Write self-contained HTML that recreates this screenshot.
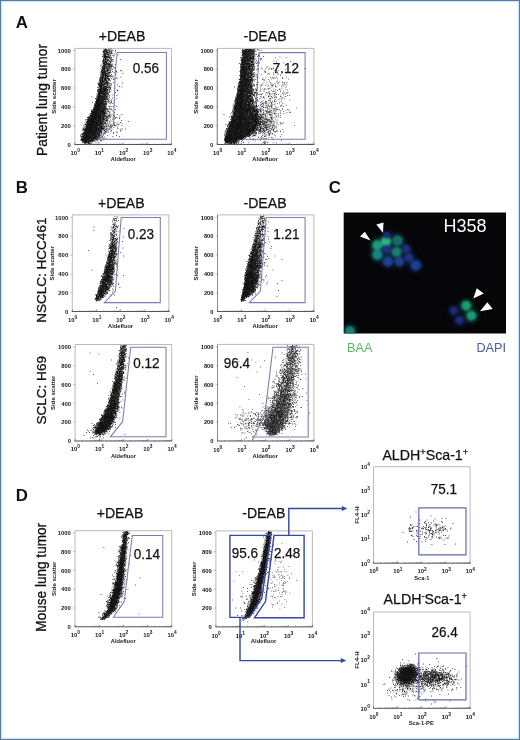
<!DOCTYPE html>
<html lang="en"><head><meta charset="utf-8"><title>Figure</title>
<style>html,body{margin:0;padding:0;background:#fff}body{width:520px;height:740px;overflow:hidden}svg{display:block;font-family:'Liberation Sans', Arial, Helvetica, sans-serif}</style></head><body>
<svg width="520" height="740" viewBox="0 0 520 740">
<defs><filter id="b1" x="-50%" y="-50%" width="200%" height="200%"><feGaussianBlur stdDeviation="1.1"/></filter><filter id="b3" x="-100%" y="-100%" width="300%" height="300%"><feGaussianBlur stdDeviation="2.6"/></filter><filter id="b2" x="-5%" y="-5%" width="110%" height="110%"><feGaussianBlur stdDeviation="0.3"/></filter><clipPath id="cimg"><rect x="343.7" y="212.5" width="162.3" height="121"/></clipPath></defs>
<rect x="0" y="0" width="520" height="740" fill="#fff"/>
<rect x="2.5" y="2.5" width="515" height="735" fill="none" stroke="#f1faff" stroke-width="1"/>
<rect x="1.5" y="1.5" width="517" height="737" fill="none" stroke="#cfe7fa" stroke-width="1"/>
<rect x="0.5" y="0.5" width="519" height="739" fill="none" stroke="#587c9f" stroke-width="1"/>
<text x="15.7" y="28.3" font-size="16.8" text-anchor="start" font-weight="bold" fill="#111">A</text>
<text x="15.7" y="193.3" font-size="16.8" text-anchor="start" font-weight="bold" fill="#111">B</text>
<text x="328.7" y="193.3" font-size="16.8" text-anchor="start" font-weight="bold" fill="#111">C</text>
<text x="15.7" y="501.2" font-size="16.8" text-anchor="start" font-weight="bold" fill="#111">D</text>
<text transform="translate(47 99.9) rotate(-90)" font-size="13.8" text-anchor="middle" font-weight="normal" fill="#111" stroke="#111" stroke-width="0.3" textLength="112" lengthAdjust="spacingAndGlyphs">Patient lung tumor</text>
<text transform="translate(45.6 270.2) rotate(-90)" font-size="13.7" text-anchor="middle" font-weight="normal" fill="#111" stroke="#111" stroke-width="0.3" textLength="105.3" lengthAdjust="spacingAndGlyphs">NSCLC: HCC461</text>
<text transform="translate(46 390.3) rotate(-90)" font-size="13.7" text-anchor="middle" font-weight="normal" fill="#111" stroke="#111" stroke-width="0.3" textLength="68.5" lengthAdjust="spacingAndGlyphs">SCLC: H69</text>
<text transform="translate(46.3 577.3) rotate(-90)" font-size="13.8" text-anchor="middle" font-weight="normal" fill="#111" stroke="#111" stroke-width="0.3" textLength="108.8" lengthAdjust="spacingAndGlyphs">Mouse lung tumor</text>
<text x="122" y="41" font-size="14.1" text-anchor="middle" font-weight="normal" fill="#111" stroke="#111" stroke-width="0.25">+DEAB</text>
<text x="265" y="41" font-size="14.1" text-anchor="middle" font-weight="normal" fill="#111" stroke="#111" stroke-width="0.25">-DEAB</text>
<text x="121.3" y="207.5" font-size="14.1" text-anchor="middle" font-weight="normal" fill="#111" stroke="#111" stroke-width="0.25">+DEAB</text>
<text x="265" y="207.5" font-size="14.1" text-anchor="middle" font-weight="normal" fill="#111" stroke="#111" stroke-width="0.25">-DEAB</text>
<text x="120" y="518.3" font-size="14.1" text-anchor="middle" font-weight="normal" fill="#111" stroke="#111" stroke-width="0.25">+DEAB</text>
<text x="263.8" y="518.3" font-size="14.1" text-anchor="middle" font-weight="normal" fill="#111" stroke="#111" stroke-width="0.25">-DEAB</text>
<g>
<path d="M74.9 144.5V48.4H171.5V144.5" fill="none" stroke="#b9b9b9" stroke-width="1"/>
<path d="M74.4 144.5H172" fill="none" stroke="#555" stroke-width="1"/>
<path d="M74.9 144.5v-2M82.2 144.5v-1M86.4 144.5v-1M89.4 144.5v-1M91.8 144.5v-1M93.7 144.5v-1M95.3 144.5v-1M96.7 144.5v-1M97.9 144.5v-1M99.1 144.5v-2M106.3 144.5v-1M110.6 144.5v-1M113.6 144.5v-1M115.9 144.5v-1M117.8 144.5v-1M119.5 144.5v-1M120.9 144.5v-1M122.1 144.5v-1M123.2 144.5v-2M130.5 144.5v-1M134.7 144.5v-1M137.7 144.5v-1M140.1 144.5v-1M142 144.5v-1M143.6 144.5v-1M145 144.5v-1M146.2 144.5v-1M147.3 144.5v-2M154.6 144.5v-1M158.9 144.5v-1M161.9 144.5v-1M164.2 144.5v-1M166.1 144.5v-1M167.8 144.5v-1M169.2 144.5v-1M170.4 144.5v-1M171.5 144.5v-2" stroke="#555" stroke-width="0.6" fill="none"/>
<text x="75.2" y="154.7" font-size="5.9" text-anchor="middle" font-weight="bold" fill="#1a1a1a">10<tspan dy="-2.9" font-size="4.8">0</tspan></text>
<text x="99.4" y="154.7" font-size="5.9" text-anchor="middle" font-weight="bold" fill="#1a1a1a">10<tspan dy="-2.9" font-size="4.8">1</tspan></text>
<text x="123.5" y="154.7" font-size="5.9" text-anchor="middle" font-weight="bold" fill="#1a1a1a">10<tspan dy="-2.9" font-size="4.8">2</tspan></text>
<text x="147.7" y="154.7" font-size="5.9" text-anchor="middle" font-weight="bold" fill="#1a1a1a">10<tspan dy="-2.9" font-size="4.8">3</tspan></text>
<text x="171.8" y="154.7" font-size="5.9" text-anchor="middle" font-weight="bold" fill="#1a1a1a">10<tspan dy="-2.9" font-size="4.8">4</tspan></text>
<path d="M74.9 125.7h-2M74.9 106.9h-2M74.9 88h-2M74.9 69.2h-2M74.9 50.4h-2" stroke="#999" stroke-width="0.6" fill="none"/>
<text x="70.8" y="146.7" font-size="5.9" text-anchor="end" font-weight="bold" fill="#1a1a1a">0</text>
<text x="70.8" y="127.9" font-size="5.9" text-anchor="end" font-weight="bold" fill="#1a1a1a">200</text>
<text x="70.8" y="109.1" font-size="5.9" text-anchor="end" font-weight="bold" fill="#1a1a1a">400</text>
<text x="70.8" y="90.2" font-size="5.9" text-anchor="end" font-weight="bold" fill="#1a1a1a">600</text>
<text x="70.8" y="71.4" font-size="5.9" text-anchor="end" font-weight="bold" fill="#1a1a1a">800</text>
<text x="70.8" y="52.6" font-size="5.9" text-anchor="end" font-weight="bold" fill="#1a1a1a">1000</text>
<text x="123.2" y="161" font-size="5.7" text-anchor="middle" font-weight="bold" fill="#222">Aldefluor</text>
<text transform="translate(56.3 96.5) rotate(-90)" font-size="6.1" text-anchor="middle" font-weight="bold" fill="#222">Side scatter</text>
<path d="M105 49h0.8m4.7 0h0.8M104.5 49.5h1.3m0.2 0h0.8m1.2 0h0.8m0.2 0h0.8M103 50h0.8m0.2 0h1.3m0.2 0h1.8m0.7 0h1.8m1.7 0h0.8M104.5 50.5h1.3m0.2 0h1.8m1.7 0h0.8m2.2 0h0.8m1.7 0h0.8M102.5 51h0.8m0.7 0h2.8m0.2 0h0.8m1.2 0h0.8m1.2 0h1.3M103 51.5h1.3m0.2 0h1.8m0.2 0h0.8m0.2 0h0.8m0.7 0h0.8m0.2 0h0.8M103 52h1.8m0.7 0h0.8m2.7 0h1.3m0.7 0h0.8m3.2 0h0.8M103 52.5h0.8m0.2 0h0.8m1.2 0h2.8m2.2 0h0.8M103 53h1.3m0.2 0h0.8m0.2 0h1.3m0.2 0h3.3m1.2 0h0.8M104 53.5h1.8m0.7 0h1.3m1.7 0h1.3m0.2 0h0.8m0.7 0h0.8M104.5 54h0.8m1.2 0h1.3m2.7 0h0.8M102.5 54.5h0.8m0.7 0h2.8m0.7 0h1.3m0.7 0h0.8m4.2 0h0.8M103 55h2.8m1.2 0h0.8m0.2 0h0.8m8.7 0h0.8M103.5 55.5h1.3m0.2 0h1.3m1.7 0h0.8m1.2 0h0.8m1.7 0h0.8m0.2 0h0.8M104.5 56h1.8m1.2 0h0.8m0.7 0h1.3m0.2 0h0.8M102 56.5h1.3m0.2 0h5.3M104 57h2.8m0.7 0h1.3m0.2 0h1.3m3.2 0h0.8M103.5 57.5h1.8m0.2 0h2.3m0.2 0h0.8m0.2 0h0.8m1.2 0h0.8M103 58h1.8m0.2 0h1.3m0.7 0h0.8m1.2 0h0.8m0.2 0h1.3M105 58.5h1.3m3.2 0h0.8M103 59h0.8m0.2 0h0.8m0.2 0h1.3m0.2 0h1.8m1.7 0h0.8m0.2 0h0.8M103 59.5h0.8m0.7 0h1.8m0.2 0h1.3m0.2 0h0.8m1.2 0h0.8m1.2 0h0.8m7.2 0h0.8M102.5 60h0.8m0.2 0h0.8m0.2 0h1.3m2.2 0h0.8m2.2 0h0.8m1.2 0h0.8M103 60.5h1.3m0.2 0h1.3m0.7 0h2.8m2.2 0h0.8M102.5 61h1.3m1.2 0h0.8m0.7 0h1.3m1.7 0h1.3m0.2 0h0.8M102.5 61.5h2.3m0.2 0h1.8m2.2 0h1.3m0.2 0h0.8m1.2 0h0.8M102.5 62h1.3m0.7 0h0.8m0.7 0h1.3m0.7 0h0.8M103.5 62.5h1.3m0.2 0h2.3m2.7 0h1.3M103 63h2.8m0.2 0h1.3m0.2 0h0.8m0.2 0h0.8m0.7 0h0.8M102.5 63.5h2.8m0.7 0h0.8m0.2 0h0.8m0.7 0h1.3M104 64h0.8m0.2 0h1.8m0.7 0h1.3m0.2 0h2.3m0.7 0h0.8M103.5 64.5h2.8m0.2 0h0.8m0.2 0h2.8m0.2 0h0.8m3.7 0h0.8M100.5 65h0.8m1.2 0h1.8m0.2 0h0.8m0.7 0h0.8m0.7 0h0.8m0.2 0h1.8m0.7 0h0.8m0.7 0h0.8M103 65.5h1.3m0.2 0h2.3m1.7 0h0.8m1.2 0h0.8m0.2 0h0.8M100.5 66h0.8m1.2 0h0.8m0.7 0h1.3m2.2 0h2.8m0.7 0h0.8M102 66.5h0.8m0.7 0h1.8m0.7 0h0.8m0.2 0h1.3m0.7 0h0.8m0.2 0h0.8m0.2 0h0.8m0.7 0h0.8M102 67h0.8m0.2 0h0.8m0.7 0h1.8m0.2 0h1.3m0.2 0h1.3m1.2 0h0.8m1.7 0h0.8M101.5 67.5h0.8m0.2 0h1.3m0.2 0h1.3m0.7 0h0.8m2.2 0h0.8m0.7 0h0.8m3.2 0h0.8M102 68h4.3m0.7 0h0.8m0.2 0h1.3m1.2 0h0.8M102 68.5h0.8m0.2 0h3.8m0.7 0h0.8m0.7 0h0.8m4.7 0h0.8M100.5 69h0.8m0.7 0h0.8m0.2 0h0.8m2.7 0h1.3m0.7 0h0.8m0.7 0h1.3m0.2 0h0.8M101.5 69.5h0.8m0.7 0h0.8m0.2 0h1.3m1.7 0h1.8m3.2 0h0.8M101.5 70h3.3m1.2 0h2.3m0.7 0h0.8M101.5 70.5h1.8m0.2 0h1.8m0.2 0h0.8m0.2 0h2.8m1.2 0h0.8m8.7 0h0.8M101 71h0.8m0.2 0h1.3m0.2 0h2.3m0.2 0h0.8m0.2 0h1.8m1.2 0h0.8m4.2 0h0.8m0.2 0h0.8m4.7 0h0.8M100.5 71.5h0.8m0.2 0h0.8m0.2 0h1.3m0.2 0h0.8m0.2 0h1.3m0.7 0h0.8m1.7 0h0.8m1.7 0h0.8m3.2 0h0.8M101.5 72h0.8m0.2 0h2.3m0.2 0h1.3m0.7 0h0.8m2.2 0h0.8M100.5 72.5h0.8m0.2 0h3.8m0.2 0h0.8m1.2 0h1.3m0.2 0h1.3m0.2 0h0.8m2.2 0h0.8m2.2 0h0.8M101 73h2.8m0.2 0h2.3m1.7 0h1.3m0.2 0h0.8M100.5 73.5h0.8m0.7 0h1.8m0.2 0h1.8m0.2 0h1.3m0.2 0h0.8m0.2 0h0.8m13.2 0h0.8M102 74h2.3m0.7 0h1.3m0.2 0h1.3m0.7 0h1.3m5.2 0h0.8M100.5 74.5h1.3m0.2 0h2.3m0.2 0h1.8m1.2 0h0.8m2.7 0h0.8M101.5 75h1.3m0.2 0h3.3m0.2 0h0.8m0.2 0h1.8m6.2 0h0.8M100.5 75.5h0.8m0.2 0h0.8m0.2 0h1.8m0.2 0h3.3m0.7 0h0.8m0.7 0h0.8M100 76h0.8m1.2 0h1.3m0.2 0h0.8m0.2 0h3.8m1.2 0h1.3m0.2 0h0.8m0.7 0h0.8M100.5 76.5h0.8m0.2 0h1.3m0.2 0h0.8m1.2 0h1.8m0.7 0h1.8m0.2 0h0.8m1.2 0h0.8M101 77h0.8m0.2 0h1.8m0.2 0h0.8m0.2 0h1.3m0.7 0h2.3m3.2 0h0.8m7.2 0h0.8M100.5 77.5h1.3m0.2 0h2.3m0.7 0h0.8m0.2 0h0.8m0.2 0h0.8M99 78h1.3m0.2 0h2.3m0.2 0h0.8m0.2 0h0.8m0.2 0h1.3m0.7 0h0.8m7.7 0h1.3m0.7 0h0.8M100 78.5h3.3m0.7 0h0.8m0.2 0h1.3m0.2 0h2.8m1.7 0h0.8M100 79h0.8m0.2 0h2.3m0.2 0h0.8m0.2 0h2.3m1.2 0h0.8m0.2 0h1.3m2.7 0h0.8m0.7 0h0.8M99.5 79.5h1.3m0.7 0h1.3m1.2 0h2.3m2.2 0h1.3m3.2 0h0.8M99 80h1.3m0.7 0h1.3m0.2 0h2.8m0.2 0h1.3m0.2 0h1.3m0.2 0h0.8M99.5 80.5h1.8m0.2 0h1.8m1.2 0h0.8m0.2 0h1.3m1.2 0h0.8m0.7 0h0.8M99.5 81h1.8m0.2 0h2.8m0.2 0h0.8m0.2 0h0.8m0.2 0h0.8m2.7 0h0.8M99.5 81.5h1.8m0.7 0h3.3m0.7 0h1.3M99.5 82h2.3m0.2 0h2.3m0.7 0h0.8m0.7 0h1.8M98.5 82.5h0.8m0.7 0h2.3m0.2 0h0.8m1.7 0h3.3m0.2 0h0.8m3.7 0h0.8M99 83h0.8m1.2 0h2.3m0.2 0h1.8m0.2 0h0.8m0.2 0h1.3m0.7 0h0.8m12.7 0h0.8M97.5 83.5h0.8m0.2 0h0.8m0.2 0h1.3m0.2 0h1.8m1.2 0h2.3m0.2 0h0.8m0.2 0h0.8m0.2 0h1.3m0.7 0h0.8M98.5 84h5.8m0.2 0h0.8m0.2 0h0.8m0.7 0h0.8m3.2 0h0.8M98 84.5h0.8m0.2 0h3.3m0.7 0h2.3m1.2 0h1.3M98 85h1.3m0.2 0h0.8m0.2 0h1.3m0.2 0h1.3m0.2 0h0.8m0.2 0h0.8m0.7 0h0.8m0.2 0h2.8m1.2 0h0.8m5.2 0h0.8M99 85.5h3.8m0.2 0h0.8m3.2 0h0.8m2.2 0h0.8M99 86h0.8m0.2 0h1.3m0.2 0h4.3m0.2 0h0.8m0.2 0h0.8m0.7 0h0.8m0.7 0h0.8M99 86.5h3.3m0.2 0h0.8m0.7 0h2.8m1.7 0h0.8m9.7 0h0.8M98 87h0.8m0.2 0h3.8m0.7 0h2.8m0.2 0h1.3m1.2 0h0.8m11.7 0h0.8M97 87.5h0.8m2.2 0h0.8m0.2 0h1.3m0.7 0h1.8m1.2 0h2.3m0.2 0h1.3m0.7 0h0.8M98.5 88h1.3m0.7 0h6.3m0.7 0h1.3m0.2 0h0.8m0.2 0h0.8m3.7 0h0.8M99.5 88.5h4.3m0.2 0h2.8m3.2 0h0.8M98.5 89h0.8m0.2 0h1.3m0.2 0h0.8m1.2 0h0.8m0.2 0h1.8m0.2 0h1.3m1.2 0h0.8M97.5 89.5h1.3m0.2 0h3.8m0.2 0h2.8m0.2 0h2.3m1.2 0h0.8M97.5 90h5.3m0.2 0h3.3m1.2 0h0.8m0.7 0h0.8m0.7 0h0.8m5.2 0h0.8M97.5 90.5h1.3m0.7 0h1.8m0.2 0h1.3m0.2 0h3.8m0.2 0h0.8m9.2 0h0.8M98 91h3.8m0.2 0h0.8m0.2 0h1.8m0.2 0h3.3m0.7 0h0.8m7.7 0h0.8M97 91.5h1.3m0.7 0h4.8m0.2 0h1.3m0.2 0h0.8m0.2 0h0.8m2.2 0h0.8M98 92h6.3m1.2 0h0.8m0.7 0h1.3m0.7 0h0.8M98 92.5h4.3m0.2 0h1.3m0.2 0h0.8m0.2 0h1.3m0.2 0h0.8m2.2 0h0.8m4.7 0h0.8M98 93h0.8m0.7 0h3.3m0.2 0h1.8m0.2 0h1.8m0.2 0h0.8m0.2 0h0.8M98 93.5h6.8m0.2 0h1.3m0.2 0h1.8M96.5 94h0.8m0.2 0h0.8m0.2 0h2.8m0.7 0h0.8m0.2 0h2.3m2.2 0h0.8M97.5 94.5h3.8m1.2 0h2.3m0.2 0h1.3m0.2 0h0.8m0.7 0h0.8m5.2 0h0.8M98.5 95h0.8m0.2 0h5.3m0.2 0h1.8m0.2 0h0.8m0.2 0h0.8m3.7 0h0.8M97 95.5h0.8m0.2 0h0.8m0.2 0h2.3m0.7 0h1.3m0.7 0h1.8m0.7 0h0.8m1.7 0h0.8m6.7 0h0.8M96.5 96h0.8m0.7 0h3.8m0.2 0h2.3m0.2 0h1.8M97.5 96.5h5.3m0.2 0h2.8m0.2 0h1.8m0.7 0h0.8M91.5 97h0.8m3.7 0h0.8m0.2 0h4.3m0.2 0h1.8m0.2 0h1.3m0.2 0h0.8m0.2 0h0.8M97 97.5h0.8m0.2 0h5.3m0.2 0h1.3m0.7 0h0.8m0.2 0h1.3m1.2 0h0.8M96 98h0.8m0.2 0h1.3m0.2 0h2.3m1.2 0h1.3m0.2 0h1.3m0.2 0h1.8m5.2 0h0.8M95 98.5h0.8m1.2 0h3.3m0.2 0h4.8m1.2 0h1.3m0.7 0h0.8m7.2 0h0.8M95.5 99h0.8m0.2 0h5.8m0.2 0h1.3m0.2 0h3.3M96 99.5h0.8m0.2 0h3.3m0.2 0h2.3m0.2 0h3.3m0.2 0h0.8m0.2 0h0.8m0.2 0h0.8M96 100h1.3m0.2 0h6.8m0.2 0h1.3m1.7 0h0.8m2.7 0h0.8M96 100.5h3.8m0.2 0h2.3m0.2 0h1.3m1.7 0h0.8m1.7 0h0.8m4.7 0h0.8M96 101h5.8m0.2 0h1.8m0.2 0h0.8m0.2 0h0.8m4.7 0h1.3M95 101.5h1.8m0.2 0h4.8m0.2 0h0.8m0.2 0h2.8m0.2 0h0.8m0.7 0h0.8m0.7 0h0.8M95.5 102h2.3m0.2 0h3.8m0.2 0h2.3m0.2 0h0.8m0.2 0h0.8m0.2 0h0.8m0.7 0h0.8m1.7 0h0.8M92 102.5h0.8m2.7 0h3.8m0.2 0h3.8m1.7 0h0.8m2.2 0h0.8m2.2 0h0.8m2.2 0h0.8M95.5 103h5.8m0.2 0h2.8m0.2 0h0.8m1.2 0h0.8m3.2 0h0.8M94.5 103.5h0.8m0.2 0h8.3m0.2 0h2.8m2.7 0h0.8m2.2 0h0.8M94.5 104h0.8m0.2 0h8.3m1.7 0h1.3M94.5 104.5h2.3m0.2 0h4.8m0.7 0h3.3m0.2 0h0.8M94.5 105h6.3m0.2 0h3.3m0.2 0h1.8M94 105.5h6.8m0.2 0h1.8m0.2 0h1.3m0.2 0h0.8m9.2 0h0.8M94 106h8.8m0.7 0h0.8m0.2 0h1.3m0.7 0h0.8m1.2 0h0.8M95 106.5h6.3m0.2 0h0.8m0.2 0h0.8m0.2 0h2.3m4.2 0h0.8m0.7 0h0.8m4.2 0h0.8M93.5 107h0.8m0.2 0h7.8m0.2 0h0.8m0.7 0h1.3m0.7 0h0.8m2.2 0h0.8m3.2 0h0.8M93.5 107.5h7.8m0.2 0h4.3M93.5 108h0.8m0.2 0h6.3m0.2 0h4.3m3.7 0h0.8M93.5 108.5h5.3m0.2 0h1.3m0.2 0h1.3m0.2 0h2.8m0.2 0h1.3m0.2 0h0.8M93.5 109h0.8m0.2 0h5.8m0.2 0h1.8m0.7 0h2.8m0.2 0h1.3m0.2 0h1.3m1.2 0h0.8m0.2 0h0.8M92.5 109.5h8.8m0.2 0h2.3m0.2 0h0.8m0.2 0h0.8m1.2 0h0.8m1.7 0h0.8m4.7 0h0.8M91.5 110h0.8m0.7 0h2.3m0.2 0h7.8m0.2 0h1.3m0.7 0h1.8m4.2 0h0.8M91 110.5h0.8m0.7 0h0.8m0.2 0h6.8m0.2 0h4.8m2.2 0h0.8M91.5 111h0.8m1.2 0h4.3m0.2 0h3.8m0.2 0h2.3m0.7 0h0.8m6.7 0h0.8M91 111.5h7.3m0.2 0h5.8m0.2 0h1.3m1.7 0h1.3M91 112h10.3m0.2 0h3.3m0.7 0h0.8m0.2 0h0.8m0.2 0h0.8m0.7 0h1.3M91.5 112.5h6.3m0.2 0h3.8m0.2 0h3.3m0.2 0h0.8m7.7 0h0.8M91.5 113h8.8m0.2 0h4.8m4.2 0h0.8M90 113.5h1.3m0.2 0h7.8m0.2 0h1.8m0.2 0h2.3m0.2 0h1.8m0.2 0h0.8M90.5 114h8.8m0.2 0h0.8m0.2 0h1.3m0.7 0h0.8m0.2 0h1.8m0.2 0h0.8m0.2 0h1.3m1.2 0h0.8M91.5 114.5h6.3m0.2 0h3.3m0.2 0h2.8m0.2 0h0.8m4.2 0h0.8m1.2 0h0.8m4.7 0h0.8m3.7 0h0.8M89.5 115h8.3m0.7 0h2.8m0.2 0h1.3m0.2 0h1.8m3.2 0h0.8m5.2 0h0.8M90 115.5h9.8m0.2 0h1.3m0.2 0h0.8m0.2 0h2.8m0.2 0h0.8m1.2 0h0.8m0.2 0h0.8m0.2 0h0.8m2.7 0h0.8M89.5 116h13.3m1.2 0h0.8m0.2 0h0.8m0.7 0h0.8m1.7 0h0.8m1.7 0h0.8m7.2 0h0.8M89.5 116.5h2.3m0.2 0h4.8m0.2 0h4.8m0.2 0h1.3m0.2 0h1.3m0.2 0h0.8m0.2 0h0.8m0.2 0h0.8m0.7 0h0.8m0.2 0h0.8m3.7 0h0.8M88 117h1.3m0.2 0h11.8m0.2 0h2.8m5.2 0h1.3m3.7 0h0.8M87 117.5h1.3m0.2 0h2.3m0.2 0h10.3m0.7 0h0.8m0.2 0h1.3m1.7 0h0.8m0.2 0h1.3m7.2 0h0.8m0.2 0h0.8M87.5 118h17.3m0.2 0h1.3m1.2 0h0.8m1.2 0h0.8m8.7 0h0.8M88 118.5h0.8m0.7 0h0.8m0.2 0h10.8m0.2 0h1.3m0.2 0h1.3m1.2 0h1.3m1.2 0h0.8m6.2 0h0.8m3.2 0h0.8M87.5 119h0.8m0.2 0h7.3m0.2 0h1.8m0.2 0h0.8m0.2 0h3.3m0.7 0h1.3m0.2 0h0.8m1.2 0h0.8m4.7 0h0.8m1.2 0h0.8M85.5 119.5h0.8m0.2 0h0.8m0.2 0h2.3m0.2 0h7.3m0.7 0h3.3m0.7 0h3.3m1.2 0h1.3M87 120h0.8m0.2 0h15.8m2.2 0h0.8m3.2 0h0.8M87.5 120.5h7.8m0.2 0h2.3m0.2 0h3.8m0.2 0h0.8m1.7 0h1.3m0.2 0h0.8m0.2 0h1.3m12.7 0h0.8M85.5 121h0.8m0.7 0h11.8m0.2 0h2.8m0.2 0h2.3m1.2 0h0.8m5.2 0h0.8M86.5 121.5h12.3m0.2 0h1.8m1.2 0h0.8m0.2 0h0.8m0.7 0h0.8m1.2 0h0.8m1.7 0h0.8m18.2 0h0.8M86 122h1.8m0.2 0h7.3m0.2 0h2.3m0.2 0h6.8m1.7 0h0.8M86.5 122.5h1.8m0.2 0h9.8m0.2 0h4.8m1.2 0h1.3m3.7 0h0.8m4.2 0h0.8m4.7 0h0.8M84.5 123h0.8m1.2 0h4.8m0.2 0h11.3m4.2 0h0.8m0.7 0h0.8m8.2 0h0.8m3.2 0h0.8M87 123.5h2.3m0.2 0h6.3m0.2 0h2.8m0.2 0h0.8m0.2 0h1.8m0.2 0h1.3m0.7 0h0.8m0.2 0h1.3M85.5 124h1.3m0.2 0h7.3m0.2 0h1.3m0.2 0h2.3m0.2 0h0.8m0.2 0h0.8m0.7 0h2.8m0.7 0h0.8m0.2 0h1.3m4.7 0h0.8m1.7 0h0.8M84.5 124.5h15.3m0.2 0h2.3m0.7 0h1.3m4.2 0h0.8m0.7 0h0.8m6.7 0h0.8m0.2 0h0.8M86 125h9.3m0.2 0h0.8m0.2 0h2.3m0.2 0h1.3m0.2 0h3.3m2.2 0h1.3m6.7 0h0.8m1.2 0h0.8M83.5 125.5h0.8m1.7 0h1.8m0.2 0h0.8m0.2 0h5.8m0.2 0h5.3m0.2 0h0.8m6.2 0h0.8m2.2 0h0.8m2.7 0h1.3m6.2 0h0.8M85.5 126h12.8m0.7 0h1.3m0.2 0h1.3m0.7 0h1.3m0.2 0h0.8m0.7 0h1.3m1.7 0h0.8m0.7 0h0.8m0.7 0h1.3m2.2 0h0.8M85.5 126.5h6.8m0.2 0h4.8m0.2 0h0.8m0.2 0h0.8m0.2 0h2.8m0.7 0h1.3m0.2 0h0.8m1.2 0h0.8m1.2 0h0.8m1.2 0h0.8M84 127h0.8m0.2 0h0.8m0.2 0h4.3m0.2 0h7.3m0.2 0h2.3m0.2 0h2.8m0.7 0h0.8m0.7 0h1.3m2.7 0h1.3m6.2 0h0.8M83.5 127.5h0.8m1.7 0h11.3m0.2 0h0.8m0.7 0h1.3m0.2 0h2.3m8.2 0h0.8m1.7 0h0.8M85.5 128h9.3m0.2 0h2.8m0.2 0h1.3m0.2 0h5.8m2.2 0h0.8M83 128.5h0.8m1.2 0h8.3m0.2 0h2.3m0.2 0h3.3m0.2 0h1.3m0.2 0h2.8m2.2 0h0.8m10.7 0h0.8M82.5 129h0.8m0.2 0h12.3m0.2 0h5.8m0.2 0h1.3m0.2 0h1.8m2.2 0h0.8m3.2 0h0.8m8.2 0h0.8m0.7 0h0.8m2.2 0h0.8M83 129.5h3.3m0.2 0h7.3m0.2 0h5.3m0.2 0h1.8m1.2 0h1.3m1.2 0h1.3m3.2 0h0.8M82.5 130h1.3m0.7 0h1.3m0.2 0h9.8m0.2 0h3.3m0.2 0h2.8m3.7 0h0.8M84 130.5h8.8m0.2 0h1.8m0.2 0h2.8m0.7 0h1.8m0.2 0h0.8m0.2 0h0.8m1.7 0h0.8m6.2 0h0.8m8.7 0h0.8M82.5 131h0.8m1.2 0h1.3m0.2 0h11.8m0.2 0h3.8m1.2 0h0.8m0.2 0h1.3m0.2 0h0.8m13.7 0h0.8M84.5 131.5h1.3m0.2 0h11.3m0.2 0h0.8m0.2 0h1.3m0.2 0h1.8m3.2 0h0.8m0.2 0h0.8m3.7 0h0.8M83.5 132h7.3m0.2 0h4.8m0.2 0h4.3m1.2 0h0.8m5.7 0h0.8m7.7 0h0.8M83.5 132.5h13.3m0.2 0h1.3m0.7 0h1.8m0.2 0h1.3m1.7 0h0.8m1.2 0h0.8m6.2 0h0.8m2.7 0h0.8M83 133h3.8m0.7 0h6.8m0.2 0h1.3m0.2 0h4.3m0.7 0h0.8M82 133.5h0.8m0.2 0h0.8m0.2 0h7.8m0.2 0h4.3m0.2 0h0.8m0.2 0h1.8m1.7 0h0.8m1.2 0h1.3m0.2 0h0.8m7.7 0h0.8M81 134h0.8m0.2 0h0.8m0.2 0h7.3m0.2 0h9.3m0.7 0h0.8M82 134.5h0.8m0.7 0h1.3m0.2 0h4.8m0.2 0h2.3m0.2 0h3.3m0.2 0h0.8m0.2 0h1.3m0.2 0h1.8M80 135h0.8m0.7 0h0.8m0.2 0h0.8m0.2 0h7.8m0.2 0h3.3m0.2 0h2.3m0.2 0h2.8m0.7 0h0.8M83.5 135.5h5.8m0.2 0h4.3m0.2 0h2.8m1.2 0h1.3m0.2 0h0.8m7.2 0h0.8m7.7 0h0.8M80.5 136h0.8m0.7 0h0.8m0.2 0h12.8m0.2 0h2.8m0.2 0h1.8m1.2 0h1.3M81 136.5h3.3m0.2 0h7.3m0.2 0h1.3m0.2 0h3.8m0.2 0h1.3m2.2 0h0.8m10.7 0h0.8m5.7 0h0.8M80.5 137h0.8m0.7 0h0.8m0.2 0h10.3m0.2 0h2.8m0.2 0h0.8m0.7 0h0.8m0.2 0h0.8m1.7 0h0.8m1.7 0h0.8M82.5 137.5h0.8m0.2 0h8.8m0.2 0h2.3m0.2 0h1.8m0.2 0h1.3m0.2 0h1.3m2.2 0h0.8M81 138h0.8m0.2 0h6.8m0.2 0h3.3m0.7 0h3.3m0.2 0h0.8M81.5 138.5h10.3m0.2 0h4.8m0.2 0h0.8m0.7 0h0.8m3.2 0h0.8m2.2 0h0.8M81 139h0.8m0.2 0h2.3m0.2 0h1.8m0.2 0h7.3m0.2 0h0.8m0.7 0h1.3m0.7 0h1.3m0.7 0h0.8m3.2 0h0.8M80.5 139.5h8.8m1.2 0h3.8m0.2 0h0.8m0.2 0h1.3m0.7 0h0.8m9.7 0h0.8M81 140h6.3m0.2 0h3.8m0.7 0h1.8m1.7 0h0.8m0.2 0h1.3m2.2 0h1.3m2.2 0h0.8M80.5 140.5h0.8m0.2 0h9.8m0.2 0h2.3m0.2 0h0.8m5.7 0h0.8M82 141h0.8m0.2 0h6.3m0.2 0h3.8m0.2 0h0.8m2.7 0h0.8m3.2 0h0.8M82.5 141.5h0.8m0.2 0h3.8m1.2 0h3.3m0.2 0h0.8m1.7 0h0.8M82 142h1.3m1.2 0h2.3m0.2 0h2.8m2.2 0h0.8m2.7 0h0.8m2.2 0h0.8M82.5 142.5h1.3m0.2 0h0.8m0.2 0h1.8m0.2 0h2.3M84.5 143h1.3m0.7 0h0.8m0.2 0h3.3m0.7 0h0.8M84 143.5h0.8m0.7 0h0.8m1.7 0h0.8m0.2 0h0.8m0.7 0h0.8" stroke="#000" stroke-width="0.8" fill="none" filter="url(#b2)"/>
<polygon points="117.2,52.4 166.4,52.4 166.4,139.3 98.9,139.3 113.5,124.7 115.2,72" fill="none" stroke="#7680ae" stroke-width="1.05" stroke-linejoin="miter"/>
<text x="146" y="72.9" font-size="15" text-anchor="middle" fill="#111" stroke="#111" stroke-width="0.25" textLength="26.3" lengthAdjust="spacingAndGlyphs">0.56</text>
</g>
<g>
<path d="M217.3 144.5V48.4H313.9V144.5" fill="none" stroke="#b9b9b9" stroke-width="1"/>
<path d="M217.3 144.5V48.4" fill="none" stroke="#8c8c8c" stroke-width="1"/>
<path d="M216.8 144.5H314.4" fill="none" stroke="#555" stroke-width="1"/>
<path d="M217.3 144.5v-2M224.6 144.5v-1M228.8 144.5v-1M231.8 144.5v-1M234.2 144.5v-1M236.1 144.5v-1M237.7 144.5v-1M239.1 144.5v-1M240.3 144.5v-1M241.4 144.5v-2M248.7 144.5v-1M253 144.5v-1M256 144.5v-1M258.3 144.5v-1M260.2 144.5v-1M261.9 144.5v-1M263.3 144.5v-1M264.5 144.5v-1M265.6 144.5v-2M272.9 144.5v-1M277.1 144.5v-1M280.1 144.5v-1M282.5 144.5v-1M284.4 144.5v-1M286 144.5v-1M287.4 144.5v-1M288.6 144.5v-1M289.8 144.5v-2M297 144.5v-1M301.3 144.5v-1M304.3 144.5v-1M306.6 144.5v-1M308.5 144.5v-1M310.2 144.5v-1M311.6 144.5v-1M312.8 144.5v-1M313.9 144.5v-2" stroke="#555" stroke-width="0.6" fill="none"/>
<text x="217.6" y="155.2" font-size="5.7" text-anchor="middle" font-weight="bold" fill="#111">10<tspan dy="-3.1" font-size="4.9">0</tspan></text>
<text x="241.8" y="155.2" font-size="5.7" text-anchor="middle" font-weight="bold" fill="#111">10<tspan dy="-3.1" font-size="4.9">1</tspan></text>
<text x="265.9" y="155.2" font-size="5.7" text-anchor="middle" font-weight="bold" fill="#111">10<tspan dy="-3.1" font-size="4.9">2</tspan></text>
<text x="290.1" y="155.2" font-size="5.7" text-anchor="middle" font-weight="bold" fill="#111">10<tspan dy="-3.1" font-size="4.9">3</tspan></text>
<text x="314.2" y="155.2" font-size="5.7" text-anchor="middle" font-weight="bold" fill="#111">10<tspan dy="-3.1" font-size="4.9">4</tspan></text>
<path d="M217.3 125.7h-2M217.3 106.9h-2M217.3 88h-2M217.3 69.2h-2M217.3 50.4h-2" stroke="#999" stroke-width="0.6" fill="none"/>
<text x="213.2" y="146.7" font-size="5.7" text-anchor="end" font-weight="bold" fill="#111">0</text>
<text x="213.2" y="127.9" font-size="5.7" text-anchor="end" font-weight="bold" fill="#111">200</text>
<text x="213.2" y="109.1" font-size="5.7" text-anchor="end" font-weight="bold" fill="#111">400</text>
<text x="213.2" y="90.2" font-size="5.7" text-anchor="end" font-weight="bold" fill="#111">600</text>
<text x="213.2" y="71.4" font-size="5.7" text-anchor="end" font-weight="bold" fill="#111">800</text>
<text x="213.2" y="52.6" font-size="5.7" text-anchor="end" font-weight="bold" fill="#111">1000</text>
<text x="265.1" y="161" font-size="5.8" text-anchor="middle" font-weight="bold" fill="#222">Aldefluor</text>
<text transform="translate(197.7 96.5) rotate(-90)" font-size="6.1" text-anchor="middle" font-weight="bold" fill="#222">Side scatter</text>
<polygon points="259,52.6 305.1,52.6 305.1,139.3 241.2,139.3 255.5,126.2 257,90" fill="none" stroke="#7680ae" stroke-width="1.05" stroke-linejoin="miter"/>
<path d="M254 49h0.8M242 49.5h0.8m2.2 0h3.8m0.2 0h3.3m0.2 0h1.3m3.2 0h0.8M242.5 50h2.3m0.2 0h0.8m0.2 0h0.8m0.2 0h4.3m0.2 0h0.8m1.7 0h0.8m0.7 0h0.8m1.7 0h0.8m2.2 0h0.8M242 50.5h1.8m0.2 0h3.3m0.7 0h3.8m0.2 0h1.3m0.2 0h0.8m5.2 0h0.8M242 51h1.3m0.2 0h1.8m0.7 0h1.8m0.2 0h1.3m0.7 0h0.8m0.2 0h4.3M242.5 51.5h5.3m0.2 0h0.8m0.2 0h1.3m0.2 0h0.8m0.2 0h1.3m0.2 0h1.3m1.2 0h0.8M242 52h1.3m0.2 0h1.3m0.2 0h2.3m0.2 0h1.8m0.2 0h2.3m0.2 0h1.3M242 52.5h0.8m0.2 0h3.3m0.2 0h1.8m0.2 0h1.8m0.2 0h0.8m0.2 0h0.8m0.7 0h1.3M241.5 53h0.8m0.2 0h5.8m0.2 0h1.3m0.2 0h1.8m0.2 0h0.8m0.2 0h1.8M243 53.5h4.3m0.2 0h3.3m0.2 0h1.8m0.2 0h1.8M242 54h4.8m0.2 0h3.8m0.2 0h0.8m0.2 0h0.8M242 54.5h5.3m0.2 0h1.8m0.2 0h0.8m0.2 0h1.8m0.2 0h1.3m1.2 0h0.8m0.2 0h0.8M242 55h1.8m1.2 0h2.8m0.2 0h1.3m1.2 0h1.3m1.2 0h1.3m4.2 0h1.3M241.5 55.5h0.8m0.2 0h0.8m0.2 0h1.8m0.2 0h3.3m0.2 0h1.3m0.2 0h0.8m0.2 0h0.8m0.2 0h0.8m0.7 0h0.8M243 56h2.3m0.2 0h2.3m0.2 0h3.3m0.7 0h0.8m0.2 0h0.8M243 56.5h1.3m0.2 0h4.8m0.2 0h1.3m0.7 0h1.3m0.2 0h0.8m0.7 0h0.8m7.7 0h0.8M241.5 57h1.3m0.2 0h3.3m0.7 0h2.3m0.2 0h2.3m0.2 0h0.8m0.2 0h1.3M240 57.5h0.8m0.7 0h0.8m0.2 0h0.8m0.2 0h4.8m0.7 0h0.8m0.2 0h1.8m0.7 0h1.8M242 58h0.8m0.2 0h1.3m0.2 0h1.3m0.2 0h4.8m0.2 0h2.3m0.2 0h0.8M241.5 58.5h0.8m0.2 0h4.3m0.2 0h0.8m0.2 0h0.8m0.2 0h3.3m0.2 0h1.8M241 59h1.8m1.7 0h5.3m0.2 0h3.3m0.2 0h0.8m1.2 0h0.8m3.7 0h0.8m0.2 0h0.8M241.5 59.5h3.8m0.7 0h3.8m0.2 0h0.8m0.7 0h0.8m0.2 0h1.8M240.5 60h0.8m0.2 0h2.8m0.2 0h4.8m0.2 0h0.8m2.7 0h0.8m0.7 0h0.8m4.7 0h0.8M241 60.5h1.8m0.2 0h0.8m0.2 0h2.8m0.2 0h1.3m0.2 0h1.3m0.2 0h1.3m0.2 0h0.8M241 61h4.8m0.2 0h1.3m0.7 0h2.8m0.7 0h1.8m0.2 0h0.8m1.7 0h0.8M242 61.5h1.3m0.2 0h2.8m0.2 0h1.8m0.2 0h1.3m0.2 0h0.8m0.2 0h2.3m0.2 0h0.8M241 62h5.8m0.2 0h1.8m0.7 0h0.8m0.7 0h0.8m0.2 0h0.8m0.2 0h0.8m3.7 0h0.8m17.7 0h0.8M241 62.5h0.8m0.2 0h4.3m0.7 0h0.8m0.7 0h0.8m1.2 0h1.3m0.2 0h1.3m1.7 0h0.8M241 63h0.8m0.2 0h4.3m0.2 0h6.3m6.2 0h0.8M239 63.5h0.8m0.7 0h0.8m0.2 0h1.3m0.2 0h0.8m0.2 0h0.8m0.2 0h5.3m2.2 0h0.8m0.7 0h0.8m1.2 0h0.8M241.5 64h3.3m0.2 0h3.8m0.7 0h1.8m0.7 0h0.8m0.2 0h1.3M240 64.5h0.8m0.2 0h4.8m0.2 0h2.8m0.2 0h1.3m0.2 0h2.3m0.2 0h1.3M240.5 65h1.3m0.2 0h2.3m0.2 0h0.8m0.2 0h0.8m0.2 0h3.3m0.7 0h3.8M240.5 65.5h0.8m0.7 0h3.3m0.7 0h1.3m1.2 0h2.3m0.2 0h0.8m0.7 0h1.3m3.2 0h0.8M240.5 66h0.8m0.7 0h1.3m0.7 0h0.8m0.2 0h1.8m0.2 0h3.8m0.2 0h0.8m1.2 0h0.8M240.5 66.5h5.3m0.2 0h1.8m0.2 0h2.8m0.2 0h0.8m0.2 0h1.3m1.2 0h0.8M240 67h0.8m0.2 0h0.8m0.7 0h4.3m0.2 0h1.3m0.2 0h2.3m1.2 0h0.8m0.7 0h1.3M240.5 67.5h6.8m0.7 0h2.3m1.7 0h1.3M240.5 68h5.3m0.2 0h3.3m0.2 0h2.8m0.2 0h0.8m0.7 0h0.8M241 68.5h0.8m0.2 0h4.8m0.2 0h2.3m0.2 0h1.3m0.7 0h0.8m0.2 0h0.8M240.5 69h7.3m0.2 0h0.8m0.2 0h1.3m0.7 0h1.3m0.2 0h1.3m0.2 0h0.8m2.7 0h0.8M240 69.5h0.8m0.2 0h4.3m0.2 0h0.8m0.2 0h1.3m0.2 0h1.3m0.2 0h1.8m0.2 0h1.3m0.7 0h0.8m2.2 0h0.8M240 70h1.3m0.2 0h3.8m0.2 0h2.3m0.7 0h3.8m0.2 0h0.8m0.7 0h0.8M240.5 70.5h1.3m0.2 0h2.8m0.2 0h3.8m0.2 0h0.8m0.7 0h1.3m0.7 0h1.3M240 71h1.3m0.2 0h0.8m0.2 0h3.8m0.7 0h1.8m1.7 0h1.3m0.2 0h0.8M239.5 71.5h0.8m0.2 0h3.3m0.2 0h1.8m0.2 0h1.3m0.2 0h1.3m0.7 0h1.3m0.2 0h0.8m0.2 0h0.8M240 72h1.3m0.2 0h1.3m0.2 0h2.3m0.2 0h1.8m1.7 0h3.3M240 72.5h1.3m0.2 0h5.8m0.2 0h1.8m0.2 0h0.8m0.2 0h1.8m1.7 0h0.8M240 73h0.8m0.2 0h0.8m0.2 0h3.3m0.2 0h4.3m0.2 0h1.8m0.7 0h1.3M240.5 73.5h2.3m0.2 0h4.3m0.2 0h1.8m0.2 0h2.3m0.7 0h0.8M240 74h3.3m0.2 0h3.3m0.2 0h2.3m0.2 0h1.8m0.7 0h1.3m1.2 0h0.8M240.5 74.5h2.8m0.2 0h2.8m0.2 0h2.3m0.2 0h0.8m0.7 0h2.3m0.2 0h0.8m1.7 0h0.8M240.5 75h7.3m0.7 0h0.8m1.2 0h0.8m0.2 0h1.8m2.7 0h0.8M239 75.5h0.8m0.2 0h5.8m0.2 0h0.8m0.2 0h2.3m0.7 0h0.8m0.2 0h0.8m2.2 0h0.8M240 76h1.3m0.2 0h0.8m0.2 0h3.8m0.7 0h0.8m0.2 0h0.8m0.2 0h4.3M240 76.5h6.3m0.2 0h1.3m0.2 0h0.8m0.2 0h1.8m2.2 0h1.3m0.2 0h0.8M240 77h2.3m0.2 0h3.3m0.7 0h0.8m0.2 0h1.8m0.2 0h1.8m0.2 0h0.8m0.7 0h0.8m2.7 0h0.8M240.5 77.5h5.8m0.2 0h2.3m0.2 0h2.8m0.2 0h0.8m4.2 0h0.8M240 78h0.8m0.2 0h5.3m0.2 0h3.3m0.2 0h0.8m0.2 0h1.8M240 78.5h1.3m0.2 0h1.3m0.2 0h1.3m0.2 0h1.8m0.2 0h2.8m1.7 0h0.8M238.5 79h0.8m1.2 0h2.3m0.2 0h6.3m0.7 0h1.3m0.2 0h0.8m2.2 0h0.8M239 79.5h3.8m0.2 0h5.8m0.2 0h3.8m0.2 0h0.8m1.7 0h0.8m6.2 0h0.8M240 80h1.3m0.2 0h7.8m0.2 0h0.8m0.2 0h0.8m0.2 0h1.8M240.5 80.5h0.8m0.2 0h2.8m0.2 0h5.3m0.2 0h1.8m0.2 0h1.3M239.5 81h6.8m0.2 0h0.8m0.2 0h2.3m0.7 0h1.3m2.2 0h0.8M239 81.5h4.3m0.2 0h2.8m0.2 0h4.8m0.7 0h0.8M239.5 82h1.8m0.2 0h4.3m0.2 0h1.3m0.2 0h0.8m0.2 0h1.8m0.2 0h1.8m0.2 0h0.8M239 82.5h6.8m0.2 0h2.3m0.2 0h1.8m7.2 0h0.8M238.5 83h0.8m0.2 0h5.3m0.2 0h2.8m0.2 0h1.8m0.2 0h1.3m0.7 0h0.8M238 83.5h1.3m0.2 0h7.8m0.2 0h1.3m0.2 0h0.8m0.2 0h1.3m0.2 0h0.8M239.5 84h7.3m0.2 0h0.8m0.2 0h0.8m0.2 0h1.8m0.2 0h0.8m1.7 0h0.8M238.5 84.5h0.8m0.2 0h1.3m0.2 0h1.8m0.2 0h1.3m0.2 0h5.8m0.2 0h0.8m0.2 0h0.8m1.2 0h0.8m1.7 0h0.8M238.5 85h0.8m1.2 0h0.8m0.2 0h8.3m0.7 0h0.8m1.7 0h0.8m3.2 0h0.8M238.5 85.5h5.3m0.2 0h3.3m0.2 0h2.3m0.2 0h0.8m0.2 0h1.3m0.2 0h0.8m0.7 0h0.8M237.5 86h0.8m0.2 0h3.3m0.2 0h10.3m1.7 0h0.8M238 86.5h9.3m0.2 0h2.3m0.2 0h0.8m0.2 0h0.8m0.2 0h0.8M234 87h0.8m2.7 0h2.3m0.2 0h1.8m0.2 0h1.8m0.2 0h1.3m0.2 0h2.8m1.2 0h1.3m0.2 0h1.8M238.5 87.5h1.8m0.2 0h3.8m0.2 0h0.8m0.2 0h1.3m0.2 0h2.8m0.2 0h1.8M237.5 88h1.3m0.2 0h5.3m0.2 0h3.8m0.7 0h1.8m0.2 0h0.8m5.7 0h0.8M237 88.5h0.8m1.7 0h6.3m0.2 0h2.8m0.7 0h0.8m0.2 0h1.3m0.2 0h0.8M238 89h0.8m0.2 0h1.3m0.2 0h4.8m0.2 0h0.8m0.2 0h1.8m0.2 0h0.8m1.2 0h0.8m0.2 0h0.8m1.2 0h0.8m0.7 0h0.8M237 89.5h7.3m0.2 0h3.3m0.2 0h2.8m0.7 0h1.3m0.2 0h0.8m1.7 0h1.3M238 90h6.3m0.2 0h4.8m0.2 0h1.3m0.2 0h0.8M237.5 90.5h1.3m0.2 0h8.3m0.2 0h1.3m0.7 0h0.8m0.2 0h1.8m0.2 0h0.8m0.2 0h0.8m1.7 0h0.8M237.5 91h9.3m0.2 0h0.8m0.2 0h0.8m0.2 0h3.3m0.7 0h0.8M237 91.5h0.8m0.2 0h7.3m0.2 0h4.8m0.2 0h0.8m0.2 0h1.3M237.5 92h0.8m0.2 0h3.3m0.2 0h5.8m0.7 0h1.8m0.2 0h1.3m0.7 0h0.8m2.2 0h0.8M237.5 92.5h0.8m0.2 0h0.8m0.7 0h4.3m0.2 0h5.8m0.2 0h0.8m0.2 0h0.8m0.2 0h0.8m0.7 0h0.8m0.2 0h0.8M237 93h2.3m0.2 0h3.3m0.2 0h0.8m2.2 0h1.3m0.7 0h2.8m0.2 0h1.3m1.7 0h0.8m12.2 0h0.8M237 93.5h1.8m0.2 0h6.8m0.2 0h0.8m0.2 0h1.3m0.2 0h3.3m0.2 0h0.8m2.7 0h0.8m1.2 0h0.8M236.5 94h5.8m0.2 0h0.8m0.2 0h1.8m0.7 0h1.8m0.7 0h0.8m0.7 0h0.8m0.2 0h1.8m0.2 0h0.8m0.2 0h0.8M237 94.5h0.8m0.7 0h9.8m1.2 0h1.8m0.7 0h0.8m0.2 0h1.3m6.7 0h0.8M236 95h7.3m0.2 0h1.3m0.7 0h1.8m0.2 0h1.3m0.7 0h1.8m1.7 0h0.8m2.7 0h0.8M236.5 95.5h7.3m0.2 0h3.3m0.2 0h2.3m0.2 0h1.3m0.2 0h0.8m0.7 0h0.8m0.2 0h0.8M237.5 96h2.8m0.2 0h4.3m0.7 0h4.3m0.2 0h0.8m0.7 0h0.8m2.2 0h0.8M236.5 96.5h8.3m0.2 0h0.8m0.2 0h3.8m0.2 0h1.3m0.2 0h0.8m1.7 0h0.8m13.2 0h0.8M235 97h0.8m0.7 0h7.3m0.2 0h1.3m0.2 0h1.3m0.7 0h1.8m1.2 0h0.8m0.2 0h1.3M236 97.5h14.3m1.2 0h1.3M235.5 98h0.8m0.2 0h0.8m0.2 0h6.8m0.2 0h1.8m0.2 0h1.3m1.7 0h0.8m0.2 0h0.8m0.2 0h1.3M235.5 98.5h0.8m0.2 0h3.3m0.2 0h3.8m0.7 0h1.3m0.2 0h4.3m0.2 0h0.8m0.7 0h0.8m2.2 0h1.3M235.5 99h9.3m0.2 0h1.8m0.2 0h1.8m0.2 0h0.8m0.7 0h0.8m0.2 0h0.8m0.7 0h0.8M235 99.5h0.8m0.2 0h11.3m0.2 0h0.8m0.2 0h3.8m0.2 0h0.8m3.7 0h0.8M235 100h1.8m0.2 0h1.3m0.2 0h6.3m0.2 0h0.8m1.2 0h4.3m0.2 0h1.8m2.2 0h0.8M234.5 100.5h0.8m0.2 0h0.8m0.2 0h2.3m0.2 0h6.8m0.2 0h2.3m0.2 0h0.8m0.7 0h3.8M234.5 101h0.8m0.2 0h1.3m0.2 0h6.3m0.2 0h3.3m0.2 0h4.3m0.2 0h1.3m0.2 0h0.8m1.2 0h0.8m1.7 0h0.8M235 101.5h4.3m0.2 0h5.8m0.2 0h2.8m0.2 0h2.8m0.2 0h2.8M234 102h0.8m1.2 0h8.3m0.2 0h1.3m0.7 0h1.3m0.2 0h0.8m0.2 0h2.8m0.2 0h1.3m1.7 0h1.3M235.5 102.5h0.8m0.2 0h6.8m0.2 0h0.8m0.2 0h3.3m0.2 0h2.3m1.2 0h0.8m1.2 0h0.8m0.2 0h0.8M235 103h3.8m0.2 0h7.8m1.2 0h2.8m1.2 0h1.3m0.7 0h0.8m10.2 0h0.8m5.2 0h0.8M235 103.5h8.8m0.2 0h3.3m0.7 0h0.8m0.2 0h0.8m0.2 0h1.3m0.7 0h1.3m9.2 0h0.8M233.5 104h1.3m0.7 0h1.8m0.2 0h5.3m0.2 0h1.3m0.2 0h5.3m0.2 0h3.8M235 104.5h1.3m0.2 0h6.8m0.2 0h6.8m0.7 0h0.8m1.2 0h0.8m7.2 0h0.8m1.2 0h0.8M233.5 105h0.8m0.7 0h4.8m0.2 0h3.8m0.2 0h1.3m1.2 0h4.8m0.2 0h0.8M234 105.5h1.8m0.2 0h6.8m0.2 0h4.3m0.2 0h2.8m0.2 0h0.8m0.7 0h0.8m0.2 0h0.8m0.2 0h0.8m1.2 0h0.8M232.5 106h0.8m1.2 0h0.8m0.2 0h1.3m0.2 0h12.8m0.2 0h3.3m1.7 0h0.8m0.2 0h0.8m5.2 0h0.8m4.7 0h0.8M234 106.5h0.8m0.2 0h2.3m0.2 0h5.3m0.2 0h0.8m0.7 0h2.8m0.2 0h1.8m0.2 0h1.8m0.2 0h0.8m0.2 0h0.8m0.2 0h0.8m0.7 0h0.8m0.2 0h0.8m0.2 0h0.8M233.5 107h1.3m0.2 0h2.8m0.2 0h1.8m0.2 0h7.3m0.7 0h3.8m0.7 0h0.8m0.7 0h1.3M233.5 107.5h5.8m0.2 0h6.8m0.2 0h1.3m0.2 0h3.3m0.2 0h2.3m0.7 0h0.8M233 108h0.8m0.2 0h6.8m0.2 0h1.8m0.2 0h2.3m0.2 0h4.3m0.2 0h4.8m0.2 0h1.3m3.2 0h0.8M233.5 108.5h0.8m0.2 0h4.3m0.2 0h6.3m0.2 0h1.3m0.2 0h3.3m0.2 0h2.3m0.2 0h2.3m1.7 0h0.8m9.7 0h0.8M234 109h7.3m0.2 0h5.3m0.2 0h3.8m0.2 0h1.8m0.7 0h1.8m4.7 0h0.8m8.2 0h0.8m0.7 0h0.8M233.5 109.5h2.3m0.2 0h16.3m0.2 0h2.3m1.7 0h1.3m0.2 0h0.8m0.2 0h0.8m0.7 0h0.8M232 110h1.3m0.7 0h5.8m0.2 0h6.8m0.2 0h3.3m0.2 0h1.8m0.2 0h3.8m0.7 0h1.3m4.7 0h0.8M233.5 110.5h4.3m0.2 0h3.8m0.2 0h2.8m0.2 0h6.3m0.7 0h0.8m0.2 0h2.8m0.2 0h0.8m0.7 0h0.8m1.7 0h0.8m0.7 0h0.8M234 111h1.3m0.2 0h8.3m0.2 0h2.3m0.2 0h3.3m0.2 0h1.8m0.2 0h1.8m0.2 0h0.8m0.7 0h1.3m0.2 0h0.8m1.7 0h1.3m5.2 0h0.8M232 111.5h0.8m0.7 0h0.8m0.7 0h7.8m0.2 0h0.8m0.2 0h4.8m0.2 0h2.3m0.2 0h4.8m0.2 0h0.8m0.7 0h0.8m7.7 0h0.8M232.5 112h4.8m0.2 0h6.8m0.2 0h3.3m0.2 0h0.8m0.2 0h1.3m0.7 0h0.8m1.2 0h1.8m0.2 0h0.8m0.2 0h1.3m0.2 0h0.8m1.7 0h0.8m0.2 0h0.8m6.7 0h0.8M231.5 112.5h0.8m1.2 0h2.8m0.2 0h1.8m0.2 0h6.3m0.2 0h0.8m0.2 0h4.3m0.2 0h2.8m0.2 0h0.8m0.2 0h0.8m0.7 0h0.8m0.7 0h1.3m4.2 0h0.8M233.5 113h0.8m0.2 0h0.8m0.2 0h1.8m0.2 0h7.8m0.2 0h2.8m0.7 0h0.8m0.2 0h3.3m1.7 0h1.3m0.2 0h1.8M232.5 113.5h5.3m0.2 0h4.8m0.2 0h3.8m0.2 0h1.3m0.7 0h0.8m0.2 0h3.8m0.7 0h1.3m0.7 0h1.3m16.2 0h0.8M230.5 114h0.8m2.2 0h1.3m0.2 0h6.3m0.2 0h4.8m0.7 0h6.3m0.2 0h2.3m0.2 0h2.3m0.7 0h0.8m0.7 0h0.8m0.7 0h0.8m0.7 0h0.8m1.2 0h0.8m10.2 0h0.8M223.5 114.5h0.8m8.7 0h1.8m0.2 0h1.8m0.7 0h2.3m0.2 0h3.3m0.7 0h2.8m0.2 0h1.3m0.2 0h4.8m0.2 0h2.8m0.2 0h1.8m2.2 0h0.8m1.7 0h1.3M233 115h3.3m0.2 0h9.3m0.2 0h1.3m0.2 0h2.8m0.2 0h0.8m0.7 0h1.8m0.2 0h1.8m0.2 0h2.8m1.7 0h0.8M231.5 115.5h0.8m0.2 0h0.8m0.7 0h4.8m0.2 0h5.8m0.2 0h0.8m0.2 0h2.3m0.2 0h2.8m0.2 0h2.8m0.2 0h1.8m0.2 0h1.3m2.2 0h0.8M232 116h2.3m0.2 0h1.3m0.2 0h5.3m0.2 0h6.8m0.7 0h3.3m0.2 0h1.3m0.2 0h4.8m0.2 0h0.8m4.7 0h0.8M230.5 116.5h0.8m0.2 0h1.3m0.7 0h2.3m0.2 0h9.8m0.7 0h0.8m0.2 0h2.3m0.2 0h3.8m0.7 0h1.8m0.2 0h0.8m0.7 0h1.3M229 117h0.8m1.7 0h0.8m0.2 0h4.8m0.2 0h6.8m0.7 0h2.3m0.2 0h2.3m0.7 0h0.8m0.2 0h1.8m0.2 0h5.3m0.2 0h1.3m5.2 0h0.8m5.2 0h0.8m6.2 0h0.8M231 117.5h4.3m0.2 0h9.3m0.2 0h5.8m0.2 0h3.3m0.2 0h0.8m0.2 0h1.8m1.7 0h0.8m0.7 0h0.8m0.2 0h0.8m0.2 0h0.8m0.2 0h0.8M231.5 118h18.8m0.2 0h3.8m0.2 0h0.8m0.2 0h2.8m0.2 0h1.3m0.2 0h0.8M231 118.5h0.8m0.2 0h0.8m0.2 0h1.3m0.2 0h1.3m0.2 0h10.3m0.2 0h0.8m0.2 0h4.8m0.2 0h2.3m0.2 0h1.3m0.2 0h1.8m2.2 0h0.8m4.2 0h0.8M232 119h3.3m0.2 0h6.3m0.7 0h2.3m0.2 0h6.8m0.2 0h2.8m0.2 0h0.8m0.2 0h2.3m0.2 0h1.3m0.7 0h0.8M230 119.5h0.8m0.2 0h0.8m0.2 0h1.3m0.2 0h5.3m0.2 0h9.3m0.2 0h3.3m0.2 0h3.8m0.2 0h1.3m0.2 0h1.3m0.7 0h0.8m6.2 0h0.8M231 120h15.8m0.2 0h0.8m0.2 0h1.3m0.2 0h0.8m0.2 0h5.8m0.2 0h1.8m1.7 0h0.8m0.7 0h0.8M231 120.5h0.8m0.2 0h4.8m0.2 0h5.3m0.2 0h1.3m0.2 0h5.3m0.2 0h0.8m0.2 0h1.8m0.7 0h2.8m0.7 0h1.3m0.2 0h0.8m3.2 0h0.8M231 121h12.3m0.2 0h3.3m0.7 0h3.3m0.2 0h1.3m0.2 0h1.3m0.2 0h2.3m0.2 0h2.3m11.7 0h0.8M230 121.5h1.8m0.2 0h5.3m0.2 0h6.8m0.2 0h2.3m0.2 0h2.3m0.2 0h1.3m0.2 0h7.3m0.7 0h0.8m0.2 0h1.3m0.2 0h0.8m8.2 0h0.8M228.5 122h1.3m0.7 0h5.3m0.2 0h9.8m0.2 0h4.8m0.2 0h1.3m0.2 0h0.8m0.2 0h1.3m0.2 0h2.3m0.7 0h0.8m0.7 0h0.8m0.2 0h0.8m0.2 0h0.8M229 122.5h1.3m0.2 0h14.3m0.2 0h6.3m0.2 0h2.8m0.2 0h0.8m0.2 0h2.3m0.2 0h0.8m1.2 0h1.3m5.2 0h0.8M229 123h1.3m0.2 0h6.3m0.2 0h4.8m0.2 0h0.8m1.2 0h1.3m0.2 0h1.3m0.2 0h7.3m0.2 0h1.8m0.2 0h1.3m0.2 0h0.8m0.7 0h1.3m3.7 0h0.8m1.2 0h0.8m15.7 0h0.8M229 123.5h1.3m0.2 0h3.8m0.2 0h9.3m0.2 0h7.8m0.2 0h1.3m1.2 0h0.8m0.2 0h1.8m0.2 0h0.8m0.2 0h1.3m2.7 0h0.8m0.7 0h0.8m16.7 0h0.8M227.5 124h0.8m0.2 0h3.3m0.2 0h2.3m0.2 0h0.8m0.2 0h6.3m0.2 0h4.8m0.7 0h3.8m0.2 0h1.8m0.2 0h2.3m0.2 0h0.8m0.2 0h0.8m0.7 0h1.3m0.2 0h0.8m2.2 0h0.8M225.5 124.5h0.8m2.2 0h0.8m0.2 0h21.3m0.2 0h0.8m0.7 0h2.8m0.2 0h1.8m1.7 0h0.8m0.2 0h1.3m1.2 0h0.8m4.7 0h0.8M228.5 125h5.3m0.2 0h2.3m0.2 0h9.3m0.2 0h2.8m0.2 0h0.8m1.2 0h1.8m0.2 0h1.8m0.2 0h1.8m1.2 0h0.8m0.2 0h0.8m5.7 0h0.8m0.7 0h0.8M227.5 125.5h0.8m0.7 0h14.8m0.2 0h5.8m0.2 0h0.8m0.2 0h2.3m0.2 0h3.8m0.2 0h0.8m1.2 0h0.8m5.7 0h0.8M227 126h0.8m0.7 0h2.3m0.2 0h1.3m0.2 0h12.3m0.2 0h5.3m0.2 0h1.3m0.2 0h4.3m0.7 0h0.8m1.7 0h0.8m11.7 0h0.8m3.2 0h0.8M227.5 126.5h0.8m0.7 0h16.8m0.2 0h1.3m0.2 0h5.8m0.2 0h1.8M227.5 127h0.8m0.7 0h2.8m0.2 0h2.8m0.2 0h5.3m0.2 0h1.3m0.2 0h3.8m0.2 0h1.8m0.2 0h4.8m0.2 0h0.8m1.2 0h2.8m1.2 0h0.8m0.2 0h0.8m0.2 0h0.8m3.2 0h0.8M228.5 127.5h1.8m0.2 0h11.3m0.2 0h1.8m0.2 0h0.8m0.2 0h4.3m0.2 0h0.8m0.7 0h5.3m1.2 0h0.8m8.2 0h0.8M227.5 128h22.3m0.2 0h3.3m0.2 0h2.8m0.2 0h0.8m2.7 0h0.8M226 128.5h1.3m0.2 0h1.3m0.2 0h1.8m0.2 0h10.8m0.2 0h2.8m0.2 0h3.3m0.2 0h2.8m0.2 0h4.8m1.2 0h0.8m7.7 0h0.8M227.5 129h20.3m0.2 0h1.8m0.2 0h1.8m0.2 0h2.8m2.7 0h0.8m1.7 0h0.8m0.2 0h0.8m1.7 0h0.8m0.7 0h0.8M226 129.5h0.8m1.2 0h2.3m0.2 0h2.8m0.7 0h5.8m0.2 0h3.8m0.2 0h10.3m0.2 0h0.8m1.2 0h0.8m2.7 0h0.8m6.7 0h0.8M226.5 130h1.3m0.2 0h14.8m0.2 0h1.3m0.2 0h2.8m0.2 0h2.8m0.2 0h1.3m0.2 0h2.3m0.2 0h0.8m1.2 0h0.8m0.2 0h1.3M225 130.5h0.8m0.7 0h11.3m0.2 0h13.3m0.2 0h3.3m0.2 0h0.8m2.2 0h0.8m4.2 0h0.8M227 131h0.8m0.2 0h0.8m0.2 0h3.8m0.2 0h6.8m0.2 0h7.8m0.2 0h0.8m0.7 0h1.8m0.7 0h2.3m0.2 0h0.8m4.2 0h0.8m10.2 0h0.8m4.7 0h0.8m0.2 0h0.8M225 131.5h0.8m1.2 0h11.3m0.2 0h1.3m0.2 0h3.8m0.2 0h2.3m0.2 0h5.8m0.2 0h0.8m0.2 0h1.3m4.2 0h0.8m0.2 0h0.8m3.7 0h0.8M226 132h16.3m0.2 0h7.8m1.7 0h0.8m0.7 0h1.8m2.7 0h0.8M224.5 132.5h0.8m1.2 0h4.3m0.2 0h14.3m0.2 0h1.8m0.2 0h3.8m0.7 0h1.8m1.2 0h1.8M226 133h1.3m0.2 0h1.3m0.2 0h18.3m0.2 0h1.8m0.2 0h1.3m0.7 0h1.8m0.7 0h0.8m0.2 0h0.8m0.2 0h0.8m1.2 0h1.3m9.2 0h0.8M225.5 133.5h1.8m0.2 0h3.8m0.2 0h1.3m0.2 0h10.8m0.2 0h0.8m0.2 0h2.8m0.2 0h1.8m0.7 0h0.8m0.7 0h1.3M224.5 134h0.8m0.7 0h1.3m0.7 0h14.3m0.2 0h2.8m0.2 0h1.8m0.2 0h3.3m0.7 0h0.8m3.7 0h0.8m7.7 0h0.8m2.7 0h0.8M226 134.5h16.3m0.2 0h0.8m0.2 0h0.8m0.2 0h0.8m0.2 0h2.8m0.2 0h1.3m0.2 0h0.8m0.2 0h0.8m2.7 0h0.8M224.5 135h3.8m0.2 0h16.8m0.2 0h2.3m0.2 0h0.8m0.2 0h1.3M224.5 135.5h0.8m1.2 0h12.3m0.2 0h6.3m0.2 0h0.8m0.7 0h1.3m0.2 0h0.8m0.2 0h1.3m2.2 0h0.8m0.2 0h1.3M224.5 136h0.8m0.7 0h1.3m0.2 0h5.8m0.2 0h1.3m0.7 0h1.3m0.2 0h7.8m0.2 0h2.8m0.2 0h1.3m2.7 0h0.8m0.7 0h0.8M225 136.5h20.8m0.2 0h0.8m0.7 0h1.3m0.2 0h0.8M225 137h4.8m0.2 0h5.3m0.2 0h4.8m0.2 0h3.3m0.2 0h0.8m0.7 0h0.8m5.2 0h0.8M225 137.5h17.3m0.2 0h1.3m1.7 0h0.8M224.5 138h19.8m0.2 0h0.8m15.7 0h0.8M224.5 138.5h9.3m0.2 0h5.3m0.2 0h1.3m0.2 0h1.3m0.2 0h0.8m1.2 0h0.8M224 139h2.3m0.2 0h9.8m0.2 0h4.3m0.2 0h0.8m0.7 0h0.8m10.2 0h0.8M224.5 139.5h13.3m0.2 0h0.8m0.2 0h0.8m0.2 0h1.8m8.2 0h0.8M224.5 140h0.8m0.2 0h5.8m0.2 0h1.3m0.2 0h1.8m0.2 0h2.3m0.2 0h0.8m0.2 0h1.3m12.7 0h0.8M224 140.5h0.8m0.2 0h6.8m0.2 0h2.8m0.2 0h2.3m4.7 0h0.8M224.5 141h7.8m0.7 0h3.8m0.2 0h1.3m0.2 0h0.8M225 141.5h9.8m0.2 0h1.3m0.2 0h0.8m0.7 0h0.8m2.2 0h0.8M225 142h1.3m0.2 0h7.3m0.2 0h2.3m0.7 0h0.8m0.7 0h0.8m9.2 0h0.8M225.5 142.5h2.8m0.2 0h0.8m0.2 0h0.8m0.2 0h1.8m0.2 0h1.8m0.2 0h1.3m0.2 0h1.3m5.7 0h0.8M225 143h2.3m0.2 0h0.8m0.7 0h2.8m0.7 0h1.8m0.2 0h0.8M224.5 143.5h0.8m2.2 0h0.8m0.2 0h1.3m0.2 0h0.8m0.2 0h1.3m0.7 0h0.8m0.2 0h1.3m0.7 0h0.8m1.2 0h0.8" stroke="#000" stroke-width="0.8" fill="none" filter="url(#b2)"/>
<path d="M258 55.5h0.8M257 56.5h0.8m1.7 0h0.8M279.5 57h0.8M286 57.5h0.8M275 58h0.8M260.5 58.5h0.8M277.5 60h0.8M273.5 61h0.8M290 61.5h0.8M257 63h0.8m25.7 0h0.8M267.5 66.5h0.8m9.7 0h0.8M266 67.5h0.8M261 68h0.8m7.7 0h0.8m2.7 0h0.8m13.7 0h0.8M271.5 68.5h0.8m0.7 0h0.8m30.7 0h0.8M262 69h0.8m2.2 0h0.8m2.2 0h0.8m0.7 0h0.8m0.7 0h0.8M271.5 69.5h0.8m12.7 0h0.8M274.5 70h1.3M274.5 70.5h0.8m2.7 0h0.8M264 71h0.8M265 71.5h0.8m15.2 0h0.8M264 72h0.8m12.2 0h0.8M265 72.5h0.8m7.2 0h0.8m1.7 0h0.8m0.7 0h0.8M291.5 73h0.8M268 73.5h0.8M267 74h0.8m1.2 0h0.8m3.2 0h0.8m3.2 0h0.8m0.2 0h0.8m1.7 0h0.8M261 74.5h0.8M273.5 75h0.8M280 75.5h0.8M276 77h0.8m9.2 0h0.8M270 77.5h0.8m1.2 0h0.8m9.7 0h0.8M262.5 78h0.8m2.2 0h0.8m6.7 0h0.8m0.7 0h1.3m6.2 0h0.8M273.5 78.5h0.8m7.7 0h0.8M271 79h0.8m5.2 0h0.8m10.2 0h0.8M262.5 79.5h0.8m4.7 0h0.8M264 80h1.3M263.5 81h0.8m4.7 0h0.8m7.2 0h0.8M266.5 82h0.8m8.7 0h0.8m2.2 0h0.8m2.2 0h0.8M270 82.5h0.8m7.2 0h0.8m5.2 0h0.8m1.7 0h0.8M263.5 83h0.8m17.7 0h0.8m1.2 0h0.8M270.5 83.5h0.8m3.2 0h0.8m1.7 0h0.8M262 84h0.8m3.7 0h0.8m17.2 0h0.8m1.2 0h0.8M270.5 84.5h0.8m1.2 0h0.8m9.2 0h0.8M260.5 85h1.8m10.2 0h0.8m1.7 0h0.8m2.7 0h0.8m5.2 0h0.8M265 85.5h0.8m2.2 0h0.8m2.2 0h0.8m0.7 0h0.8m8.2 0h0.8M260.5 86h1.3m10.2 0h0.8m2.2 0h0.8m7.2 0h0.8m2.2 0h0.8M267.5 86.5h0.8m6.7 0h0.8M271.5 87h0.8m3.7 0h0.8m4.7 0h0.8M285.5 87.5h0.8M260 88h0.8m8.7 0h0.8M264.5 88.5h0.8m2.7 0h0.8m0.7 0h0.8m11.2 0h0.8M262 89h0.8m1.7 0h0.8m2.2 0h0.8m5.2 0h0.8m4.7 0h0.8M266.5 89.5h0.8m11.7 0h0.8m5.7 0h0.8M260 90h0.8m2.7 0h1.3m10.2 0h0.8m4.2 0h0.8m6.2 0h0.8M271 90.5h0.8m5.2 0h0.8M259.5 91h0.8m0.2 0h0.8m8.2 0h0.8m3.2 0h0.8m8.7 0h0.8M263.5 91.5h0.8m8.2 0h1.3m0.7 0h0.8m4.7 0h0.8M254.5 92h0.8m13.2 0h0.8M266 92.5h0.8m1.7 0h0.8m6.2 0h0.8m10.2 0h0.8m0.2 0h0.8M255.5 93h0.8m0.7 0h0.8m7.7 0h0.8m16.7 0h0.8m0.2 0h0.8M262 93.5h0.8m6.2 0h1.3m2.2 0h0.8m0.7 0h1.3m6.7 0h0.8m3.7 0h0.8M260 94h0.8m8.2 0h0.8m1.7 0h0.8m1.7 0h0.8m0.7 0h0.8M258.5 94.5h0.8m0.2 0h0.8m9.2 0h0.8m5.7 0h0.8m1.2 0h0.8m6.2 0h0.8M256 95h0.8m8.7 0h0.8m8.2 0h0.8m7.7 0h0.8M254 95.5h0.8m13.7 0h0.8m4.2 0h0.8m12.7 0h0.8m1.2 0h0.8M261 96h0.8m8.7 0h0.8m8.7 0h0.8M248.5 96.5h0.8m10.7 0h0.8m2.7 0h0.8m4.2 0h0.8m1.7 0h0.8m8.2 0h0.8m4.7 0h0.8M263 97h0.8m4.7 0h0.8m2.2 0h0.8m1.2 0h0.8m0.2 0h1.3m0.2 0h0.8m4.7 0h0.8m2.2 0h0.8M257 97.5h0.8m5.2 0h0.8m12.2 0h0.8m5.7 0h0.8M255 98h0.8m4.7 0h0.8m2.2 0h0.8m7.7 0h0.8m1.7 0h0.8M259.5 98.5h0.8m4.2 0h0.8m4.7 0h1.3m10.2 0h0.8M269.5 99h1.3m8.7 0h0.8m4.2 0h0.8M275 99.5h0.8m2.7 0h0.8m2.2 0h0.8M268.5 100h0.8m20.2 0h0.8M262.5 100.5h0.8m4.7 0h0.8m0.7 0h0.8m3.7 0h0.8M257.5 101h0.8m7.2 0h0.8m3.7 0h0.8m1.7 0h0.8m3.2 0h0.8M261.5 101.5h0.8m2.7 0h0.8m0.2 0h0.8m3.2 0h0.8m3.2 0h1.3m5.7 0h0.8M261 102h0.8m3.2 0h0.8m6.2 0h0.8m1.7 0h0.8m4.2 0h0.8M260 102.5h0.8m5.7 0h0.8m3.7 0h0.8M263 103h1.3m0.2 0h0.8m3.2 0h0.8m0.2 0h0.8m1.2 0h0.8m6.7 0h0.8M255.5 103.5h0.8m5.7 0h0.8m3.2 0h0.8m10.2 0h0.8m4.7 0h0.8M256 104h0.8m4.2 0h0.8m4.7 0h0.8m3.7 0h0.8m2.7 0h0.8M253.5 104.5h0.8m13.7 0h0.8m3.7 0h0.8M255.5 105h0.8m3.7 0h0.8m4.2 0h0.8m4.7 0h0.8m0.2 0h0.8m2.2 0h0.8m6.2 0h0.8m3.7 0h0.8M258 105.5h0.8m1.2 0h0.8m5.7 0h0.8m4.2 0h0.8m8.2 0h0.8m0.2 0h0.8M258.5 106h0.8m4.2 0h0.8m1.7 0h0.8m0.7 0h0.8m0.2 0h0.8m0.7 0h0.8m0.2 0h0.8M253.5 106.5h0.8m7.2 0h1.3m6.2 0h0.8m1.2 0h0.8m3.7 0h0.8m4.2 0h0.8m1.7 0h0.8M261 107h0.8m1.2 0h0.8m5.2 0h0.8m1.7 0h0.8M263 107.5h1.3m0.7 0h1.3m0.2 0h0.8m3.7 0h0.8m5.7 0h0.8M247 108h0.8m8.7 0h0.8m3.2 0h0.8m5.2 0h0.8m0.2 0h0.8m3.7 0h0.8m1.7 0h0.8m1.2 0h0.8m18.7 0h0.8M273.5 108.5h0.8m1.2 0h0.8m5.7 0h0.8M254.5 109h0.8m6.2 0h0.8m0.2 0h0.8m10.7 0h0.8M273 109.5h0.8m2.2 0h0.8m0.2 0h0.8m1.2 0h0.8m2.2 0h0.8m4.2 0h0.8M247.5 110h0.8m7.7 0h0.8m10.2 0h0.8m2.2 0h0.8m3.2 0h0.8m0.2 0h0.8m0.7 0h0.8m1.2 0h0.8m8.7 0h0.8M256 110.5h0.8m6.7 0h0.8m1.2 0h0.8m0.7 0h0.8m3.2 0h0.8m8.2 0h0.8m4.7 0h0.8M258.5 111h0.8m5.7 0h0.8m3.7 0h0.8m2.2 0h0.8m0.2 0h0.8m1.2 0h0.8m13.2 0h0.8M257 111.5h1.3m2.2 0h0.8m2.2 0h0.8m2.2 0h0.8m0.7 0h0.8m0.2 0h1.3m0.2 0h0.8m11.7 0h0.8M274.5 112h1.3m4.2 0h0.8M258 112.5h0.8m7.7 0h0.8m0.7 0h0.8m0.2 0h1.3m0.7 0h0.8m14.7 0h0.8m1.7 0h0.8m0.2 0h0.8M263.5 113h0.8m1.7 0h0.8m0.2 0h1.3m1.2 0h0.8m1.7 0h0.8m0.7 0h0.8M274 113.5h1.3m2.7 0h0.8m1.2 0h0.8m2.7 0h0.8M259.5 114h0.8m4.2 0h0.8m1.2 0h0.8m2.2 0h0.8m0.2 0h0.8m2.7 0h0.8m0.7 0h0.8M260 114.5h0.8m1.2 0h0.8m0.2 0h0.8m4.7 0h0.8m0.2 0h0.8m0.2 0h0.8m0.2 0h0.8M265 115h0.8m3.2 0h0.8m0.2 0h1.3M261 115.5h1.3m2.7 0h0.8m4.7 0h0.8m6.7 0h0.8m1.2 0h0.8M262.5 116h0.8m3.7 0h0.8m4.2 0h0.8m2.7 0h0.8m0.2 0h0.8M254 116.5h0.8m4.7 0h0.8m0.7 0h0.8m0.2 0h1.3m3.2 0h0.8M250.5 117h0.8m8.7 0h0.8m4.2 0h0.8m3.7 0h0.8m1.2 0h0.8m2.2 0h0.8m0.7 0h0.8M251.5 117.5h0.8m1.2 0h0.8m6.7 0h0.8m1.2 0h1.3m5.7 0h0.8m0.2 0h0.8m8.2 0h0.8M255.5 118h0.8m2.2 0h1.3m0.2 0h0.8m0.2 0h0.8m8.7 0h0.8m1.7 0h0.8M257.5 118.5h0.8m1.7 0h0.8m1.7 0h0.8m2.7 0h0.8m0.7 0h0.8m2.7 0h1.3M260 119h0.8m1.2 0h0.8m0.7 0h0.8m0.2 0h1.3m0.7 0h0.8m3.2 0h1.3m0.2 0h0.8m2.2 0h0.8M255.5 119.5h0.8m2.7 0h0.8m1.2 0h0.8m1.7 0h0.8m0.2 0h0.8m0.2 0h0.8m1.2 0h1.3m0.2 0h0.8m1.7 0h0.8M264 120h0.8m1.2 0h0.8m0.2 0h0.8m0.2 0h0.8m0.2 0h0.8m7.7 0h0.8M259 120.5h0.8m2.7 0h0.8m0.2 0h0.8m2.7 0h1.8M252.5 121h0.8m6.7 0h0.8m1.7 0h0.8m1.7 0h0.8m3.2 0h0.8m0.2 0h0.8m0.2 0h0.8m0.2 0h0.8m0.2 0h0.8m1.7 0h0.8M252.5 121.5h0.8m1.2 0h0.8m2.2 0h0.8m4.7 0h2.8m0.2 0h1.8m1.2 0h1.8m2.2 0h0.8M256 122h0.8m1.7 0h0.8m0.7 0h0.8m0.2 0h2.3m1.2 0h0.8m3.2 0h0.8m1.7 0h0.8m2.2 0h0.8M250.5 122.5h0.8m6.7 0h0.8m1.2 0h0.8m0.7 0h1.3m0.7 0h1.3m0.7 0h1.8m3.2 0h0.8m6.2 0h0.8m1.7 0h0.8M256 123h0.8m0.7 0h0.8m7.2 0h0.8m1.2 0h0.8m2.7 0h0.8m0.7 0h0.8m1.2 0h0.8m0.7 0h0.8M255 123.5h1.3m0.2 0h0.8m1.2 0h1.3m0.2 0h0.8m1.7 0h0.8m0.2 0h0.8m5.7 0h0.8m9.7 0h0.8M250.5 124h0.8m1.2 0h0.8m3.2 0h0.8m2.2 0h0.8m1.7 0h1.3m0.2 0h0.8m0.7 0h0.8m3.2 0h0.8m0.7 0h0.8m1.7 0h0.8M253 124.5h1.3m2.2 0h0.8m0.2 0h0.8m0.7 0h0.8m0.7 0h0.8m1.7 0h0.8m0.2 0h0.8m1.7 0h0.8m0.7 0h0.8m8.7 0h0.8M252.5 125h0.8m7.2 0h0.8m0.2 0h0.8m2.7 0h0.8m0.7 0h0.8m2.2 0h1.3m1.2 0h0.8m0.7 0h1.3m5.7 0h0.8M254 125.5h0.8m2.7 0h0.8m0.7 0h0.8m2.7 0h0.8m0.7 0h0.8m0.7 0h0.8m2.2 0h0.8m1.2 0h0.8m1.7 0h0.8m20.2 0h0.8M250.5 126h0.8m5.2 0h0.8m0.2 0h1.3m2.7 0h0.8m0.7 0h0.8m0.2 0h0.8m0.2 0h0.8m4.7 0h0.8m1.2 0h0.8m0.2 0h1.3M261 126.5h0.8m1.2 0h0.8m1.2 0h0.8m0.7 0h0.8m0.2 0h0.8m0.7 0h0.8m0.7 0h0.8M253 127h0.8m3.2 0h0.8m0.2 0h0.8m0.7 0h1.3m2.7 0h0.8m0.7 0h0.8m0.2 0h0.8m1.2 0h0.8m5.7 0h0.8m0.2 0h0.8M260.5 127.5h0.8m2.7 0h1.3m0.2 0h0.8m0.2 0h0.8m0.2 0h0.8m0.7 0h0.8m2.2 0h1.3M253 128h0.8m3.2 0h0.8m0.2 0h0.8m0.7 0h1.3m0.2 0h0.8m0.2 0h1.3m2.2 0h0.8m0.2 0h1.3m3.7 0h0.8m2.2 0h0.8m0.7 0h0.8M256.5 128.5h0.8m2.7 0h1.3m0.7 0h0.8m0.2 0h1.3m4.7 0h0.8m0.2 0h0.8M256 129h1.3m2.7 0h1.3m0.7 0h1.3m4.2 0h0.8m2.7 0h1.8m0.2 0h0.8m0.2 0h0.8M254 129.5h0.8m0.7 0h0.8m0.2 0h0.8m1.7 0h0.8m3.2 0h0.8m2.2 0h1.3m0.7 0h0.8m2.2 0h0.8m1.2 0h0.8m8.2 0h0.8M249.5 130h0.8m0.2 0h0.8m6.2 0h0.8m0.7 0h2.3m2.7 0h1.3m3.2 0h0.8m3.2 0h0.8M247 130.5h0.8m8.2 0h1.3m1.7 0h1.3m0.2 0h0.8m1.7 0h1.3m0.2 0h0.8m0.7 0h1.3m1.7 0h0.8m0.2 0h0.8m2.2 0h0.8M247 131h0.8m1.7 0h0.8m4.7 0h1.3m5.2 0h1.3m0.7 0h1.3m8.2 0h0.8m1.7 0h0.8m3.7 0h0.8M250.5 131.5h0.8m9.7 0h0.8m0.2 0h0.8m1.2 0h0.8m3.2 0h0.8m0.7 0h0.8m3.7 0h0.8m5.2 0h0.8M251.5 132h0.8m11.2 0h0.8m3.2 0h1.3m1.2 0h0.8m3.2 0h0.8m0.2 0h0.8m7.2 0h0.8M260 132.5h0.8m0.7 0h0.8m0.7 0h0.8m1.2 0h0.8m1.2 0h0.8M256 133h0.8m3.2 0h0.8m7.7 0h0.8m0.7 0h0.8M251 133.5h0.8m1.2 0h0.8m1.2 0h0.8m6.7 0h0.8m0.7 0h0.8m4.7 0h0.8m1.2 0h1.3M259.5 134h0.8m5.2 0h0.8m2.7 0h0.8m2.2 0h1.3M245.5 134.5h0.8m6.7 0h0.8m15.7 0h0.8m11.2 0h0.8M255 135h0.8m6.7 0h0.8m3.2 0h0.8m1.2 0h1.3m4.2 0h0.8M249.5 135.5h0.8m11.7 0h0.8m2.7 0h0.8m2.7 0h0.8M255.5 136h0.8m7.7 0h0.8m10.2 0h0.8M261 136.5h0.8m2.2 0h1.3m0.2 0h0.8m13.7 0h0.8M258 137h0.8M249.5 137.5h0.8m7.7 0h0.8m1.7 0h0.8m1.2 0h0.8m5.2 0h0.8m1.7 0h0.8m0.7 0h0.8M263.5 138.5h0.8m0.2 0h0.8m0.7 0h0.8M260.5 139h0.8M272.5 139.5h0.8M260 140h0.8M281 140.5h0.8M255 141h0.8m7.7 0h0.8M264 141.5h0.8m0.7 0h0.8M267.5 142h0.8M262.5 142.5h0.8m0.2 0h0.8m0.7 0h0.8m7.7 0h0.8M264 143h0.8m2.7 0h0.8m7.7 0h0.8M264 143.5h0.8" stroke="#000" stroke-width="0.8" stroke-opacity="0.8" fill="none" filter="url(#b2)"/>
<text x="286" y="72.9" font-size="15" text-anchor="middle" fill="#111" stroke="#111" stroke-width="0.25" textLength="26.3" lengthAdjust="spacingAndGlyphs">7.12</text>
</g>
<g>
<path d="M72.3 311.5V214.9H168.9V311.5" fill="none" stroke="#b9b9b9" stroke-width="1"/>
<path d="M71.8 311.5H169.4" fill="none" stroke="#555" stroke-width="1"/>
<path d="M72.3 311.5v-2M79.6 311.5v-1M83.8 311.5v-1M86.8 311.5v-1M89.2 311.5v-1M91.1 311.5v-1M92.7 311.5v-1M94.1 311.5v-1M95.3 311.5v-1M96.5 311.5v-2M103.7 311.5v-1M108 311.5v-1M111 311.5v-1M113.3 311.5v-1M115.2 311.5v-1M116.9 311.5v-1M118.3 311.5v-1M119.5 311.5v-1M120.6 311.5v-2M127.9 311.5v-1M132.1 311.5v-1M135.1 311.5v-1M137.5 311.5v-1M139.4 311.5v-1M141 311.5v-1M142.4 311.5v-1M143.6 311.5v-1M144.8 311.5v-2M152 311.5v-1M156.3 311.5v-1M159.3 311.5v-1M161.6 311.5v-1M163.5 311.5v-1M165.2 311.5v-1M166.6 311.5v-1M167.8 311.5v-1M168.9 311.5v-2" stroke="#555" stroke-width="0.6" fill="none"/>
<text x="72.6" y="321.7" font-size="5.9" text-anchor="middle" font-weight="bold" fill="#1a1a1a">10<tspan dy="-2.9" font-size="4.8">0</tspan></text>
<text x="96.8" y="321.7" font-size="5.9" text-anchor="middle" font-weight="bold" fill="#1a1a1a">10<tspan dy="-2.9" font-size="4.8">1</tspan></text>
<text x="120.9" y="321.7" font-size="5.9" text-anchor="middle" font-weight="bold" fill="#1a1a1a">10<tspan dy="-2.9" font-size="4.8">2</tspan></text>
<text x="145.1" y="321.7" font-size="5.9" text-anchor="middle" font-weight="bold" fill="#1a1a1a">10<tspan dy="-2.9" font-size="4.8">3</tspan></text>
<text x="169.2" y="321.7" font-size="5.9" text-anchor="middle" font-weight="bold" fill="#1a1a1a">10<tspan dy="-2.9" font-size="4.8">4</tspan></text>
<path d="M72.3 292.7h-2M72.3 273.9h-2M72.3 255h-2M72.3 236.2h-2M72.3 217.4h-2" stroke="#999" stroke-width="0.6" fill="none"/>
<text x="68.2" y="313.7" font-size="5.9" text-anchor="end" font-weight="bold" fill="#1a1a1a">0</text>
<text x="68.2" y="294.9" font-size="5.9" text-anchor="end" font-weight="bold" fill="#1a1a1a">200</text>
<text x="68.2" y="276.1" font-size="5.9" text-anchor="end" font-weight="bold" fill="#1a1a1a">400</text>
<text x="68.2" y="257.2" font-size="5.9" text-anchor="end" font-weight="bold" fill="#1a1a1a">600</text>
<text x="68.2" y="238.4" font-size="5.9" text-anchor="end" font-weight="bold" fill="#1a1a1a">800</text>
<text x="68.2" y="219.6" font-size="5.9" text-anchor="end" font-weight="bold" fill="#1a1a1a">1000</text>
<text x="120.6" y="328" font-size="5.7" text-anchor="middle" font-weight="bold" fill="#222">Aldefluor</text>
<text transform="translate(53.7 263.2) rotate(-90)" font-size="6.1" text-anchor="middle" font-weight="bold" fill="#222">Side scatter</text>
<path d="M114.5 216.5h0.8M117 217h0.8M116.5 218h0.8M113 218.5h0.8m1.2 0h1.3M114 219h0.8m1.2 0h0.8M113.5 219.5h1.3M112.5 220.5h0.8m0.7 0h0.8m0.7 0h0.8m1.7 0h0.8M115.5 221h0.8m0.2 0h0.8M112 222h0.8M114 223h0.8m0.2 0h0.8M113 224h1.3M112.5 224.5h0.8m0.2 0h0.8M114 225h1.3m0.2 0h0.8M114 225.5h0.8M113 226h0.8m2.2 0h0.8m1.2 0h0.8M113.5 226.5h0.8m0.7 0h0.8m0.7 0h0.8M93.5 227h0.8m17.2 0h0.8m0.7 0h0.8m1.7 0h0.8m0.7 0h0.8M111.5 227.5h0.8m0.7 0h1.3m2.7 0h0.8M112.5 228h0.8m0.2 0h0.8m2.2 0h0.8M115 228.5h0.8m7.7 0h0.8M112.5 229h0.8m1.2 0h0.8M110.5 229.5h0.8m2.7 0h1.3m0.2 0h0.8M93.5 230.5h0.8m18.2 0h0.8m1.2 0h0.8M112 231h2.3m1.2 0h0.8m3.2 0h0.8M114 231.5h0.8m1.7 0h0.8M112.5 232h2.3M110.5 232.5h0.8m2.7 0h1.3M110.5 233h0.8m2.2 0h0.8M110.5 233.5h1.3M110.5 234h0.8m0.7 0h1.8m0.7 0h0.8m0.7 0h0.8M110.5 234.5h0.8m0.7 0h0.8m2.7 0h0.8M111 235h1.3m1.7 0h0.8M110.5 235.5h0.8m0.7 0h0.8m0.2 0h0.8m2.2 0h0.8M111.5 236h0.8m0.7 0h0.8m0.2 0h0.8M110.5 236.5h0.8m1.7 0h0.8m0.2 0h0.8M112 237h2.3m8.7 0h0.8M110.5 237.5h0.8m0.2 0h0.8m0.7 0h0.8M112 238h0.8m3.7 0h0.8M110.5 238.5h0.8m0.2 0h0.8m0.7 0h1.3m0.2 0h1.3m1.2 0h0.8M113 239h1.3m0.2 0h1.3m1.2 0h0.8M110 239.5h0.8m0.7 0h2.3m2.2 0h1.3M111 240h0.8m0.2 0h1.3m0.2 0h0.8m0.7 0h0.8m0.2 0h0.8M109.5 240.5h1.3m1.2 0h0.8m2.7 0h1.3M112.5 241h1.3m0.2 0h1.8M111.5 241.5h1.3m1.2 0h0.8m2.2 0h0.8m4.2 0h0.8M111.5 242h1.3m0.2 0h0.8m0.2 0h0.8m0.7 0h0.8m0.7 0h0.8m1.2 0h0.8M110.5 242.5h1.3m0.7 0h0.8m0.2 0h0.8m1.7 0h0.8M111.5 243h0.8m0.2 0h1.3m1.7 0h0.8m0.2 0h0.8M110.5 243.5h0.8m0.7 0h1.3m0.7 0h0.8m0.7 0h0.8M110.5 244h1.3m0.2 0h1.3m0.7 0h0.8m0.2 0h1.3M109 244.5h0.8m1.2 0h1.8m0.7 0h1.8M110.5 245h2.3m0.2 0h1.8m1.2 0h0.8M109.5 245.5h1.3m1.2 0h2.3m1.2 0h0.8M108.5 246h0.8m0.7 0h1.3m0.2 0h1.3m0.2 0h2.3m0.7 0h0.8M110.5 246.5h1.3m0.2 0h1.8m0.7 0h1.8M109 247h1.3m0.2 0h1.8m0.2 0h0.8m0.2 0h2.3M109.5 247.5h2.8m0.2 0h1.3m0.7 0h1.3m0.7 0h0.8M109.5 248h1.3m0.7 0h0.8m0.2 0h2.3m1.2 0h0.8m5.7 0h0.8M108.5 248.5h1.3m0.2 0h1.3m0.2 0h0.8m0.2 0h0.8m0.7 0h1.3m0.2 0h0.8M110 249h3.3m0.2 0h1.3m0.2 0h2.3M112 249.5h0.8m0.2 0h0.8m1.7 0h1.3M108.5 250h0.8m1.2 0h0.8m0.2 0h0.8m0.7 0h0.8m0.7 0h0.8m0.2 0h0.8M88 250.5h0.8m21.2 0h0.8m0.2 0h2.3m1.2 0h1.8M110 251h0.8m0.2 0h2.8m1.7 0h0.8M108.5 251.5h0.8m0.7 0h1.3m0.2 0h4.3m0.2 0h0.8M108.5 252h1.3m1.2 0h2.8m0.7 0h0.8M109 252.5h1.3m0.7 0h1.8m0.2 0h0.8m0.2 0h1.3m4.7 0h0.8M109 253h1.3m0.7 0h1.8m0.2 0h0.8m2.2 0h0.8M109.5 253.5h3.3m0.7 0h2.3m0.7 0h0.8M108.5 254h2.3m0.7 0h1.3m0.7 0h1.3m0.2 0h0.8M108 254.5h0.8m0.2 0h1.3m0.2 0h3.3m0.2 0h1.3m0.7 0h1.3M105.5 255h0.8m2.7 0h1.3m0.2 0h3.3m2.2 0h0.8M108.5 255.5h0.8m0.2 0h1.3m0.2 0h2.8m0.7 0h0.8M107.5 256h2.8m0.2 0h1.3m1.2 0h1.3m0.7 0h0.8m7.2 0h0.8M108 256.5h3.8m0.2 0h0.8m0.2 0h0.8m0.2 0h0.8m0.2 0h0.8M108.5 257h3.3m0.7 0h2.3m0.2 0h1.3M107 257.5h0.8m0.2 0h5.8m0.2 0h1.3M108 258h1.8m0.2 0h2.3m1.2 0h0.8M107 258.5h0.8m0.7 0h0.8m0.2 0h2.8m0.7 0h0.8m0.2 0h0.8M107.5 259h0.8m0.2 0h3.3m0.7 0h1.8M107.5 259.5h1.8m0.7 0h1.8m0.7 0h1.3m1.7 0h0.8M107.5 260h0.8m0.2 0h2.8m0.2 0h1.8m0.7 0h0.8M107 260.5h1.3m0.2 0h0.8m0.2 0h2.3m0.2 0h0.8m0.2 0h2.3M107.5 261h4.8m0.2 0h0.8m2.7 0h0.8M108.5 261.5h0.8m0.2 0h2.3m0.2 0h0.8m1.7 0h0.8M106 262h1.3m0.2 0h1.3m0.2 0h4.3m0.2 0h0.8M106 262.5h0.8m0.7 0h0.8m0.2 0h1.8m0.2 0h0.8m0.2 0h1.8m1.2 0h1.3M107.5 263h7.3m0.7 0h0.8M106 263.5h0.8m0.2 0h3.3m2.2 0h0.8m0.7 0h1.3m0.7 0h0.8m0.2 0h0.8M107.5 264h4.3m0.2 0h1.3M106 264.5h0.8m0.7 0h3.8m0.2 0h0.8m0.2 0h1.3m0.7 0h0.8m0.7 0h0.8M105.5 265h1.3m1.2 0h4.8m0.2 0h1.3M105 265.5h0.8m1.2 0h1.8m0.2 0h0.8m0.2 0h1.8m0.2 0h0.8m0.7 0h0.8M105.5 266h6.8m0.7 0h1.3M105 266.5h1.8m0.2 0h0.8m0.2 0h2.8m0.2 0h1.8m0.7 0h0.8m1.7 0h0.8M105 267h2.8m0.2 0h2.3m0.2 0h0.8m0.2 0h1.8m0.2 0h0.8M104 267.5h0.8m0.7 0h3.3m0.2 0h0.8m0.2 0h1.3m0.2 0h1.8m0.2 0h0.8M106 268h5.3m0.2 0h2.3M105.5 268.5h2.8m0.2 0h1.3m0.7 0h1.3m0.2 0h2.3M104.5 269h0.8m0.2 0h8.3m0.7 0h0.8m1.7 0h0.8M104 269.5h0.8m0.2 0h8.8M91.5 270h0.8m13.2 0h3.3m0.7 0h1.8m0.2 0h1.8m0.2 0h0.8M104.5 270.5h1.3m0.2 0h1.8m0.2 0h0.8m0.2 0h2.8m0.7 0h0.8m0.7 0h0.8M104.5 271h1.3m0.2 0h4.8m0.2 0h0.8M104 271.5h1.3m0.2 0h2.3m0.2 0h1.3m0.2 0h1.3m0.2 0h2.3m0.2 0h0.8M103.5 272h6.3m0.2 0h1.3m0.7 0h0.8m0.2 0h0.8m0.2 0h0.8M104 272.5h0.8m0.2 0h5.3m1.2 0h1.3M104 273h1.8m0.2 0h1.8m0.2 0h1.8m0.2 0h0.8m0.2 0h1.3m0.2 0h1.3m2.2 0h0.8M103 273.5h0.8m0.2 0h1.3m0.7 0h2.3m0.7 0h1.8m0.2 0h1.8m0.2 0h0.8M102.5 274h1.3m0.7 0h6.8m0.2 0h1.3M103 274.5h0.8m0.7 0h1.8m0.2 0h2.8m1.2 0h2.3m2.7 0h0.8M105 275h3.3m0.2 0h0.8m0.2 0h0.8m0.2 0h0.8m1.2 0h0.8m0.7 0h0.8M101.5 275.5h0.8m0.2 0h0.8m1.2 0h0.8m0.7 0h5.3m5.7 0h0.8m5.2 0h0.8M103.5 276h6.3m2.2 0h0.8M101 276.5h0.8m0.7 0h0.8m0.2 0h7.8m0.2 0h0.8M102 277h0.8m0.2 0h1.3m0.2 0h3.3m0.2 0h1.3m0.7 0h0.8m0.2 0h1.3M102 277.5h1.3m0.2 0h1.8m0.7 0h6.3m0.2 0h0.8M102 278h0.8m0.2 0h1.3m0.2 0h5.3m0.2 0h0.8m0.2 0h0.8m0.2 0h0.8m0.7 0h0.8M102.5 278.5h0.8m0.2 0h5.8m0.2 0h0.8m0.2 0h0.8M102.5 279h0.8m0.2 0h4.8m0.2 0h1.8m0.2 0h1.3m0.2 0h0.8M101 279.5h6.8m0.2 0h2.3m0.7 0h0.8m0.2 0h0.8m0.7 0h0.8M102.5 280h4.8m0.2 0h1.8m0.2 0h1.8m0.2 0h0.8M101.5 280.5h1.3m0.7 0h1.3m0.2 0h6.8m0.7 0h0.8M100.5 281h6.8m0.2 0h0.8m0.2 0h1.3m0.7 0h1.8M100 281.5h0.8m0.2 0h1.3m0.2 0h1.8m0.7 0h0.8m0.2 0h1.8m0.2 0h1.3m0.2 0h1.8m0.2 0h0.8M100 282h0.8m0.7 0h2.3m0.2 0h3.8m1.2 0h1.8m0.2 0h0.8m0.7 0h0.8M100 282.5h0.8m0.7 0h4.3m1.2 0h0.8m0.2 0h2.3m0.2 0h1.3M99.5 283h0.8m1.2 0h2.3m0.2 0h2.3m0.7 0h1.8m0.7 0h1.8m0.2 0h1.3M100 283.5h0.8m0.2 0h0.8m0.2 0h0.8m0.2 0h1.8m0.2 0h1.3m0.2 0h1.8m0.7 0h0.8m0.7 0h1.3m0.7 0h1.3M102 284h4.3m0.7 0h1.8m1.2 0h0.8m7.2 0h0.8M100.5 284.5h0.8m0.7 0h1.3m0.2 0h3.8m0.2 0h0.8m0.2 0h1.8m0.2 0h1.3m0.2 0h0.8m5.2 0h0.8M100.5 285h0.8m0.2 0h0.8m0.2 0h0.8m0.2 0h1.8m0.2 0h0.8m0.2 0h0.8m0.2 0h0.8m0.2 0h2.3m1.7 0h0.8M99 285.5h0.8m0.7 0h3.8m0.2 0h2.8m1.7 0h1.8M99.5 286h6.8m0.2 0h1.3m0.7 0h0.8m0.7 0h0.8M100 286.5h2.3m0.2 0h4.8m0.2 0h1.8m1.7 0h0.8m1.2 0h0.8M99.5 287h8.3m1.2 0h1.3M99 287.5h1.3m0.2 0h0.8m0.7 0h2.3m0.7 0h3.3m0.2 0h0.8m10.2 0h0.8M98 288h1.3m0.2 0h0.8m0.2 0h2.8m0.2 0h4.3m0.2 0h2.3M99.5 288.5h1.8m0.2 0h1.3m0.2 0h1.3m0.2 0h3.3m0.2 0h1.3M98 289h0.8m0.2 0h3.8m0.7 0h2.8m0.7 0h0.8m0.2 0h0.8m3.2 0h0.8M98 289.5h0.8m0.7 0h0.8m0.2 0h4.3m0.7 0h3.3M99 290h1.3m0.2 0h1.8m0.7 0h1.3m0.2 0h2.8m0.2 0h0.8m0.2 0h0.8m3.7 0h0.8M98 290.5h5.8m0.7 0h1.8m1.2 0h0.8m0.7 0h1.3M97.5 291h0.8m0.2 0h1.3m0.2 0h2.3m0.2 0h1.8m0.2 0h1.3m0.7 0h0.8M98 291.5h6.3m0.2 0h1.8m0.2 0h0.8M97.5 292h1.3m0.2 0h1.3m0.2 0h3.3m0.2 0h1.3m0.2 0h0.8m5.7 0h0.8M97.5 292.5h1.8m0.2 0h4.8m0.7 0h0.8m0.2 0h0.8m0.2 0h0.8M99 293h3.3m0.7 0h1.3m0.2 0h0.8M97.5 293.5h1.8m0.2 0h3.3m0.7 0h1.3m0.7 0h1.3m0.2 0h0.8M97.5 294h1.3m0.2 0h6.8m0.7 0h0.8M95.5 294.5h0.8m0.2 0h0.8m0.2 0h5.8M95.5 295h1.8m1.2 0h2.3m0.2 0h1.3m0.2 0h1.3m1.2 0h0.8m4.7 0h0.8m2.7 0h0.8M96 295.5h1.8m0.7 0h1.8m0.2 0h2.3m0.2 0h1.3M96.5 296h1.3m0.2 0h1.3m0.2 0h3.8m0.2 0h0.8M96 296.5h3.3m0.2 0h2.3m0.2 0h1.3m1.2 0h0.8M96 297h2.3m0.2 0h3.3m0.2 0h0.8M96.5 297.5h2.8m0.7 0h1.8m0.2 0h0.8m0.2 0h0.8M95 298h0.8m0.2 0h3.3m2.2 0h0.8M95 298.5h3.8m0.7 0h1.3M95.5 299h0.8m0.2 0h2.3m0.7 0h1.3m0.2 0h0.8M94.5 299.5h0.8m0.7 0h0.8m0.7 0h0.8m0.2 0h0.8m0.2 0h0.8M95.5 300h2.3m0.2 0h0.8m0.2 0h1.3M96.5 300.5h0.8m0.2 0h0.8m1.2 0h0.8M96 301h1.3M116 307.5h0.8" stroke="#000" stroke-width="0.8" fill="none" filter="url(#b2)"/>
<polygon points="121.2,217.4 160.3,217.4 160.3,302.6 104.3,302.6 115.4,291" fill="none" stroke="#7680ae" stroke-width="1.05" stroke-linejoin="miter"/>
<text x="141" y="238.7" font-size="15" text-anchor="middle" fill="#111" stroke="#111" stroke-width="0.25" textLength="26.3" lengthAdjust="spacingAndGlyphs">0.23</text>
</g>
<g>
<path d="M217.5 311.5V214.9H313.9V311.5" fill="none" stroke="#b9b9b9" stroke-width="1"/>
<path d="M217.5 311.5V214.9" fill="none" stroke="#8c8c8c" stroke-width="1"/>
<path d="M217 311.5H314.4" fill="none" stroke="#555" stroke-width="1"/>
<path d="M217.5 311.5v-2M224.8 311.5v-1M229 311.5v-1M232 311.5v-1M234.3 311.5v-1M236.3 311.5v-1M237.9 311.5v-1M239.3 311.5v-1M240.5 311.5v-1M241.6 311.5v-2M248.9 311.5v-1M253.1 311.5v-1M256.1 311.5v-1M258.4 311.5v-1M260.4 311.5v-1M262 311.5v-1M263.4 311.5v-1M264.6 311.5v-1M265.7 311.5v-2M273 311.5v-1M277.2 311.5v-1M280.2 311.5v-1M282.5 311.5v-1M284.5 311.5v-1M286.1 311.5v-1M287.5 311.5v-1M288.7 311.5v-1M289.8 311.5v-2M297.1 311.5v-1M301.3 311.5v-1M304.3 311.5v-1M306.6 311.5v-1M308.6 311.5v-1M310.2 311.5v-1M311.6 311.5v-1M312.8 311.5v-1M313.9 311.5v-2" stroke="#555" stroke-width="0.6" fill="none"/>
<text x="217.8" y="322.2" font-size="5.7" text-anchor="middle" font-weight="bold" fill="#111">10<tspan dy="-3.1" font-size="4.9">0</tspan></text>
<text x="241.9" y="322.2" font-size="5.7" text-anchor="middle" font-weight="bold" fill="#111">10<tspan dy="-3.1" font-size="4.9">1</tspan></text>
<text x="266" y="322.2" font-size="5.7" text-anchor="middle" font-weight="bold" fill="#111">10<tspan dy="-3.1" font-size="4.9">2</tspan></text>
<text x="290.1" y="322.2" font-size="5.7" text-anchor="middle" font-weight="bold" fill="#111">10<tspan dy="-3.1" font-size="4.9">3</tspan></text>
<text x="314.2" y="322.2" font-size="5.7" text-anchor="middle" font-weight="bold" fill="#111">10<tspan dy="-3.1" font-size="4.9">4</tspan></text>
<path d="M217.5 292.7h-2M217.5 273.9h-2M217.5 255h-2M217.5 236.2h-2M217.5 217.4h-2" stroke="#999" stroke-width="0.6" fill="none"/>
<text x="213.4" y="313.7" font-size="5.7" text-anchor="end" font-weight="bold" fill="#111">0</text>
<text x="213.4" y="294.9" font-size="5.7" text-anchor="end" font-weight="bold" fill="#111">200</text>
<text x="213.4" y="276.1" font-size="5.7" text-anchor="end" font-weight="bold" fill="#111">400</text>
<text x="213.4" y="257.2" font-size="5.7" text-anchor="end" font-weight="bold" fill="#111">600</text>
<text x="213.4" y="238.4" font-size="5.7" text-anchor="end" font-weight="bold" fill="#111">800</text>
<text x="213.4" y="219.6" font-size="5.7" text-anchor="end" font-weight="bold" fill="#111">1000</text>
<text x="265.2" y="328" font-size="5.8" text-anchor="middle" font-weight="bold" fill="#222">Aldefluor</text>
<text transform="translate(197.9 263.2) rotate(-90)" font-size="6.1" text-anchor="middle" font-weight="bold" fill="#222">Side scatter</text>
<path d="M260 216h0.8m2.2 0h1.3M260.5 216.5h0.8m0.2 0h1.8M260.5 217h0.8m1.2 0h0.8M260 217.5h0.8m0.7 0h0.8M258.5 218h0.8m1.7 0h0.8m2.2 0h0.8M260.5 218.5h2.3m0.2 0h0.8M259.5 219h0.8m3.7 0h1.3M259.5 219.5h0.8m0.2 0h0.8M262 220h0.8m1.2 0h0.8M258 220.5h0.8m3.2 0h0.8m0.2 0h0.8m1.2 0h0.8M260 221h0.8m0.7 0h0.8m2.2 0h0.8M258 221.5h0.8m2.7 0h0.8m0.2 0h0.8M259.5 222h0.8m2.2 0h0.8m4.7 0h0.8M258.5 222.5h0.8m0.7 0h0.8m1.2 0h0.8m0.2 0h1.3M258.5 223h0.8m0.2 0h0.8m2.2 0h0.8m0.2 0h0.8M257.5 223.5h0.8m0.2 0h0.8m0.7 0h0.8M258 224h0.8m1.2 0h0.8m0.7 0h0.8m0.7 0h0.8M258 224.5h1.3m0.7 0h0.8m4.7 0h0.8M261.5 225h0.8M257 225.5h0.8m5.7 0h0.8M259 226h0.8m0.7 0h0.8m0.2 0h0.8m0.2 0h1.3m0.2 0h0.8M259 226.5h0.8m0.7 0h0.8m0.7 0h2.3M257.5 227h1.3m2.7 0h0.8m0.7 0h1.3m0.2 0h0.8M257 227.5h2.8m0.7 0h0.8m0.2 0h0.8m0.2 0h0.8m0.7 0h0.8m0.7 0h0.8M256 228h1.3m2.2 0h0.8m1.2 0h1.3m1.2 0h0.8m2.7 0h0.8M256 228.5h0.8m1.2 0h0.8m3.2 0h1.3M256.5 229h0.8m1.2 0h0.8m0.2 0h0.8m1.2 0h1.3M257.5 229.5h1.8m1.7 0h0.8m0.2 0h0.8m0.2 0h0.8M256 230h0.8m1.7 0h1.3m0.2 0h0.8m0.7 0h1.8M257 230.5h0.8m0.7 0h0.8m0.2 0h0.8m0.7 0h0.8m3.2 0h0.8M256.5 231h0.8m2.2 0h0.8m0.2 0h0.8m3.2 0h0.8M255.5 231.5h0.8m0.7 0h0.8m0.7 0h1.3m0.2 0h0.8m1.2 0h0.8m4.7 0h0.8M257 232h0.8m0.2 0h1.8m0.2 0h0.8m1.2 0h0.8M256.5 232.5h0.8m2.2 0h0.8M255.5 233h0.8m1.2 0h1.3m0.2 0h0.8m0.2 0h0.8M255 233.5h3.3m0.7 0h0.8m0.7 0h0.8m0.7 0h0.8M256.5 234h0.8m0.2 0h1.3m0.7 0h1.3M260 234.5h0.8m0.2 0h1.8m0.2 0h0.8m1.7 0h0.8M255 235h1.3m0.7 0h0.8m0.2 0h1.3m0.7 0h0.8m1.2 0h0.8M254 235.5h1.3m0.7 0h3.3m0.7 0h0.8m2.2 0h0.8M255.5 236h1.3m0.7 0h1.3m0.7 0h1.3m1.7 0h0.8M255.5 236.5h1.3m0.2 0h0.8m1.2 0h1.3m1.7 0h0.8m4.7 0h0.8M255 237h1.3m0.7 0h1.8m0.2 0h0.8m0.2 0h0.8M253.5 237.5h0.8m1.2 0h0.8m0.2 0h1.3m2.7 0h0.8M256.5 238h0.8m0.7 0h0.8m0.2 0h0.8m1.7 0h0.8m0.7 0h0.8M255.5 238.5h2.3m0.2 0h0.8m0.7 0h0.8m3.2 0h0.8M254 239h2.8m0.2 0h0.8m0.2 0h1.3m0.2 0h0.8m7.7 0h0.8M254.5 239.5h0.8m0.7 0h0.8m2.2 0h0.8m1.7 0h0.8m0.2 0h0.8M253.5 240h0.8m0.7 0h1.8m0.2 0h0.8m0.7 0h0.8m0.7 0h1.3m0.7 0h0.8m0.2 0h0.8M254 240.5h1.3m0.2 0h1.8m1.2 0h1.3m1.2 0h2.3M255 241h1.3m0.2 0h0.8m0.2 0h0.8m2.2 0h0.8M253.5 241.5h1.3m0.2 0h1.8m0.2 0h0.8m1.2 0h0.8m0.2 0h0.8M255 242h0.8m0.2 0h1.3m0.7 0h1.3m1.2 0h1.3m7.7 0h0.8M254.5 242.5h1.3m0.2 0h1.3m0.2 0h1.3m0.7 0h0.8m0.2 0h0.8m3.7 0h0.8M253 243h1.3m0.7 0h0.8m0.2 0h0.8m1.2 0h0.8m0.2 0h1.3m0.7 0h0.8m0.2 0h0.8M254 243.5h0.8m0.7 0h0.8m0.7 0h1.3m0.2 0h1.3m0.2 0h0.8m0.7 0h0.8m1.7 0h0.8M253.5 244h2.3m0.2 0h0.8m0.2 0h1.3m0.7 0h1.8m0.7 0h0.8M253 244.5h2.8m0.2 0h0.8m0.7 0h3.3m0.2 0h0.8m0.2 0h1.3M252 245h1.8m0.7 0h1.8m0.2 0h1.8m1.7 0h0.8m1.7 0h1.3M254 245.5h0.8m0.2 0h1.8m1.2 0h0.8m0.2 0h2.3M253 246h0.8m0.7 0h0.8m0.2 0h0.8m0.2 0h1.3m0.2 0h1.8m0.2 0h0.8m1.7 0h1.3M252.5 246.5h4.3m1.7 0h3.3m9.2 0h0.8M251.5 247h2.3m0.2 0h2.3m0.7 0h5.3M252 247.5h0.8m0.2 0h1.3m0.2 0h1.8m0.2 0h2.3m0.2 0h1.3m0.2 0h0.8M253 248h3.3m0.7 0h0.8m0.2 0h1.3m2.2 0h0.8M251.5 248.5h0.8m0.7 0h0.8m0.2 0h1.3m0.2 0h0.8m0.2 0h0.8m0.2 0h1.3m1.7 0h0.8m9.2 0h0.8M252 249h2.3m0.2 0h2.3m0.2 0h1.3m0.2 0h0.8m0.2 0h1.3M251.5 249.5h0.8m0.2 0h0.8m0.2 0h1.8m0.2 0h1.3m0.2 0h0.8m1.2 0h1.8M250.5 250h0.8m0.7 0h1.3m0.2 0h5.3m0.2 0h1.3m0.7 0h1.3M252 250.5h2.8m0.2 0h1.8m0.2 0h1.3m1.2 0h1.3M252 251h2.8m0.2 0h3.3m1.2 0h1.3m0.7 0h1.8M250.5 251.5h0.8m0.2 0h0.8m0.7 0h1.3m0.2 0h0.8m0.2 0h2.3m0.7 0h1.8m0.7 0h0.8m0.7 0h0.8M252 252h2.3m0.2 0h1.3m0.2 0h3.3m0.2 0h1.8M250.5 252.5h3.8m0.2 0h1.3m0.2 0h0.8m0.2 0h1.8m3.7 0h0.8M250.5 253h0.8m0.2 0h0.8m1.2 0h0.8m1.2 0h1.8m1.2 0h1.3m0.2 0h1.3M250 253.5h3.3m0.2 0h4.3m0.7 0h0.8m0.2 0h1.3m3.2 0h0.8M250.5 254h0.8m0.2 0h2.8m0.7 0h2.3m0.2 0h0.8m1.7 0h0.8m0.2 0h0.8m3.7 0h0.8M250.5 254.5h1.3m0.2 0h2.3m0.2 0h1.8m0.2 0h0.8m0.2 0h0.8m1.7 0h1.3m1.7 0h0.8M249 255h0.8m1.7 0h7.3m0.2 0h1.3m0.2 0h0.8M248.5 255.5h1.8m1.2 0h6.3m0.7 0h2.3m0.2 0h0.8M250 256h0.8m1.2 0h2.3m0.2 0h1.8m0.7 0h3.3m14.2 0h0.8M249 256.5h0.8m0.2 0h0.8m0.2 0h2.8m0.2 0h4.3m0.7 0h1.3m0.7 0h0.8m5.2 0h0.8M249.5 257h6.3m0.2 0h1.3m1.2 0h1.8m1.2 0h0.8m1.2 0h0.8M250.5 257.5h3.8m0.2 0h0.8m1.2 0h2.3m1.7 0h0.8m1.7 0h0.8M249 258h0.8m2.2 0h3.3m0.2 0h1.8m0.7 0h1.3m0.2 0h0.8m0.2 0h1.3M249 258.5h1.3m0.2 0h2.8m0.2 0h1.3m0.2 0h1.8m0.2 0h2.3m9.2 0h0.8M249 259h0.8m0.2 0h6.3m0.2 0h1.3m0.2 0h2.3M248 259.5h1.3m0.2 0h1.3m0.2 0h3.3m0.2 0h1.3m0.2 0h1.8m1.7 0h0.8m0.7 0h0.8m3.2 0h0.8m0.7 0h0.8m14.2 0h0.8M249 260h0.8m0.2 0h7.8m1.2 0h3.3M249 260.5h0.8m0.2 0h4.3m0.2 0h1.8m0.2 0h1.8m0.2 0h0.8m0.2 0h0.8m0.2 0h0.8M247.5 261h0.8m0.2 0h0.8m0.2 0h6.3m0.2 0h1.3m0.2 0h2.3M246.5 261.5h0.8m2.2 0h3.8m0.2 0h2.8m0.2 0h1.8m0.2 0h0.8m0.2 0h0.8m0.7 0h0.8M248 262h0.8m0.2 0h1.8m0.2 0h1.3m0.2 0h3.3m0.2 0h0.8m0.2 0h1.3m0.2 0h2.8M248 262.5h2.8m0.2 0h4.8m1.7 0h0.8m0.2 0h1.3m0.7 0h1.3m2.7 0h0.8M248 263h1.8m0.2 0h2.8m1.2 0h2.8m0.2 0h0.8m1.2 0h1.8m3.2 0h0.8M247.5 263.5h1.3m1.2 0h8.8m0.7 0h1.8m0.2 0h0.8M247 264h1.3m0.2 0h4.3m0.2 0h1.8m0.2 0h2.8m0.2 0h0.8m0.2 0h2.3m1.2 0h0.8m0.2 0h0.8M247.5 264.5h6.3m0.2 0h2.3m0.7 0h1.3m1.7 0h0.8M248 265h6.8m0.7 0h0.8m0.2 0h0.8m0.2 0h1.3m0.2 0h0.8M247.5 265.5h1.3m0.2 0h3.8m0.2 0h1.8m0.2 0h5.3m0.2 0h1.3m2.2 0h0.8M247 266h0.8m0.2 0h1.3m0.2 0h3.8m0.2 0h1.3m0.2 0h2.3m1.2 0h1.3m0.2 0h0.8m0.2 0h0.8m0.2 0h0.8m4.2 0h0.8M246.5 266.5h1.3m0.2 0h0.8m0.2 0h6.8m0.2 0h3.3m0.2 0h1.8M246.5 267h1.3m0.2 0h0.8m0.2 0h3.3m0.2 0h1.3m0.2 0h2.8m0.2 0h0.8m1.2 0h0.8M246.5 267.5h0.8m0.7 0h0.8m0.2 0h0.8m0.2 0h5.8m0.2 0h2.8m0.2 0h0.8m0.2 0h0.8m0.2 0h0.8M248 268h0.8m0.2 0h3.8m0.2 0h3.3m0.2 0h0.8m1.2 0h1.3m0.2 0h1.3M246 268.5h0.8m0.2 0h1.3m0.2 0h2.3m0.2 0h2.8m0.2 0h2.8m0.7 0h0.8m0.2 0h1.3M247 269h0.8m0.2 0h1.8m0.2 0h7.3m0.2 0h1.3m0.2 0h0.8M247.5 269.5h1.8m0.7 0h2.3m0.2 0h1.8m0.2 0h1.8m0.2 0h0.8m1.2 0h0.8M245 270h1.8m0.2 0h1.3m0.2 0h5.8m0.2 0h1.8m0.2 0h0.8m0.2 0h0.8m0.2 0h0.8m13.2 0h0.8M246 270.5h0.8m0.2 0h1.3m0.2 0h5.3m0.2 0h1.3m0.2 0h1.3m0.2 0h0.8m0.2 0h1.3M246.5 271h0.8m0.2 0h3.8m0.2 0h1.8m0.2 0h0.8m0.2 0h1.3m0.2 0h2.3m0.2 0h1.3m0.2 0h0.8M246 271.5h1.3m0.2 0h1.8m0.2 0h2.8m0.2 0h2.3m2.2 0h1.3m2.2 0h0.8M246 272h6.8m0.2 0h3.3m0.2 0h1.3m0.2 0h0.8m0.7 0h0.8M245 272.5h0.8m0.2 0h0.8m0.7 0h6.3m0.7 0h0.8m0.2 0h3.3M245.5 273h7.3m0.2 0h3.8m1.2 0h1.3M245 273.5h0.8m0.2 0h0.8m0.2 0h9.3m0.2 0h0.8m0.2 0h0.8m2.2 0h0.8M245 274h0.8m0.7 0h9.3m1.2 0h0.8m0.2 0h0.8M246 274.5h7.8m0.7 0h2.8m0.7 0h1.3M244 275h0.8m0.2 0h0.8m0.2 0h8.8m0.2 0h2.8m1.2 0h0.8m0.2 0h0.8M244.5 275.5h2.3m0.2 0h9.8m0.2 0h2.3m6.7 0h0.8M244.5 276h10.3m0.2 0h3.8m0.7 0h0.8M245.5 276.5h1.3m0.2 0h7.8m0.7 0h2.3m0.7 0h0.8M245 277h1.3m0.7 0h0.8m0.2 0h8.8m0.2 0h2.3m5.7 0h0.8M244.5 277.5h2.3m0.2 0h8.3m0.2 0h0.8m0.2 0h2.8M244.5 278h1.3m0.2 0h4.8m0.2 0h2.8m0.2 0h1.3m0.2 0h1.8m1.7 0h0.8m0.2 0h0.8m0.7 0h0.8M245 278.5h0.8m0.2 0h2.8m0.2 0h9.3M244 279h7.8m0.2 0h0.8m0.2 0h2.8m0.2 0h0.8m0.2 0h1.8M244.5 279.5h0.8m0.2 0h4.8m0.2 0h0.8m0.2 0h2.3m0.2 0h2.3m0.2 0h0.8m0.2 0h0.8m4.2 0h0.8M245 280h1.3m0.2 0h3.8m0.2 0h6.8m6.2 0h0.8M244.5 280.5h5.3m0.2 0h5.8m0.2 0h2.3m3.2 0h0.8m19.2 0h0.8M245 281h5.8m0.2 0h6.8m0.7 0h0.8M244.5 281.5h0.8m0.2 0h5.3m0.2 0h3.8m0.2 0h1.8m0.2 0h0.8m1.7 0h0.8M244.5 282h1.8m0.2 0h7.8m0.2 0h2.8m0.2 0h0.8m5.2 0h0.8m2.7 0h0.8M244.5 282.5h0.8m0.2 0h8.8m0.2 0h0.8m0.2 0h0.8m0.2 0h0.8M244.5 283h2.3m0.2 0h2.3m0.2 0h4.3m0.2 0h2.3m0.7 0h0.8m0.7 0h0.8M243.5 283.5h6.8m0.2 0h5.8m0.2 0h1.3m19.2 0h0.8M243.5 284h1.3m0.2 0h1.8m0.2 0h7.3m1.2 0h1.8m8.7 0h0.8M244 284.5h0.8m0.2 0h9.3m0.7 0h1.8m1.2 0h0.8M244 285h1.8m0.2 0h1.8m0.2 0h3.8m0.2 0h1.8m0.7 0h1.8m0.7 0h0.8m0.2 0h0.8m0.2 0h0.8M244 285.5h11.3M244 286h6.3m0.7 0h0.8m0.2 0h3.3m2.2 0h0.8M244 286.5h8.8m0.2 0h1.3m0.7 0h1.3M243.5 287h3.8m0.2 0h2.3m0.2 0h3.3m0.7 0h1.8m0.2 0h1.3m0.2 0h0.8M243.5 287.5h11.8m1.2 0h0.8M243.5 288h8.3m0.2 0h0.8m0.2 0h1.8m0.7 0h0.8m0.7 0h0.8M243.5 288.5h2.3m0.2 0h5.3m0.2 0h1.3m0.2 0h2.3M243 289h7.3m0.2 0h4.8M242.5 289.5h8.3m0.2 0h3.3m0.2 0h1.3M242 290h12.3m0.7 0h0.8M243.5 290.5h0.8m0.7 0h2.8m0.2 0h5.3m0.2 0h1.3m0.2 0h0.8m22.2 0h0.8M243 291h2.3m0.2 0h5.8m0.2 0h1.8m0.2 0h2.3M243 291.5h6.8m0.2 0h0.8m0.2 0h3.3M242 292h9.3m0.7 0h0.8m0.2 0h0.8M242.5 292.5h7.8m0.7 0h0.8m0.2 0h0.8m0.2 0h0.8m0.7 0h0.8M242 293h0.8m0.2 0h5.8m1.2 0h1.8m0.7 0h1.3M242.5 293.5h6.8m0.2 0h1.8m0.2 0h0.8M242 294h2.3m0.2 0h6.3m4.2 0h0.8M242 294.5h8.3m0.2 0h1.3m0.2 0h0.8M241.5 295h0.8m0.2 0h6.8m0.7 0h0.8M241.5 295.5h0.8m0.2 0h5.8m0.2 0h1.3m2.2 0h0.8M241.5 296h5.3m0.2 0h1.3m1.2 0h0.8M241.5 296.5h6.3m0.2 0h1.3m27.2 0h0.8M241.5 297h3.8m0.7 0h0.8m1.2 0h0.8M241 297.5h3.3m0.2 0h0.8m0.7 0h1.3M241 298h4.3M241.5 298.5h1.8m0.2 0h2.3M241.5 299h2.8M240.5 299.5h2.8m0.2 0h0.8M240.5 300h2.8m0.7 0h0.8M241 300.5h0.8m0.7 0h2.3m0.2 0h0.8M241 301h0.8m0.7 0h1.3M241 301.5h0.8" stroke="#000" stroke-width="0.8" fill="none" filter="url(#b2)"/>
<polygon points="266.2,217.4 305.1,217.4 305.1,302.6 249.3,302.6 260.4,291" fill="none" stroke="#7680ae" stroke-width="1.05" stroke-linejoin="miter"/>
<text x="286.5" y="238.7" font-size="15" text-anchor="middle" fill="#111" stroke="#111" stroke-width="0.25" textLength="26.3" lengthAdjust="spacingAndGlyphs">1.21</text>
</g>
<g>
<path d="M75.1 441V344.5H171.7V441" fill="none" stroke="#b9b9b9" stroke-width="1"/>
<path d="M74.6 441H172.2" fill="none" stroke="#555" stroke-width="1"/>
<path d="M75.1 441v-2M82.4 441v-1M86.6 441v-1M89.6 441v-1M92 441v-1M93.9 441v-1M95.5 441v-1M96.9 441v-1M98.1 441v-1M99.2 441v-2M106.5 441v-1M110.8 441v-1M113.8 441v-1M116.1 441v-1M118 441v-1M119.7 441v-1M121.1 441v-1M122.3 441v-1M123.4 441v-2M130.7 441v-1M134.9 441v-1M137.9 441v-1M140.3 441v-1M142.2 441v-1M143.8 441v-1M145.2 441v-1M146.4 441v-1M147.5 441v-2M154.8 441v-1M159.1 441v-1M162.1 441v-1M164.4 441v-1M166.3 441v-1M168 441v-1M169.4 441v-1M170.6 441v-1M171.7 441v-2" stroke="#555" stroke-width="0.6" fill="none"/>
<text x="75.4" y="451.2" font-size="5.9" text-anchor="middle" font-weight="bold" fill="#1a1a1a">10<tspan dy="-2.9" font-size="4.8">0</tspan></text>
<text x="99.5" y="451.2" font-size="5.9" text-anchor="middle" font-weight="bold" fill="#1a1a1a">10<tspan dy="-2.9" font-size="4.8">1</tspan></text>
<text x="123.7" y="451.2" font-size="5.9" text-anchor="middle" font-weight="bold" fill="#1a1a1a">10<tspan dy="-2.9" font-size="4.8">2</tspan></text>
<text x="147.8" y="451.2" font-size="5.9" text-anchor="middle" font-weight="bold" fill="#1a1a1a">10<tspan dy="-2.9" font-size="4.8">3</tspan></text>
<text x="172" y="451.2" font-size="5.9" text-anchor="middle" font-weight="bold" fill="#1a1a1a">10<tspan dy="-2.9" font-size="4.8">4</tspan></text>
<path d="M75.1 422.2h-2M75.1 403.4h-2M75.1 384.5h-2M75.1 365.7h-2M75.1 346.9h-2" stroke="#999" stroke-width="0.6" fill="none"/>
<text x="71" y="443.2" font-size="5.9" text-anchor="end" font-weight="bold" fill="#1a1a1a">0</text>
<text x="71" y="424.4" font-size="5.9" text-anchor="end" font-weight="bold" fill="#1a1a1a">200</text>
<text x="71" y="405.6" font-size="5.9" text-anchor="end" font-weight="bold" fill="#1a1a1a">400</text>
<text x="71" y="386.7" font-size="5.9" text-anchor="end" font-weight="bold" fill="#1a1a1a">600</text>
<text x="71" y="367.9" font-size="5.9" text-anchor="end" font-weight="bold" fill="#1a1a1a">800</text>
<text x="71" y="349.1" font-size="5.9" text-anchor="end" font-weight="bold" fill="#1a1a1a">1000</text>
<text x="123.4" y="457.5" font-size="5.7" text-anchor="middle" font-weight="bold" fill="#222">Aldefluor</text>
<text transform="translate(55.3 392.8) rotate(-90)" font-size="6.1" text-anchor="middle" font-weight="bold" fill="#222">Side scatter</text>
<path d="M123 345.5h0.8m0.7 0h2.3M120 346h0.8m0.2 0h1.3m0.2 0h2.3M122 346.5h1.8m0.2 0h1.3M120 347h0.8m2.2 0h1.8m0.7 0h0.8M120 347.5h0.8m1.2 0h1.3m0.2 0h0.8m0.7 0h0.8M120.5 348h1.3m0.7 0h0.8m0.2 0h2.3M120.5 348.5h1.8m0.2 0h0.8m2.2 0h0.8M120.5 349h0.8m0.2 0h0.8m0.2 0h1.8m1.7 0h0.8M120.5 349.5h0.8m0.2 0h0.8m1.2 0h0.8m0.2 0h0.8m0.2 0h1.3M120.5 350h0.8m0.7 0h0.8m1.2 0h0.8m0.2 0h0.8M119 350.5h1.3m1.2 0h0.8m0.7 0h2.8M120 351h0.8m0.2 0h1.8m0.2 0h1.3m0.2 0h0.8m0.7 0h0.8M121 351.5h0.8m0.2 0h0.8m2.2 0h0.8M119.5 352h0.8m0.2 0h1.3m0.2 0h0.8m0.2 0h1.3m0.2 0h0.8M120.5 352.5h3.3m0.2 0h0.8M89.5 353h0.8m29.7 0h1.3m0.7 0h0.8m0.2 0h1.3m0.2 0h0.8M119 353.5h1.8m0.2 0h1.8m0.2 0h0.8m0.7 0h0.8m0.7 0h0.8M98.5 354h0.8m21.7 0h1.8m0.2 0h1.8M119 354.5h0.8m1.2 0h0.8m2.2 0h1.8M119.5 355h2.3m0.2 0h3.3M118.5 355.5h0.8m0.7 0h1.8m0.2 0h1.8m0.7 0h0.8M120.5 356h2.3m0.2 0h0.8m0.7 0h0.8M119 356.5h0.8m1.7 0h1.8m0.2 0h0.8m1.2 0h0.8M118.5 357h1.3m0.2 0h0.8m0.2 0h0.8m0.2 0h1.3m0.2 0h0.8M119.5 357.5h1.3m0.7 0h3.3m0.7 0h0.8M120.5 358h0.8m0.2 0h1.8m0.7 0h0.8m3.2 0h0.8M119 358.5h2.3m1.2 0h1.3M120 359h0.8m0.2 0h0.8m0.2 0h0.8m0.2 0h1.8M118.5 359.5h0.8m0.2 0h0.8m0.2 0h4.3M111 360h0.8m7.7 0h0.8m0.7 0h1.3m0.2 0h0.8m0.2 0h1.8M119 360.5h1.3m0.2 0h1.3m0.2 0h1.3m1.2 0h0.8M117 361h0.8m0.2 0h0.8m0.2 0h1.3m0.2 0h0.8m0.2 0h0.8m0.7 0h1.8M118.5 361.5h0.8m0.2 0h1.3m0.2 0h0.8m0.2 0h2.8M119 362h1.8m0.2 0h0.8m0.2 0h1.3m0.2 0h0.8M117.5 362.5h0.8m0.2 0h1.8m0.2 0h2.8M118.5 363h0.8m0.2 0h1.8m0.2 0h1.8M116.5 363.5h0.8m0.2 0h0.8m1.7 0h1.3m0.2 0h1.3m0.7 0h0.8m3.2 0h0.8M118.5 364h0.8m0.2 0h0.8m0.2 0h3.3M116.5 364.5h0.8m2.7 0h4.3M118 365h2.3m0.2 0h1.3m1.2 0h1.3M117 365.5h0.8m1.2 0h0.8m0.2 0h1.3m2.2 0h0.8m0.7 0h0.8M117.5 366h0.8m0.2 0h0.8m0.2 0h0.8m0.7 0h3.3m1.7 0h0.8M118 366.5h1.8m1.2 0h0.8m1.7 0h0.8M117 367h1.3m0.2 0h0.8m0.2 0h0.8m0.2 0h0.8m0.2 0h2.3M118.5 367.5h0.8m0.2 0h0.8m0.2 0h2.3m0.7 0h0.8m0.7 0h0.8M117 368h1.3m2.2 0h2.8m0.2 0h0.8m0.2 0h0.8M117 368.5h1.3m0.7 0h2.3m0.2 0h0.8m0.2 0h1.3M116.5 369h1.3m0.7 0h2.3m0.2 0h2.8M116.5 369.5h0.8m0.7 0h1.3m0.2 0h1.3m0.7 0h1.3m2.2 0h0.8M117 370h1.3m0.7 0h2.8m0.7 0h0.8M118 370.5h0.8m1.2 0h0.8M89.5 371h0.8m25.2 0h0.8m0.2 0h0.8m0.7 0h1.8m0.7 0h1.8m0.2 0h0.8M116.5 371.5h1.3m0.2 0h0.8m0.2 0h3.8M116 372h2.3m0.2 0h3.8m0.7 0h0.8M116 372.5h2.3m0.7 0h1.3m0.2 0h0.8m0.2 0h0.8m0.7 0h1.3M115 373h0.8m0.2 0h1.8m0.7 0h3.3m0.2 0h1.8M117 373.5h1.8m0.2 0h1.3m0.2 0h1.3m0.2 0h0.8m0.2 0h1.3M115 374h0.8m0.7 0h1.3m0.2 0h0.8m0.2 0h0.8m1.2 0h1.3M93 374.5h0.8m21.2 0h1.8m0.7 0h0.8m0.7 0h2.8m0.2 0h0.8M116 375h1.8m0.2 0h2.3m0.7 0h1.8M114.5 375.5h0.8m1.7 0h5.8M115 376h0.8m0.2 0h2.8m0.7 0h0.8m0.7 0h1.3M114.5 376.5h1.8m0.7 0h0.8m0.2 0h3.8m0.2 0h0.8M115 377h1.3m0.7 0h3.8m0.2 0h0.8m0.2 0h0.8m1.2 0h0.8M115.5 377.5h1.8m1.2 0h1.8m0.7 0h1.3m0.2 0h0.8M114.5 378h0.8m0.2 0h0.8m0.2 0h0.8m0.2 0h1.8m0.2 0h1.3m4.7 0h0.8M114 378.5h1.3m0.2 0h1.3m0.2 0h0.8m0.2 0h2.8m0.2 0h1.3M114.5 379h1.3m1.2 0h3.8m0.2 0h2.3M115.5 379.5h1.3m0.2 0h1.3m0.7 0h2.3m0.2 0h1.3M115.5 380h1.8m0.2 0h3.8m1.7 0h0.8m0.2 0h0.8M115 380.5h4.3m0.2 0h1.3m0.2 0h1.3M115 381h1.3m0.2 0h0.8m0.2 0h0.8m0.7 0h0.8m0.2 0h1.3M112 381.5h0.8m1.2 0h0.8m0.7 0h0.8m0.2 0h1.3m0.2 0h1.8m0.2 0h2.3M113.5 382h0.8m0.7 0h0.8m0.2 0h0.8m0.7 0h2.8m0.2 0h1.3M114.5 382.5h0.8m0.2 0h3.3m0.2 0h0.8m1.7 0h1.3M113 383h2.3m0.2 0h4.8m0.2 0h0.8M97 383.5h0.8m15.7 0h3.3m0.2 0h4.8M113.5 384h0.8m0.7 0h3.3m0.7 0h1.3m0.2 0h1.3M114 384.5h2.3m0.2 0h1.8m0.2 0h1.3m0.2 0h1.8M112.5 385h6.8m0.7 0h1.3M113.5 385.5h1.8m0.2 0h3.3m0.2 0h1.3m0.2 0h0.8m0.2 0h0.8M113 386h0.8m0.2 0h1.8m0.2 0h3.3m0.7 0h0.8m0.2 0h0.8M112.5 386.5h0.8m0.2 0h0.8m0.2 0h2.8m0.2 0h2.8m0.7 0h0.8M112.5 387h0.8m0.2 0h3.8m0.2 0h1.8m0.2 0h0.8M113 387.5h3.3m0.2 0h3.3m0.2 0h1.3M113.5 388h4.8m0.2 0h1.8m0.2 0h0.8m0.2 0h0.8M111.5 388.5h1.3m0.7 0h0.8m0.2 0h2.8m0.2 0h1.3m0.2 0h1.3M112.5 389h0.8m0.7 0h1.8m0.7 0h3.8m0.2 0h0.8m0.2 0h0.8M112 389.5h0.8m0.2 0h1.8m0.2 0h3.3m0.7 0h1.8M112 390h5.3m0.2 0h2.3m0.7 0h0.8M112 390.5h0.8m0.2 0h4.8m0.2 0h1.3M110 391h0.8m1.2 0h3.3m0.2 0h1.3m0.2 0h0.8m0.7 0h0.8m0.2 0h0.8m0.2 0h0.8M112.5 391.5h0.8m0.2 0h4.8m0.2 0h0.8m0.7 0h0.8M111.5 392h1.3m0.2 0h1.3m0.2 0h1.3m0.7 0h2.3m0.2 0h1.8m3.2 0h0.8M110.5 392.5h0.8m0.7 0h3.8m0.2 0h2.8M112 393h4.3m0.7 0h1.8m0.2 0h0.8m4.2 0h0.8M111 393.5h1.3m0.7 0h2.8m0.2 0h1.8m0.7 0h1.8M110.5 394h0.8m0.2 0h0.8m0.7 0h0.8m0.2 0h1.3m0.2 0h1.8m0.2 0h0.8m0.2 0h0.8m0.2 0h0.8m1.7 0h0.8M110.5 394.5h0.8m0.2 0h0.8m0.7 0h0.8m0.2 0h1.3m0.2 0h3.8M111 395h6.3m0.7 0h1.8M108.5 395.5h0.8m1.2 0h2.3m0.7 0h0.8m0.7 0h2.3m0.2 0h0.8m0.2 0h1.3M110.5 396h0.8m0.2 0h3.3m0.2 0h1.8m1.2 0h1.3m6.2 0h0.8M111 396.5h5.3m0.7 0h2.3m0.7 0h0.8m0.7 0h0.8M110.5 397h0.8m0.2 0h5.3m0.2 0h1.8m0.7 0h0.8M110 397.5h0.8m0.2 0h3.8m0.2 0h1.8m0.2 0h2.3M109.5 398h1.8m1.2 0h3.3m0.2 0h2.3M108 398.5h0.8m1.2 0h1.3m0.2 0h2.3m0.2 0h1.8m0.2 0h1.8M108.5 399h0.8m1.7 0h1.8m0.7 0h4.8m0.2 0h0.8M109.5 399.5h1.3m0.2 0h1.3m0.2 0h1.8m0.2 0h0.8m0.2 0h0.8m0.2 0h2.8M108.5 400h0.8m0.2 0h1.3m0.2 0h0.8m0.2 0h1.3m0.2 0h2.8m0.7 0h0.8m0.2 0h0.8m3.7 0h0.8M109 400.5h1.8m0.2 0h4.8m0.7 0h1.8M109 401h4.3m0.2 0h4.8m0.2 0h0.8M108.5 401.5h2.3m0.2 0h4.3m0.2 0h1.8m0.2 0h1.3m1.7 0h0.8M110.5 402h2.8m0.2 0h3.8M108 402.5h1.8m0.2 0h1.8m0.7 0h3.3m0.7 0h1.3m0.2 0h1.8M109.5 403h2.8m0.2 0h0.8m0.2 0h3.3m0.2 0h0.8m0.2 0h0.8M108.5 403.5h1.3m0.2 0h7.3m0.2 0h0.8m0.2 0h0.8M108.5 404h0.8m0.2 0h2.8m0.2 0h5.8M108.5 404.5h0.8m0.7 0h7.3m0.2 0h0.8M107 405h1.3m1.2 0h0.8m0.2 0h0.8m0.2 0h4.8m0.2 0h1.8M107 405.5h4.8m0.2 0h3.8m0.7 0h0.8m0.2 0h0.8M107 406h1.8m0.2 0h3.3m0.2 0h4.3m0.7 0h0.8m0.2 0h0.8M106 406.5h1.8m0.7 0h4.3m0.2 0h1.8m0.2 0h2.8m0.2 0h0.8M107.5 407h0.8m0.2 0h1.3m0.2 0h1.8m0.2 0h2.3m0.2 0h1.3m0.7 0h1.8m0.2 0h0.8m1.7 0h0.8M107.5 407.5h1.8m0.2 0h6.8m0.7 0h1.3m0.2 0h0.8M106.5 408h1.8m0.2 0h0.8m0.2 0h2.8m0.2 0h3.8m0.7 0h0.8m0.7 0h0.8m2.2 0h0.8M106.5 408.5h11.8M106.5 409h0.8m0.2 0h7.8m1.2 0h0.8m0.2 0h0.8M105 409.5h1.8m0.2 0h0.8m0.2 0h3.8m0.2 0h1.3m1.2 0h1.3m1.2 0h0.8M104.5 410h1.3m0.2 0h1.3m0.2 0h1.8m0.2 0h1.8m0.2 0h4.8m0.7 0h0.8m0.2 0h1.3M105 410.5h1.3m0.2 0h3.8m0.2 0h3.8m0.2 0h0.8m0.2 0h0.8M104 411h7.8m0.2 0h4.8M104 411.5h0.8m0.2 0h1.3m0.2 0h0.8m0.2 0h6.8m0.2 0h0.8m0.2 0h0.8m0.2 0h1.8M103.5 412h1.3m0.2 0h4.8m0.2 0h2.8m0.7 0h1.3m0.2 0h0.8M105.5 412.5h3.3m0.7 0h3.3m0.7 0h2.8m3.2 0h0.8M104.5 413h5.3m0.2 0h6.3M103.5 413.5h0.8m0.2 0h2.3m0.2 0h8.8m0.2 0h0.8M103.5 414h0.8m0.7 0h11.3M101 414.5h0.8m2.2 0h0.8m0.2 0h3.3m0.2 0h0.8m0.2 0h3.3m2.2 0h0.8M103.5 415h2.8m0.2 0h6.8m0.2 0h0.8m1.2 0h1.8M101 415.5h0.8m0.2 0h1.3m0.2 0h3.3m0.2 0h6.8m0.7 0h0.8M102.5 416h1.3m0.2 0h1.8m0.2 0h3.8m0.2 0h3.3m1.2 0h1.8M102 416.5h12.8M101.5 417h1.8m0.2 0h1.3m0.2 0h8.3m0.2 0h1.3m1.2 0h0.8M101 417.5h0.8m0.2 0h1.3m0.2 0h11.3m0.7 0h0.8m0.2 0h0.8M103 418h2.8m0.2 0h4.8m0.2 0h1.8m0.2 0h1.3m0.2 0h1.3m3.7 0h0.8M100 418.5h0.8m0.2 0h2.3m0.2 0h10.3M99.5 419h0.8m0.7 0h1.3m0.2 0h8.8m0.2 0h2.3m0.2 0h0.8M99 419.5h1.3m0.7 0h5.8m0.7 0h3.3m0.2 0h1.8m0.2 0h0.8m0.2 0h0.8M99.5 420h0.8m0.2 0h0.8m0.2 0h2.8m0.2 0h5.8m0.2 0h2.8M100 420.5h1.8m0.7 0h1.3m0.2 0h1.3m0.2 0h7.3m0.7 0h0.8M99.5 421h1.8m0.2 0h10.3m0.7 0h0.8M100.5 421.5h0.8m0.2 0h1.3m0.7 0h7.3m0.2 0h3.3M99.5 422h11.8m0.2 0h1.3M97 422.5h0.8m0.7 0h5.3m0.2 0h6.3m1.2 0h0.8m1.2 0h1.3m0.2 0h0.8M97.5 423h4.8m0.2 0h9.8M91.5 423.5h0.8m3.7 0h0.8m0.7 0h0.8m0.2 0h9.3m0.2 0h4.3M96.5 424h0.8m1.2 0h2.3m0.2 0h6.3m0.2 0h1.3m0.2 0h3.8m0.2 0h0.8M94 424.5h0.8m1.7 0h0.8m0.2 0h1.3m0.2 0h9.8m0.2 0h1.8m4.2 0h0.8M96 425h0.8m0.7 0h3.8m0.2 0h9.3M93 425.5h1.3m1.2 0h0.8m0.7 0h12.3m0.7 0h0.8m1.2 0h0.8M94.5 426h0.8m2.7 0h12.8M95.5 426.5h1.3m0.7 0h0.8m0.7 0h8.8m0.2 0h1.3m0.2 0h0.8m0.7 0h0.8m0.7 0h0.8M95 427h1.3m0.7 0h13.8m0.2 0h1.3M93 427.5h1.3m0.2 0h2.3m0.2 0h11.3m1.2 0h1.3m4.2 0h0.8M94 428h1.8m0.7 0h1.3m0.2 0h9.3m0.2 0h1.8m0.2 0h1.3M92.5 428.5h0.8m2.2 0h2.3m0.2 0h10.3m1.2 0h0.8M96 429h0.8m0.2 0h8.8m0.2 0h2.3m0.2 0h1.3M93 429.5h0.8m1.2 0h0.8m0.2 0h9.3m0.2 0h1.3m0.2 0h0.8m0.2 0h1.3m0.7 0h0.8M87 430h0.8m3.7 0h0.8m3.2 0h10.3m0.2 0h1.3m0.7 0h0.8M90.5 430.5h0.8m3.2 0h0.8m0.2 0h10.8M88 431h0.8m4.7 0h1.8m0.2 0h9.3m0.2 0h0.8m0.2 0h0.8M92.5 431.5h0.8m1.7 0h5.3m0.2 0h5.3m0.2 0h0.8m2.2 0h0.8M95 432h6.3m0.2 0h0.8m0.2 0h1.3m0.2 0h1.3m1.2 0h1.3M86 432.5h0.8m2.2 0h0.8m3.2 0h1.3m0.2 0h1.3m0.2 0h5.8m0.2 0h0.8m0.7 0h1.3M92 433h0.8m1.7 0h0.8m1.2 0h1.3m0.2 0h2.3m0.7 0h1.8m1.7 0h0.8M95 433.5h1.8m0.2 0h2.8m0.2 0h1.3m4.2 0h0.8M94 434h0.8m0.7 0h0.8m0.2 0h1.3m1.2 0h2.3m0.2 0h0.8m0.2 0h1.3m0.2 0h1.3m3.2 0h0.8M94.5 434.5h0.8m0.7 0h0.8m2.2 0h1.8m1.2 0h1.3m21.2 0h0.8M98 435h0.8m0.7 0h0.8m2.7 0h0.8M83.5 435.5h0.8m8.7 0h0.8m4.7 0h0.8M96.5 436h0.8m2.2 0h0.8M97 436.5h0.8m2.2 0h0.8M95 437h0.8m0.2 0h0.8M92 437.5h0.8M90 438h0.8m2.7 0h0.8m5.2 0h0.8m2.7 0h0.8M99.5 440h0.8m1.2 0h0.8" stroke="#000" stroke-width="0.8" fill="none" filter="url(#b2)"/>
<polygon points="130.7,347.3 166,347.3 166,436.8 110.4,436.8 122.6,421.7" fill="none" stroke="#7680ae" stroke-width="1.05" stroke-linejoin="miter"/>
<text x="146.3" y="368" font-size="15" text-anchor="middle" fill="#111" stroke="#111" stroke-width="0.25" textLength="26.3" lengthAdjust="spacingAndGlyphs">0.12</text>
</g>
<g>
<path d="M217.5 441V344.4H313.9V441" fill="none" stroke="#b9b9b9" stroke-width="1"/>
<path d="M217.5 441V344.4" fill="none" stroke="#8c8c8c" stroke-width="1"/>
<path d="M217 441H314.4" fill="none" stroke="#555" stroke-width="1"/>
<path d="M217.5 441v-2M224.8 441v-1M229 441v-1M232 441v-1M234.3 441v-1M236.3 441v-1M237.9 441v-1M239.3 441v-1M240.5 441v-1M241.6 441v-2M248.9 441v-1M253.1 441v-1M256.1 441v-1M258.4 441v-1M260.4 441v-1M262 441v-1M263.4 441v-1M264.6 441v-1M265.7 441v-2M273 441v-1M277.2 441v-1M280.2 441v-1M282.5 441v-1M284.5 441v-1M286.1 441v-1M287.5 441v-1M288.7 441v-1M289.8 441v-2M297.1 441v-1M301.3 441v-1M304.3 441v-1M306.6 441v-1M308.6 441v-1M310.2 441v-1M311.6 441v-1M312.8 441v-1M313.9 441v-2" stroke="#555" stroke-width="0.6" fill="none"/>
<text x="217.8" y="451.7" font-size="5.7" text-anchor="middle" font-weight="bold" fill="#111">10<tspan dy="-3.1" font-size="4.9">0</tspan></text>
<text x="241.9" y="451.7" font-size="5.7" text-anchor="middle" font-weight="bold" fill="#111">10<tspan dy="-3.1" font-size="4.9">1</tspan></text>
<text x="266" y="451.7" font-size="5.7" text-anchor="middle" font-weight="bold" fill="#111">10<tspan dy="-3.1" font-size="4.9">2</tspan></text>
<text x="290.1" y="451.7" font-size="5.7" text-anchor="middle" font-weight="bold" fill="#111">10<tspan dy="-3.1" font-size="4.9">3</tspan></text>
<text x="314.2" y="451.7" font-size="5.7" text-anchor="middle" font-weight="bold" fill="#111">10<tspan dy="-3.1" font-size="4.9">4</tspan></text>
<path d="M217.5 422.2h-2M217.5 403.4h-2M217.5 384.5h-2M217.5 365.7h-2M217.5 346.9h-2" stroke="#999" stroke-width="0.6" fill="none"/>
<text x="213.4" y="443.2" font-size="5.7" text-anchor="end" font-weight="bold" fill="#111">0</text>
<text x="213.4" y="424.4" font-size="5.7" text-anchor="end" font-weight="bold" fill="#111">200</text>
<text x="213.4" y="405.6" font-size="5.7" text-anchor="end" font-weight="bold" fill="#111">400</text>
<text x="213.4" y="386.7" font-size="5.7" text-anchor="end" font-weight="bold" fill="#111">600</text>
<text x="213.4" y="367.9" font-size="5.7" text-anchor="end" font-weight="bold" fill="#111">800</text>
<text x="213.4" y="349.1" font-size="5.7" text-anchor="end" font-weight="bold" fill="#111">1000</text>
<text x="265.2" y="457.5" font-size="5.8" text-anchor="middle" font-weight="bold" fill="#222">Aldefluor</text>
<text transform="translate(197.9 392.7) rotate(-90)" font-size="6.1" text-anchor="middle" font-weight="bold" fill="#222">Side scatter</text>
<path d="M287 345.5h0.8m4.2 0h0.8m3.2 0h0.8M292 346h0.8m0.7 0h0.8m0.7 0h0.8m1.7 0h0.8M290 346.5h0.8m0.2 0h1.3m0.2 0h0.8m0.7 0h0.8M287.5 347h0.8m0.7 0h1.3m0.7 0h1.3m0.2 0h1.3m0.2 0h0.8m1.2 0h0.8m2.2 0h0.8M280.5 347.5h0.8m8.2 0h0.8m0.7 0h0.8m0.2 0h1.3m0.2 0h0.8m1.2 0h0.8m0.7 0h0.8M288 348h0.8m2.7 0h1.3m0.2 0h2.8m2.7 0h0.8M291.5 348.5h0.8m0.2 0h0.8m1.7 0h0.8M287 349h0.8m0.7 0h0.8m0.7 0h1.3m0.7 0h1.3M286.5 349.5h0.8m1.2 0h0.8m0.2 0h0.8m1.2 0h1.8m1.7 0h0.8m4.7 0h0.8M291 350h0.8m1.2 0h0.8m3.7 0h0.8M289 350.5h0.8m1.2 0h0.8m2.7 0h0.8m1.2 0h1.3m2.2 0h0.8M287 351h0.8m3.2 0h2.3m1.7 0h0.8m0.2 0h0.8m0.7 0h0.8M289 351.5h0.8m0.7 0h0.8m0.7 0h0.8m0.2 0h0.8m1.7 0h0.8m0.2 0h0.8m1.7 0h0.8M289.5 352h0.8m0.2 0h0.8m0.2 0h1.3m1.2 0h0.8m0.7 0h1.3M247.5 352.5h0.8m39.2 0h1.8m0.2 0h0.8m0.7 0h0.8m3.2 0h0.8M281.5 353h0.8m7.2 0h0.8m0.7 0h0.8m1.2 0h1.8m0.2 0h1.3M286.5 353.5h0.8m2.7 0h1.3m1.2 0h1.3m0.2 0h0.8m0.7 0h2.3m1.7 0h0.8M287 354h0.8m0.2 0h0.8m1.2 0h0.8m0.2 0h1.3m1.2 0h0.8m2.2 0h0.8m1.2 0h0.8M284.5 354.5h0.8m1.7 0h0.8m1.2 0h0.8m0.2 0h0.8m1.7 0h0.8m0.2 0h1.3m2.2 0h0.8M286.5 355h0.8m0.7 0h0.8m3.2 0h0.8m2.2 0h0.8M287 355.5h1.3m0.7 0h1.3m1.2 0h0.8m0.7 0h0.8m0.7 0h1.8m0.7 0h0.8M286.5 356h0.8m0.2 0h0.8m1.7 0h0.8m1.2 0h1.3M286.5 356.5h1.3m0.7 0h0.8m2.2 0h1.3m0.2 0h0.8m0.2 0h0.8m0.2 0h0.8m0.2 0h0.8M275 357h0.8m11.7 0h0.8m0.2 0h0.8m0.7 0h0.8m0.2 0h0.8m0.7 0h1.3m1.2 0h0.8m2.2 0h0.8m2.7 0h0.8M287.5 357.5h1.8m0.2 0h1.3m0.2 0h0.8m0.7 0h0.8m0.2 0h0.8m1.2 0h0.8m3.2 0h0.8M288 358h1.8m1.2 0h0.8m0.2 0h1.3m0.2 0h1.3m0.7 0h0.8m0.2 0h0.8M285.5 358.5h0.8m1.2 0h0.8m0.7 0h0.8m0.2 0h1.3m0.2 0h1.8m4.7 0h0.8M286.5 359h0.8m2.7 0h0.8m1.7 0h0.8m0.7 0h0.8m2.2 0h0.8M283.5 359.5h0.8m4.2 0h1.3m1.2 0h1.3m0.7 0h1.3m2.7 0h0.8m1.2 0h0.8m0.7 0h0.8M251.5 360h0.8m35.2 0h1.3m0.2 0h1.3m3.2 0h0.8m0.2 0h0.8m1.7 0h0.8M264 360.5h0.8m6.2 0h0.8m10.7 0h0.8m4.7 0h1.8m0.2 0h1.3m0.2 0h0.8m1.2 0h1.3m0.2 0h0.8M285.5 361h0.8m4.7 0h1.3m0.7 0h0.8m0.2 0h0.8m1.2 0h0.8m1.2 0h0.8M238.5 361.5h0.8m50.2 0h0.8m0.2 0h1.3m0.2 0h0.8m1.2 0h0.8m4.2 0h0.8M255.5 362h0.8m29.7 0h1.3m2.7 0h0.8m1.2 0h1.3m0.2 0h0.8m0.7 0h0.8m3.2 0h0.8M282 362.5h0.8m0.2 0h0.8m2.7 0h0.8m0.7 0h0.8m0.2 0h0.8m2.2 0h0.8m0.2 0h0.8m3.2 0h0.8m2.2 0h0.8M289 363h1.3m0.2 0h1.8m0.2 0h1.3m1.2 0h0.8m2.7 0h0.8M286 363.5h0.8m0.2 0h0.8m2.2 0h0.8m0.2 0h0.8m2.2 0h0.8m0.2 0h0.8m0.7 0h0.8M286.5 364h0.8m0.2 0h1.3m0.2 0h1.8m3.2 0h0.8m3.2 0h0.8M281 364.5h0.8m3.7 0h0.8m0.7 0h1.3m0.7 0h0.8m0.7 0h0.8m0.7 0h1.3m0.2 0h0.8M283.5 365h1.3m0.7 0h0.8m1.7 0h0.8m1.2 0h0.8m0.2 0h0.8m0.2 0h0.8m1.2 0h0.8M280 365.5h0.8m3.2 0h0.8m0.2 0h0.8m1.7 0h0.8m5.2 0h0.8m0.7 0h0.8m0.2 0h1.3m2.7 0h0.8M283.5 366h0.8m0.2 0h0.8m1.2 0h1.3m1.7 0h1.3m1.2 0h1.3m1.7 0h1.8M286 366.5h0.8m0.2 0h0.8m1.7 0h1.3m1.7 0h0.8m2.2 0h0.8m0.7 0h0.8M260 367h0.8m21.7 0h0.8m2.7 0h0.8m3.7 0h1.3m0.2 0h0.8m3.7 0h0.8M286.5 367.5h0.8m1.2 0h0.8m1.2 0h1.3m3.2 0h0.8M281 368h0.8m4.7 0h1.8m2.2 0h0.8m2.2 0h0.8m2.2 0h1.3M283.5 368.5h0.8m2.7 0h0.8m0.2 0h0.8m0.2 0h0.8m0.7 0h0.8m0.2 0h1.8m0.2 0h0.8m3.7 0h0.8m0.7 0h0.8M284.5 369h0.8m2.2 0h0.8m0.2 0h1.3m1.2 0h0.8m2.7 0h1.3m3.7 0h0.8M280 369.5h0.8m1.2 0h0.8m1.2 0h0.8m0.7 0h0.8m0.2 0h0.8m2.2 0h1.3m1.2 0h1.3m0.2 0h1.3m0.7 0h1.3m0.7 0h0.8M284 370h1.3m2.2 0h0.8m0.2 0h1.3m0.7 0h1.3m1.7 0h1.3m2.7 0h1.3m1.7 0h0.8M280 370.5h0.8m1.7 0h0.8m2.2 0h1.3m0.7 0h0.8m1.7 0h0.8m0.7 0h0.8m2.7 0h1.3m2.2 0h0.8M279.5 371h1.3m0.7 0h0.8m0.2 0h1.3m1.2 0h0.8m1.2 0h0.8m0.7 0h0.8m0.2 0h0.8m0.2 0h0.8m0.2 0h1.8m1.2 0h0.8m1.2 0h1.3m3.2 0h0.8M285.5 371.5h0.8m0.7 0h0.8m0.2 0h0.8m1.7 0h0.8m0.7 0h0.8m2.7 0h0.8m0.2 0h0.8m1.2 0h0.8M256.5 372h0.8m18.7 0h0.8m4.7 0h0.8m0.2 0h0.8m0.2 0h0.8m0.2 0h0.8m0.2 0h1.3m0.2 0h0.8m0.7 0h1.3m0.2 0h0.8m0.2 0h0.8m1.2 0h0.8m3.2 0h0.8m3.2 0h0.8M279 372.5h0.8m2.7 0h0.8m0.7 0h0.8m1.2 0h0.8m0.2 0h0.8m0.2 0h0.8m1.2 0h1.3m0.2 0h0.8m1.7 0h0.8M281 373h0.8m2.2 0h1.3m2.2 0h0.8m1.2 0h0.8m0.2 0h0.8m0.7 0h0.8m1.7 0h0.8m0.7 0h0.8m0.7 0h0.8M280 373.5h1.3m1.7 0h0.8m1.2 0h0.8m1.7 0h0.8m0.7 0h2.3m0.7 0h1.8m0.2 0h0.8m3.2 0h0.8M276 374h0.8m6.7 0h0.8m3.2 0h1.3m0.2 0h0.8m1.2 0h1.3m2.7 0h0.8m1.7 0h0.8m6.7 0h0.8M283.5 374.5h1.8m0.2 0h0.8m0.2 0h1.3m0.7 0h0.8m1.2 0h0.8m0.7 0h0.8m8.7 0h0.8M281.5 375h0.8m2.7 0h1.8m1.7 0h0.8m2.2 0h0.8m0.7 0h0.8m0.2 0h0.8M280.5 375.5h0.8m1.2 0h0.8m0.2 0h0.8m0.7 0h0.8m1.2 0h1.3m1.7 0h1.3m0.7 0h0.8m0.2 0h0.8m2.2 0h0.8m1.2 0h0.8M275.5 376h1.3m0.2 0h0.8m8.2 0h0.8m1.2 0h0.8m0.2 0h0.8m6.7 0h0.8M282 376.5h1.8m1.2 0h0.8m0.2 0h1.3m0.2 0h0.8m0.2 0h0.8m1.7 0h1.3m0.7 0h0.8m0.2 0h0.8m0.2 0h0.8M283 377h0.8m2.7 0h0.8m0.2 0h1.3m0.2 0h0.8m0.2 0h1.3m0.2 0h0.8m0.7 0h1.3M236.5 377.5h0.8m40.7 0h0.8m2.2 0h0.8m0.2 0h1.3m0.2 0h0.8m0.2 0h0.8m0.7 0h0.8m1.2 0h0.8m0.7 0h0.8m0.7 0h2.8m3.7 0h0.8M281 378h0.8m0.7 0h0.8m0.2 0h1.8m0.2 0h2.3m2.7 0h0.8m0.2 0h0.8m6.2 0h0.8M279.5 378.5h0.8m2.7 0h0.8m0.2 0h1.3m1.2 0h0.8m0.2 0h1.3m0.2 0h1.3m0.2 0h0.8m1.7 0h0.8M278.5 379h0.8m3.2 0h0.8m0.2 0h1.8m1.2 0h1.8m0.2 0h0.8m1.2 0h1.3m0.2 0h0.8m12.7 0h0.8M274.5 379.5h0.8m4.2 0h0.8m2.7 0h0.8m0.7 0h0.8m1.7 0h1.3m0.2 0h1.3m0.7 0h1.8m0.7 0h1.3m5.7 0h1.3M281.5 380h1.3m0.2 0h0.8m3.2 0h0.8m1.2 0h1.3m0.2 0h0.8m0.7 0h0.8m1.2 0h0.8M278.5 380.5h0.8m2.7 0h0.8m0.2 0h0.8m0.7 0h0.8m0.2 0h3.8m0.2 0h0.8m0.2 0h0.8m0.2 0h0.8M282.5 381h0.8m1.2 0h1.3m0.7 0h1.3m1.7 0h0.8m1.7 0h0.8m0.2 0h0.8M273 381.5h0.8m4.7 0h1.3m3.2 0h1.3m0.7 0h0.8m2.2 0h1.3m1.2 0h1.3m4.7 0h0.8M272.5 382h0.8m0.7 0h0.8m4.2 0h0.8m1.2 0h1.3m2.7 0h1.3m0.7 0h1.3m0.2 0h0.8m1.2 0h0.8m0.7 0h1.3M280 382.5h0.8m1.2 0h1.3m0.2 0h1.8m0.2 0h0.8m0.7 0h1.3m0.7 0h1.8M278 383h0.8m2.7 0h1.3m0.2 0h0.8m0.7 0h1.8m0.2 0h1.3m2.7 0h1.3m0.2 0h0.8m0.2 0h0.8m2.2 0h0.8M274.5 383.5h0.8m1.2 0h0.8m0.7 0h0.8m2.2 0h1.3m0.2 0h0.8m2.7 0h0.8m0.2 0h0.8m0.2 0h1.8m0.2 0h0.8m0.7 0h0.8m0.7 0h0.8M276 384h0.8m0.2 0h0.8m2.2 0h0.8m1.7 0h0.8m2.7 0h0.8m0.2 0h0.8m0.2 0h0.8m1.2 0h0.8m1.2 0h1.3M277 384.5h0.8m0.2 0h0.8m0.2 0h1.3m0.7 0h0.8m1.7 0h0.8m1.7 0h0.8m0.2 0h0.8m0.2 0h0.8m4.7 0h0.8m0.7 0h0.8M278 385h0.8m0.7 0h1.3m4.2 0h0.8m0.2 0h1.8m1.7 0h0.8m0.2 0h0.8m1.2 0h0.8m2.7 0h0.8m1.2 0h0.8M272.5 385.5h0.8m2.7 0h0.8m1.2 0h0.8m1.7 0h0.8m2.2 0h1.3m0.2 0h0.8m0.2 0h0.8m0.2 0h0.8m0.2 0h0.8m0.7 0h1.3m2.2 0h0.8M278.5 386h1.8m0.2 0h1.3m0.2 0h0.8m1.7 0h0.8m0.2 0h0.8m0.7 0h0.8m0.2 0h0.8m0.2 0h1.3m1.2 0h0.8m0.2 0h0.8m4.2 0h0.8M244 386.5h0.8m28.7 0h0.8m1.7 0h1.3m1.2 0h0.8m0.2 0h0.8m0.2 0h0.8m0.2 0h0.8m1.2 0h1.8m0.2 0h0.8m0.2 0h0.8m0.2 0h0.8m5.2 0h0.8M279 387h0.8m1.2 0h0.8m2.2 0h0.8m0.7 0h0.8m1.2 0h0.8m1.2 0h1.3m0.7 0h0.8m2.2 0h0.8M271.5 387.5h0.8m1.2 0h0.8m4.7 0h0.8m1.2 0h0.8m0.7 0h1.3m2.2 0h0.8m0.2 0h0.8m0.2 0h1.3m0.2 0h0.8m1.7 0h0.8m3.2 0h0.8M272 388h0.8m4.2 0h0.8m1.2 0h0.8m1.7 0h0.8m2.7 0h1.8m1.7 0h0.8m0.2 0h0.8m0.2 0h0.8m1.7 0h0.8m3.2 0h0.8M278.5 388.5h1.3m1.2 0h0.8m0.2 0h1.3m0.7 0h1.8m0.2 0h0.8m1.7 0h0.8m0.7 0h0.8m2.2 0h0.8m8.7 0h0.8M279.5 389h0.8m1.2 0h0.8m0.2 0h0.8m1.2 0h0.8m1.7 0h1.3m3.2 0h0.8M278 389.5h0.8m0.7 0h0.8m1.2 0h0.8m0.2 0h0.8m1.2 0h2.8m1.2 0h1.3m8.7 0h0.8M277 390h0.8m0.2 0h0.8m1.2 0h0.8m0.2 0h0.8m1.2 0h1.3m0.2 0h1.3m0.7 0h1.3m0.2 0h1.3m0.7 0h0.8m0.2 0h0.8m0.2 0h0.8m2.2 0h0.8M278.5 390.5h0.8m0.2 0h0.8m0.7 0h1.3m0.7 0h1.3m0.2 0h0.8m0.2 0h0.8m0.2 0h1.3m0.2 0h1.3m0.7 0h1.3m0.7 0h0.8m0.2 0h0.8M273.5 391h0.8m0.2 0h0.8m2.7 0h0.8m0.2 0h2.3m0.2 0h1.3m0.2 0h0.8m1.2 0h0.8m1.2 0h0.8m0.2 0h0.8m0.2 0h1.3m0.7 0h1.3m2.2 0h0.8M275.5 391.5h0.8m4.2 0h0.8m0.2 0h2.8m1.2 0h0.8m0.2 0h0.8m0.7 0h0.8m0.2 0h0.8m4.2 0h0.8M274 392h0.8m1.2 0h0.8m0.2 0h0.8m0.7 0h0.8m1.2 0h0.8m0.2 0h1.3m1.2 0h0.8m0.2 0h0.8m0.7 0h0.8m0.2 0h0.8m1.2 0h1.3m3.7 0h0.8m1.7 0h0.8M275 392.5h0.8m1.2 0h0.8m0.2 0h0.8m1.2 0h0.8m0.2 0h1.3m0.2 0h1.3m1.2 0h0.8m1.2 0h0.8m5.7 0h0.8M274 393h0.8m1.7 0h0.8m3.2 0h1.3m2.2 0h1.3m0.2 0h0.8m0.7 0h0.8m5.2 0h0.8m12.2 0h0.8M276 393.5h0.8m1.7 0h0.8m0.7 0h1.8m0.7 0h0.8m0.7 0h0.8m2.2 0h0.8m0.7 0h0.8m0.2 0h0.8m1.2 0h0.8m2.2 0h0.8m0.2 0h0.8M274 394h0.8m3.7 0h0.8m0.7 0h1.3m1.7 0h0.8m1.7 0h1.3m0.2 0h0.8m0.2 0h1.3m0.7 0h0.8m1.7 0h0.8m0.2 0h0.8M259 394.5h0.8m14.7 0h0.8m0.7 0h1.3m0.2 0h0.8m2.2 0h5.3m0.2 0h0.8m0.2 0h2.3m0.7 0h1.3m2.2 0h1.3M273.5 395h0.8m1.2 0h0.8m0.2 0h0.8m0.7 0h0.8m1.2 0h1.8m0.7 0h0.8m0.2 0h1.3m0.7 0h1.3m0.2 0h0.8m1.7 0h1.3m0.7 0h0.8m2.2 0h1.8M274 395.5h0.8m0.7 0h0.8m0.2 0h0.8m0.7 0h0.8m0.2 0h0.8m0.2 0h0.8m0.7 0h0.8m0.2 0h0.8m0.2 0h0.8m0.2 0h1.3m0.2 0h1.3m0.7 0h0.8m0.2 0h1.8m1.2 0h0.8m1.2 0h0.8m1.7 0h0.8M277 396h0.8m0.7 0h1.3m0.7 0h1.3m0.7 0h0.8m0.7 0h0.8m0.2 0h1.8m0.2 0h0.8m0.2 0h0.8m0.2 0h0.8m1.2 0h1.3m0.7 0h1.3M267.5 396.5h0.8m4.2 0h0.8m0.2 0h0.8m0.2 0h0.8m0.7 0h0.8m0.7 0h0.8m1.7 0h2.3m0.2 0h1.3m0.2 0h1.8m0.2 0h1.3m1.2 0h0.8m2.2 0h0.8m7.2 0h0.8m1.7 0h0.8M274 397h0.8m0.7 0h0.8m2.2 0h0.8m0.2 0h0.8m0.2 0h5.8m0.2 0h0.8m0.7 0h1.8m0.7 0h1.3m3.7 0h0.8M273 397.5h0.8m0.7 0h0.8m3.2 0h0.8m1.2 0h2.3m1.2 0h1.3m0.2 0h0.8m0.7 0h0.8m0.2 0h0.8m0.7 0h1.3m1.7 0h0.8m1.2 0h1.3m3.2 0h0.8M268.5 398h0.8m1.2 0h0.8m0.7 0h0.8m0.7 0h1.3m0.2 0h0.8m0.2 0h0.8m0.2 0h1.3m0.7 0h1.3m1.2 0h0.8m0.2 0h1.3m0.7 0h0.8m0.2 0h1.8m8.7 0h0.8M268.5 398.5h0.8m2.2 0h1.3m1.2 0h0.8m2.7 0h0.8m0.2 0h0.8m0.2 0h1.8m1.2 0h0.8m0.7 0h2.3m0.2 0h1.8m0.7 0h0.8m2.2 0h0.8M266.5 399h0.8m6.7 0h0.8m1.7 0h0.8m0.7 0h0.8m1.7 0h1.3m0.7 0h2.8m0.7 0h2.8m0.7 0h0.8m0.2 0h0.8M248.5 399.5h0.8m24.2 0h0.8m2.2 0h0.8m1.7 0h2.3m1.2 0h1.8m0.2 0h0.8m0.2 0h0.8m0.2 0h1.8m0.7 0h2.3m1.2 0h0.8M266.5 400h0.8m8.2 0h0.8m0.2 0h0.8m0.2 0h1.3m0.2 0h1.3m0.2 0h1.3m0.7 0h2.3m2.7 0h0.8m0.2 0h0.8m0.2 0h0.8m3.7 0h0.8m0.2 0h0.8M270 400.5h0.8m1.7 0h0.8m0.7 0h0.8m0.2 0h0.8m0.7 0h0.8m0.7 0h0.8m1.2 0h0.8m1.7 0h3.8m0.2 0h0.8m1.2 0h1.8m0.2 0h0.8m0.7 0h0.8m4.2 0h0.8m8.7 0h0.8M272 401h0.8m0.7 0h1.3m0.7 0h1.3m0.2 0h1.3m1.7 0h0.8m0.2 0h0.8m0.2 0h1.8m0.2 0h1.3m0.2 0h0.8m1.2 0h0.8M272.5 401.5h0.8m2.7 0h1.3m0.7 0h2.8m0.2 0h0.8m0.2 0h2.8m0.7 0h0.8m3.2 0h0.8m0.2 0h0.8m1.7 0h0.8M276.5 402h0.8m0.7 0h1.3m0.2 0h0.8m0.7 0h1.3m0.7 0h1.3m0.7 0h1.3m1.2 0h0.8m0.2 0h1.8m5.7 0h0.8M270.5 402.5h0.8m0.7 0h0.8m3.2 0h1.8m0.7 0h0.8m0.2 0h0.8m0.2 0h0.8m1.7 0h0.8m0.7 0h1.3m1.2 0h1.3m3.7 0h0.8m1.2 0h0.8m1.2 0h0.8M272 403h1.3m0.2 0h0.8m1.7 0h0.8m0.7 0h2.3m1.2 0h2.3m0.7 0h1.3m0.7 0h2.8m2.7 0h0.8m2.2 0h1.3M262.5 403.5h0.8m10.2 0h1.8m0.2 0h0.8m0.7 0h3.3m0.2 0h3.3m0.7 0h0.8m0.2 0h0.8m0.7 0h1.3m0.7 0h2.3m0.7 0h1.3M272.5 404h1.3m2.2 0h0.8m1.2 0h1.8m0.7 0h0.8m0.2 0h1.3m0.7 0h1.8m0.2 0h0.8m1.2 0h1.8m0.2 0h0.8M270.5 404.5h0.8m0.2 0h0.8m4.7 0h1.8m0.2 0h1.3m0.2 0h2.8m0.7 0h2.8m1.2 0h2.3m0.2 0h0.8m1.7 0h0.8M273 405h5.3m1.7 0h1.3m0.2 0h0.8m0.2 0h3.8m1.2 0h0.8m0.2 0h2.3m0.7 0h0.8m4.2 0h0.8M272 405.5h0.8m0.2 0h0.8m1.7 0h3.8m0.7 0h1.3m0.7 0h2.8m0.2 0h1.8m0.7 0h0.8m0.2 0h0.8m1.7 0h0.8M265 406h0.8m4.7 0h0.8m0.7 0h0.8m0.2 0h0.8m0.2 0h0.8m0.7 0h1.3m1.7 0h2.3m1.2 0h0.8m0.2 0h1.8m1.2 0h0.8m2.2 0h0.8M267.5 406.5h0.8m2.7 0h1.3m3.7 0h1.8m0.2 0h1.3m0.2 0h0.8m0.2 0h0.8m0.2 0h1.8m3.2 0h0.8m0.2 0h1.3m0.7 0h1.3m1.2 0h0.8m0.2 0h0.8m1.2 0h0.8M239.5 407h0.8m22.2 0h0.8m1.7 0h0.8m3.7 0h0.8m1.2 0h2.3m0.7 0h0.8m2.2 0h0.8m1.2 0h2.8m0.7 0h0.8m0.2 0h1.8m0.7 0h1.3m1.2 0h1.8m1.2 0h1.3M266.5 407.5h0.8m2.2 0h0.8m1.7 0h2.3m0.2 0h0.8m0.2 0h0.8m0.2 0h4.3m0.2 0h1.3m1.2 0h1.3m0.7 0h1.3m0.2 0h0.8m0.2 0h1.3m1.2 0h0.8m1.7 0h0.8m6.7 0h1.3M268 408h0.8m0.7 0h0.8m0.2 0h0.8m2.7 0h1.3m0.2 0h1.8m0.2 0h0.8m0.7 0h1.3m0.7 0h2.8m0.2 0h2.3m1.2 0h1.8M264.5 408.5h0.8m1.2 0h0.8m2.2 0h0.8m0.7 0h0.8m0.7 0h0.8m1.7 0h1.8m0.2 0h1.8m0.2 0h0.8m0.2 0h1.3m0.2 0h1.8m0.7 0h1.3m0.2 0h1.3m0.2 0h0.8m2.7 0h0.8M268 409h1.3m4.2 0h1.3m0.2 0h1.3m0.2 0h0.8m2.2 0h1.8m0.2 0h0.8m0.7 0h0.8m0.2 0h1.3m0.7 0h1.8m0.7 0h0.8M242 409.5h0.8m9.2 0h0.8m15.7 0h0.8m1.7 0h0.8m0.2 0h0.8m1.7 0h2.3m0.2 0h0.8m2.7 0h1.3m1.2 0h0.8m1.2 0h0.8m1.7 0h1.3m0.2 0h0.8m3.7 0h1.3M266 410h0.8m0.7 0h0.8m3.2 0h0.8m0.7 0h0.8m0.2 0h2.3m0.7 0h2.8m0.2 0h1.8m0.2 0h0.8m0.2 0h1.8m3.2 0h1.8m0.7 0h0.8M262.5 410.5h0.8m1.7 0h0.8m0.2 0h1.3m1.2 0h1.3m0.7 0h2.8m0.2 0h3.3m0.7 0h0.8m0.2 0h1.3m0.2 0h0.8m0.2 0h0.8m0.2 0h1.8m0.2 0h1.3m0.2 0h1.3m0.2 0h0.8m0.7 0h0.8m1.2 0h1.3m2.2 0h0.8M243 411h0.8m17.2 0h0.8m2.7 0h0.8m1.7 0h0.8m1.7 0h0.8m0.7 0h0.8m2.7 0h1.8m0.2 0h0.8m0.2 0h1.8m0.2 0h1.3m0.2 0h2.8m0.2 0h0.8m0.2 0h0.8m0.2 0h1.3m1.7 0h0.8m1.2 0h0.8m0.2 0h1.3m1.2 0h0.8M265.5 411.5h0.8m1.7 0h1.3m0.7 0h1.3m1.2 0h0.8m0.2 0h0.8m0.2 0h1.8m0.2 0h4.3m0.2 0h1.3m0.7 0h0.8m1.7 0h0.8m0.7 0h0.8m0.2 0h0.8m2.7 0h0.8m2.2 0h0.8m1.7 0h0.8M251 412h1.3m11.7 0h0.8m1.7 0h0.8m2.7 0h0.8m1.2 0h2.8m1.2 0h0.8m0.2 0h0.8m0.2 0h1.8m0.2 0h2.3m0.2 0h0.8m0.7 0h1.3m0.2 0h0.8m0.2 0h1.3m2.7 0h1.3m4.2 0h0.8M242.5 412.5h0.8m13.2 0h0.8m6.2 0h0.8m3.7 0h0.8m0.2 0h0.8m0.7 0h2.8m0.7 0h1.3m0.2 0h1.3m0.2 0h1.8m0.2 0h2.3m0.7 0h1.3m0.2 0h2.8m0.7 0h0.8m0.7 0h0.8m1.7 0h0.8M248 413h0.8m0.7 0h0.8m7.7 0h0.8m1.2 0h0.8m5.2 0h0.8m0.7 0h1.3m1.7 0h0.8m0.2 0h0.8m0.7 0h1.3m0.7 0h4.8m0.7 0h2.8m0.2 0h0.8m1.2 0h0.8m0.7 0h0.8m0.2 0h0.8m8.2 0h0.8m11.2 0h0.8M245.5 413.5h0.8m6.7 0h0.8m0.7 0h0.8m3.2 0h0.8m4.2 0h0.8m1.2 0h0.8m0.2 0h0.8m3.2 0h0.8m0.7 0h1.3m1.7 0h0.8m0.7 0h2.8m0.2 0h0.8m0.2 0h1.3m0.2 0h1.3m0.2 0h0.8m1.7 0h0.8m2.7 0h0.8m0.2 0h0.8m0.2 0h0.8m2.7 0h0.8M243.5 414h0.8m10.2 0h0.8m9.7 0h0.8m2.2 0h1.8m0.7 0h1.3m1.2 0h1.8m1.2 0h2.3m0.7 0h2.3m0.2 0h2.8m0.2 0h1.3m0.7 0h1.8m2.2 0h0.8m0.7 0h0.8M235.5 414.5h0.8m18.7 0h0.8m2.2 0h0.8m2.2 0h0.8m4.7 0h0.8m1.7 0h1.8m0.2 0h0.8m0.7 0h0.8m0.2 0h1.3m0.7 0h2.3m0.2 0h1.3m0.2 0h0.8m0.2 0h2.3m0.2 0h0.8m1.7 0h1.3m0.2 0h0.8m1.7 0h1.3M237 415h0.8m2.2 0h0.8m0.7 0h0.8m12.7 0h1.3m1.2 0h0.8m3.7 0h0.8m2.2 0h1.3m0.2 0h0.8m0.2 0h1.8m0.2 0h1.8m0.2 0h0.8m0.2 0h0.8m0.2 0h0.8m0.2 0h1.3m0.2 0h1.3m0.2 0h1.3m0.2 0h1.8m0.2 0h0.8m0.2 0h1.3m0.2 0h1.8m0.2 0h0.8m0.2 0h0.8m1.2 0h0.8m4.2 0h0.8M250 415.5h0.8m14.7 0h1.3m0.7 0h0.8m1.2 0h0.8m0.2 0h3.8m0.2 0h1.3m0.2 0h1.3m0.2 0h2.8m0.2 0h1.8m1.7 0h1.8m1.2 0h0.8M242 416h0.8m0.2 0h0.8m3.7 0h0.8m7.7 0h0.8m1.2 0h0.8m1.7 0h0.8m1.2 0h0.8m1.7 0h1.8m1.7 0h0.8m0.2 0h6.3m0.2 0h0.8m1.2 0h3.8m0.2 0h2.3m0.7 0h0.8m0.2 0h0.8m0.2 0h1.3m2.2 0h0.8m0.2 0h0.8m0.7 0h0.8M250 416.5h0.8m7.2 0h0.8m2.2 0h0.8m1.2 0h0.8m2.7 0h0.8m0.2 0h0.8m0.7 0h0.8m0.2 0h0.8m1.7 0h1.3m0.2 0h1.8m0.2 0h0.8m0.7 0h1.3m0.2 0h4.3m0.2 0h0.8m1.2 0h0.8m1.2 0h0.8m2.7 0h0.8m4.7 0h1.3M236.5 417h0.8m23.7 0h1.3m1.2 0h1.3m0.2 0h1.3m0.2 0h0.8m1.2 0h0.8m0.2 0h1.8m0.2 0h0.8m0.7 0h0.8m0.2 0h1.3m0.2 0h1.3m0.2 0h0.8m0.2 0h0.8m0.2 0h1.3m0.2 0h1.3m2.2 0h2.8m6.2 0h0.8m3.2 0h0.8M266.5 417.5h0.8m1.2 0h6.8m0.7 0h0.8m0.7 0h1.8m0.2 0h2.3m0.2 0h0.8m0.7 0h0.8m0.2 0h1.3m0.7 0h1.3m0.7 0h0.8m0.7 0h1.8m0.7 0h0.8m2.2 0h0.8M235 418h0.8m4.2 0h0.8m13.2 0h0.8m2.7 0h1.3m6.2 0h1.8m0.2 0h3.8m0.2 0h2.3m0.2 0h0.8m0.2 0h3.3m1.2 0h0.8m0.2 0h1.3m1.2 0h0.8m0.2 0h1.8m1.7 0h0.8m1.7 0h0.8m5.7 0h0.8M238.5 418.5h0.8m6.2 0h0.8m1.7 0h0.8m2.2 0h0.8m1.2 0h0.8m3.2 0h0.8m4.7 0h1.3m2.7 0h0.8m0.2 0h0.8m1.2 0h3.3m0.7 0h1.8m0.2 0h1.8m1.2 0h2.3m1.2 0h0.8m0.2 0h0.8m1.2 0h0.8m1.7 0h0.8M239 419h0.8m2.2 0h0.8m3.7 0h0.8m0.2 0h0.8m3.7 0h0.8m5.2 0h0.8m1.2 0h1.3m1.7 0h0.8m6.7 0h1.3m0.7 0h2.3m0.2 0h1.3m0.2 0h0.8m1.2 0h0.8m0.2 0h0.8m0.2 0h1.3m0.2 0h2.8m0.2 0h0.8m1.7 0h0.8m3.7 0h0.8M239.5 419.5h0.8m0.2 0h0.8m9.7 0h1.3m3.2 0h0.8m2.7 0h0.8m1.7 0h0.8m1.2 0h0.8m0.7 0h1.3m0.2 0h2.8m1.7 0h1.3m0.7 0h2.8m0.2 0h1.3m0.2 0h1.8m0.2 0h1.3m0.2 0h1.8m0.2 0h0.8m3.7 0h0.8m2.7 0h1.3M244 420h0.8m0.7 0h1.3m3.2 0h1.3m5.2 0h1.8m1.7 0h0.8m3.7 0h2.8m0.2 0h1.8m0.2 0h3.3m0.2 0h2.3m0.7 0h0.8m0.2 0h0.8m0.2 0h1.3m0.2 0h0.8m0.7 0h1.3m0.2 0h1.3m0.7 0h1.3m1.2 0h0.8M241.5 420.5h0.8m2.7 0h0.8m2.7 0h0.8m7.2 0h0.8m0.7 0h0.8m0.2 0h0.8m0.2 0h0.8m1.2 0h0.8m1.7 0h0.8m1.7 0h1.8m0.7 0h1.3m0.7 0h1.8m0.2 0h2.3m0.2 0h0.8m0.2 0h1.3m0.2 0h1.3m0.2 0h0.8m0.7 0h1.3m0.2 0h0.8m0.7 0h0.8m0.7 0h1.8m1.7 0h0.8M243.5 421h0.8m16.2 0h0.8m2.7 0h0.8m0.2 0h1.3m0.2 0h0.8m1.2 0h1.3m0.2 0h4.3m0.2 0h1.3m0.2 0h1.3m0.2 0h2.3m0.7 0h1.3m0.2 0h1.3m2.2 0h0.8m0.7 0h1.3M242.5 421.5h0.8m7.7 0h0.8m2.7 0h1.3m8.7 0h0.8m0.2 0h0.8m1.2 0h1.8m2.2 0h1.3m0.2 0h2.8m0.2 0h0.8m0.2 0h1.3m0.7 0h1.8m0.2 0h0.8m1.2 0h0.8m1.2 0h0.8m0.2 0h1.3m3.7 0h0.8m1.7 0h1.3M250.5 422h0.8m1.7 0h0.8m3.2 0h0.8m3.2 0h0.8m2.2 0h0.8m0.2 0h1.3m0.2 0h0.8m0.2 0h0.8m0.7 0h0.8m0.2 0h0.8m0.2 0h1.3m0.7 0h0.8m0.7 0h0.8m0.7 0h0.8m0.2 0h0.8m0.2 0h1.3m0.7 0h3.8m0.2 0h0.8m0.2 0h0.8m0.7 0h0.8m1.2 0h0.8M249 422.5h1.3m6.7 0h1.3m1.7 0h1.8m0.7 0h0.8m0.7 0h0.8m0.2 0h0.8m0.2 0h0.8m0.2 0h1.3m0.2 0h0.8m0.7 0h7.3m0.2 0h1.3m1.2 0h1.3m0.2 0h1.3m0.7 0h0.8m0.2 0h0.8M228 423h0.8m11.2 0h0.8m2.7 0h0.8m2.2 0h0.8m0.7 0h0.8m0.2 0h0.8m3.2 0h1.3m5.2 0h0.8m0.2 0h0.8m0.2 0h0.8m1.2 0h1.3m1.7 0h0.8m0.2 0h0.8m0.2 0h0.8m2.7 0h1.3m0.2 0h2.8m0.7 0h1.3m0.2 0h1.3m0.2 0h0.8m1.2 0h0.8m2.7 0h0.8m2.2 0h0.8m0.2 0h0.8M230 423.5h0.8m10.7 0h0.8m2.7 0h0.8m2.2 0h0.8m2.2 0h1.3m0.7 0h0.8m0.2 0h0.8m1.7 0h0.8m1.7 0h1.8m1.7 0h0.8m0.2 0h0.8m0.2 0h1.3m0.7 0h0.8m0.7 0h3.8m0.2 0h1.3m0.2 0h1.8m0.2 0h2.8m0.7 0h0.8m0.2 0h1.3m0.2 0h2.8m0.2 0h0.8m0.2 0h0.8m0.2 0h0.8m1.7 0h0.8m0.7 0h0.8m3.2 0h0.8M241.5 424h0.8m3.2 0h0.8m11.7 0h0.8m0.2 0h0.8m2.7 0h0.8m0.7 0h0.8m0.2 0h1.3m0.2 0h2.3m0.2 0h0.8m0.2 0h1.8m0.2 0h1.8m1.7 0h0.8m0.2 0h1.3m0.2 0h1.3m0.2 0h1.3m0.2 0h1.3m2.7 0h0.8m2.2 0h1.3m2.7 0h0.8M237 424.5h0.8m10.7 0h0.8m7.2 0h1.3m4.7 0h0.8m0.2 0h0.8m0.2 0h1.3m0.7 0h1.3m0.2 0h0.8m0.2 0h0.8m0.2 0h1.3m0.2 0h0.8m0.2 0h0.8m0.2 0h0.8m0.2 0h2.3m0.7 0h1.3m0.2 0h1.3m0.2 0h2.8m12.2 0h0.8M237.5 425h0.8m0.2 0h0.8m3.7 0h1.3m3.7 0h0.8m4.7 0h0.8m2.2 0h0.8m1.7 0h1.3m1.7 0h1.3m1.7 0h3.3m0.2 0h1.8m0.2 0h2.3m0.2 0h1.8m0.2 0h1.3m0.7 0h0.8m0.2 0h1.3m1.2 0h0.8m0.7 0h1.3M239 425.5h0.8m8.7 0h0.8m1.7 0h0.8m7.2 0h0.8m0.7 0h0.8m1.7 0h1.3m0.2 0h1.3m0.2 0h0.8m0.2 0h1.3m0.7 0h1.3m0.2 0h1.3m0.2 0h1.3m0.2 0h0.8m0.2 0h0.8m0.2 0h1.8m0.2 0h1.3m0.2 0h1.3m0.2 0h0.8m0.7 0h0.8m0.2 0h0.8m0.7 0h0.8M248.5 426h0.8m3.2 0h0.8m1.7 0h0.8m1.7 0h0.8m7.7 0h1.3m0.2 0h3.3m0.2 0h1.3m0.7 0h1.8m0.2 0h1.3m0.2 0h1.8m2.2 0h1.3m0.2 0h1.8m0.2 0h0.8M235.5 426.5h0.8m10.2 0h0.8m8.7 0h0.8m0.7 0h0.8m7.2 0h0.8m0.7 0h4.8m0.2 0h1.8m0.2 0h1.3m0.2 0h0.8m0.7 0h2.3m0.2 0h0.8m0.2 0h0.8m0.2 0h0.8m1.2 0h0.8m2.7 0h0.8m7.2 0h0.8M244 427h0.8m0.7 0h0.8m4.7 0h0.8m10.7 0h0.8m2.2 0h1.3m0.2 0h0.8m0.7 0h1.3m0.2 0h0.8m0.2 0h0.8m0.2 0h1.3m0.2 0h1.8m0.7 0h1.8m0.2 0h0.8m0.2 0h0.8m1.7 0h1.3m1.7 0h0.8m4.2 0h0.8M231 427.5h0.8m2.2 0h0.8m13.2 0h0.8m0.7 0h0.8m10.2 0h0.8m2.2 0h1.8m0.7 0h2.3m1.2 0h1.3m0.2 0h3.8m0.2 0h2.3m0.7 0h0.8m0.2 0h0.8m0.7 0h0.8m0.2 0h0.8m1.2 0h0.8M240.5 428h0.8m11.2 0h0.8m8.2 0h0.8m1.7 0h1.8m0.2 0h0.8m0.2 0h0.8m0.7 0h4.3m1.2 0h0.8m0.2 0h0.8m0.7 0h1.3m0.2 0h0.8m0.2 0h1.3m0.2 0h0.8m0.2 0h1.8m0.7 0h0.8m0.7 0h0.8M240.5 428.5h0.8m3.7 0h0.8m0.7 0h0.8m1.7 0h0.8m14.2 0h0.8m0.7 0h0.8m0.2 0h0.8m0.2 0h1.8m0.2 0h1.8m0.2 0h0.8m0.2 0h2.3m0.2 0h1.3m0.7 0h0.8m0.2 0h0.8m0.2 0h0.8m1.2 0h0.8m0.7 0h0.8M242 429h0.8m4.7 0h0.8m15.7 0h0.8m1.2 0h0.8m1.7 0h6.3m0.2 0h1.8m0.2 0h1.3m0.2 0h0.8m0.7 0h0.8m0.2 0h0.8m0.7 0h0.8M252.5 429.5h0.8m2.2 0h0.8m5.7 0h0.8m0.7 0h0.8m2.7 0h0.8m1.2 0h1.3m0.2 0h0.8m0.7 0h1.3m0.2 0h0.8m0.7 0h1.3m1.2 0h2.3m1.7 0h0.8m2.7 0h0.8m8.2 0h0.8M240 430h0.8m15.7 0h0.8m8.2 0h0.8m0.2 0h0.8m0.7 0h1.3m1.2 0h0.8m0.2 0h2.3m0.2 0h1.3m0.2 0h0.8m0.2 0h2.8m1.7 0h0.8M255.5 430.5h0.8m13.2 0h1.8m0.2 0h5.8m1.2 0h1.8m1.7 0h0.8M265.5 431h0.8m1.7 0h0.8m0.2 0h3.3m0.2 0h2.8m0.2 0h1.3m0.2 0h0.8m1.7 0h0.8M247 431.5h0.8m5.2 0h0.8m2.2 0h0.8m8.7 0h0.8m0.2 0h0.8m0.2 0h0.8m0.2 0h2.3m0.2 0h2.3m1.2 0h1.8m0.2 0h0.8m0.7 0h0.8m0.2 0h0.8M248.5 432h0.8m4.2 0h0.8m12.2 0h0.8m0.2 0h3.3m0.7 0h3.3m0.7 0h0.8m0.2 0h0.8m0.2 0h1.8M242.5 432.5h0.8m6.2 0h0.8m17.7 0h0.8m1.2 0h1.3m0.7 0h1.3m0.2 0h2.3m0.2 0h1.3m1.2 0h0.8M241.5 433h0.8m2.2 0h0.8m21.7 0h1.3m0.7 0h0.8m0.2 0h2.3m0.7 0h0.8m0.2 0h0.8m0.2 0h1.3m0.2 0h0.8m1.7 0h0.8M266.5 433.5h0.8m0.2 0h0.8m0.2 0h1.8m0.2 0h1.3m0.2 0h0.8m0.2 0h3.3m5.2 0h0.8M251 434h0.8m15.7 0h0.8m1.7 0h1.8m0.2 0h0.8m0.2 0h0.8m0.7 0h0.8m0.2 0h1.3M256.5 434.5h0.8m11.2 0h1.8m2.2 0h1.3m0.7 0h1.3m0.7 0h1.3M266.5 435h0.8m2.2 0h1.3m0.7 0h0.8m1.2 0h1.3M269.5 435.5h0.8m0.7 0h0.8m0.7 0h0.8M252 436.5h0.8M246 437.5h0.8M244.5 439h0.8" stroke="#000" stroke-width="0.8" stroke-opacity="0.9" fill="none" filter="url(#b2)"/>
<polygon points="273,347.2 308.2,347.2 308.2,436.9 253.5,436.9 252.2,440.5 264.8,415" fill="none" stroke="#7680ae" stroke-width="1.05" stroke-linejoin="miter"/>
<text x="236.9" y="368" font-size="15" text-anchor="middle" fill="#111" stroke="#111" stroke-width="0.25" textLength="26.3" lengthAdjust="spacingAndGlyphs">96.4</text>
</g>
<g>
<path d="M75 626.8V530.7H171.7V626.8" fill="none" stroke="#b9b9b9" stroke-width="1"/>
<path d="M74.5 626.8H172.2" fill="none" stroke="#555" stroke-width="1"/>
<path d="M75 626.8v-2M82.3 626.8v-1M86.5 626.8v-1M89.6 626.8v-1M91.9 626.8v-1M93.8 626.8v-1M95.4 626.8v-1M96.8 626.8v-1M98.1 626.8v-1M99.2 626.8v-2M106.5 626.8v-1M110.7 626.8v-1M113.7 626.8v-1M116.1 626.8v-1M118 626.8v-1M119.6 626.8v-1M121 626.8v-1M122.2 626.8v-1M123.3 626.8v-2M130.6 626.8v-1M134.9 626.8v-1M137.9 626.8v-1M140.2 626.8v-1M142.2 626.8v-1M143.8 626.8v-1M145.2 626.8v-1M146.4 626.8v-1M147.5 626.8v-2M154.8 626.8v-1M159.1 626.8v-1M162.1 626.8v-1M164.4 626.8v-1M166.3 626.8v-1M168 626.8v-1M169.4 626.8v-1M170.6 626.8v-1M171.7 626.8v-2" stroke="#555" stroke-width="0.6" fill="none"/>
<text x="75.3" y="637" font-size="5.9" text-anchor="middle" font-weight="bold" fill="#1a1a1a">10<tspan dy="-2.9" font-size="4.8">0</tspan></text>
<text x="99.5" y="637" font-size="5.9" text-anchor="middle" font-weight="bold" fill="#1a1a1a">10<tspan dy="-2.9" font-size="4.8">1</tspan></text>
<text x="123.6" y="637" font-size="5.9" text-anchor="middle" font-weight="bold" fill="#1a1a1a">10<tspan dy="-2.9" font-size="4.8">2</tspan></text>
<text x="147.8" y="637" font-size="5.9" text-anchor="middle" font-weight="bold" fill="#1a1a1a">10<tspan dy="-2.9" font-size="4.8">3</tspan></text>
<text x="172" y="637" font-size="5.9" text-anchor="middle" font-weight="bold" fill="#1a1a1a">10<tspan dy="-2.9" font-size="4.8">4</tspan></text>
<path d="M75 608h-2M75 589.2h-2M75 570.3h-2M75 551.5h-2M75 532.7h-2" stroke="#999" stroke-width="0.6" fill="none"/>
<text x="70.9" y="629" font-size="5.9" text-anchor="end" font-weight="bold" fill="#1a1a1a">0</text>
<text x="70.9" y="610.2" font-size="5.9" text-anchor="end" font-weight="bold" fill="#1a1a1a">200</text>
<text x="70.9" y="591.4" font-size="5.9" text-anchor="end" font-weight="bold" fill="#1a1a1a">400</text>
<text x="70.9" y="572.5" font-size="5.9" text-anchor="end" font-weight="bold" fill="#1a1a1a">600</text>
<text x="70.9" y="553.7" font-size="5.9" text-anchor="end" font-weight="bold" fill="#1a1a1a">800</text>
<text x="70.9" y="534.9" font-size="5.9" text-anchor="end" font-weight="bold" fill="#1a1a1a">1000</text>
<text x="123.3" y="643.3" font-size="5.7" text-anchor="middle" font-weight="bold" fill="#222">Aldefluor</text>
<text transform="translate(56.4 578.8) rotate(-90)" font-size="6.1" text-anchor="middle" font-weight="bold" fill="#222">Side scatter</text>
<path d="M126 531.5h1.3m0.2 0h0.8M123.5 532h2.8m0.2 0h0.8M122.5 532.5h0.8m1.2 0h1.3m0.2 0h0.8m0.2 0h1.3M123 533h0.8m0.7 0h3.8m1.2 0h0.8M124 533.5h0.8m1.2 0h1.8m0.2 0h1.3M123.5 534h1.8m0.2 0h2.3M122.5 534.5h0.8m0.2 0h4.8M122 535h0.8m1.7 0h2.8M123 535.5h3.8M121.5 536h1.3m0.2 0h2.3m0.2 0h1.8M122.5 536.5h0.8m0.2 0h3.3M121 537h0.8m1.2 0h3.8M121.5 537.5h0.8m0.7 0h1.3m1.2 0h1.3m1.2 0h0.8M123.5 538h4.8m0.2 0h0.8M122.5 538.5h3.3m0.2 0h0.8m2.2 0h0.8M124.5 539h2.3m0.7 0h0.8M123 539.5h2.8M122 540h3.8m0.2 0h2.3M122 540.5h1.3m0.7 0h1.3m0.2 0h0.8m0.7 0h0.8M122 541h5.3M122.5 541.5h0.8m0.2 0h2.8M122.5 542h2.8m0.2 0h0.8M122.5 542.5h1.3m0.2 0h2.8m1.2 0h0.8M123 543h3.8M123 543.5h0.8m0.7 0h1.8m1.2 0h0.8M122.5 544h3.3m0.2 0h0.8M122 544.5h3.3m1.2 0h0.8M121.5 545h1.3m0.7 0h0.8m0.7 0h1.3M121 545.5h0.8m0.7 0h3.8M120.5 546h0.8m0.7 0h1.8m0.2 0h2.8M119 546.5h0.8m0.7 0h0.8m0.7 0h4.3M120.5 547h1.3m0.2 0h3.8m0.2 0h0.8m0.2 0h0.8M103.5 547.5h0.8m16.2 0h3.8m0.2 0h1.8m0.2 0h0.8M119.5 548h0.8m0.2 0h5.3m0.2 0h1.3M121 548.5h4.8M120 549h0.8m0.2 0h5.3M121.5 549.5h0.8m0.2 0h2.8m0.2 0h0.8m1.2 0h0.8M119 550h0.8m0.2 0h0.8m0.2 0h0.8m0.2 0h4.3M120.5 550.5h3.8m0.2 0h0.8M118 551h0.8m0.7 0h0.8m0.7 0h0.8m0.2 0h1.3m0.7 0h1.8m0.2 0h0.8M119.5 551.5h0.8m1.2 0h4.8M118.5 552h1.3m1.2 0h1.3m0.2 0h2.8M120 552.5h0.8m0.7 0h3.8m0.7 0h0.8M120 553h0.8m0.2 0h1.8m0.2 0h3.8M119.5 553.5h2.3m0.2 0h3.3m0.2 0h0.8M120 554h3.8m0.7 0h1.8M120.5 554.5h4.8M120 555h0.8m0.7 0h3.8M118.5 555.5h1.3m0.2 0h0.8m0.2 0h0.8m0.2 0h1.3m0.2 0h1.8m4.7 0h0.8M119 556h0.8m0.7 0h2.3m0.2 0h1.8m1.7 0h0.8M117.5 556.5h0.8m2.2 0h0.8m0.2 0h4.3M118 557h0.8m0.2 0h0.8m0.2 0h0.8m0.2 0h1.8m0.2 0h1.8m0.7 0h0.8M119.5 557.5h1.3m0.2 0h2.8m0.2 0h0.8M118.5 558h1.3m0.2 0h5.3m0.2 0h0.8M120 558.5h3.8m0.2 0h1.3m0.7 0h0.8M118 559h0.8m1.7 0h2.3m0.7 0h1.8m0.2 0h1.3M119.5 559.5h4.8M118.5 560h0.8m0.2 0h0.8m0.2 0h5.3M118.5 560.5h0.8m0.2 0h5.3m0.2 0h0.8M115.5 561h0.8m2.7 0h0.8m0.2 0h3.3m0.2 0h2.3M118.5 561.5h0.8m0.7 0h0.8m0.2 0h2.8m0.2 0h0.8M117 562h0.8m0.2 0h4.8m0.2 0h1.3m0.7 0h0.8M117.5 562.5h1.3m0.2 0h5.3M116.5 563h0.8m0.2 0h0.8m1.2 0h4.3m0.7 0h1.8M118 563.5h0.8m0.7 0h4.8M118 564h1.3m0.2 0h4.3m0.2 0h1.3m3.7 0h0.8M116 564.5h0.8m1.7 0h5.3m0.2 0h1.3M118.5 565h4.8m0.2 0h1.3M115.5 565.5h0.8m0.2 0h1.8m0.2 0h2.3m0.2 0h2.8m0.7 0h1.3M117 566h1.3m0.7 0h3.3m0.2 0h2.3M117.5 566.5h2.3m0.2 0h3.3m1.2 0h0.8M118.5 567h3.8m0.2 0h1.3M117 567.5h0.8m1.2 0h4.8M118.5 568h4.3m0.7 0h0.8M117.5 568.5h0.8m0.2 0h4.3m0.2 0h0.8m0.7 0h0.8M118.5 569h3.8m0.2 0h0.8m0.2 0h0.8M117.5 569.5h0.8m0.2 0h5.3m0.2 0h0.8m1.7 0h0.8M116.5 570h0.8m0.2 0h1.3m0.2 0h1.8m0.2 0h2.8M115 570.5h0.8m1.7 0h0.8m0.2 0h3.8m0.2 0h1.3m0.2 0h0.8m0.2 0h0.8M119 571h0.8m0.2 0h4.3m0.2 0h0.8M117 571.5h0.8m0.2 0h6.3M115.5 572h0.8m1.2 0h1.8m0.2 0h1.8m0.2 0h2.8m1.2 0h0.8M114.5 572.5h0.8m2.7 0h4.8m0.2 0h1.3M116.5 573h1.3m0.2 0h5.8M116 573.5h0.8m0.2 0h1.3m0.2 0h3.8m0.7 0h0.8M116 574h0.8m0.2 0h2.3m0.2 0h4.3m0.7 0h0.8M117 574.5h5.8m0.7 0h1.3M112 575h0.8m4.2 0h3.3m0.2 0h3.3m0.7 0h0.8M117 575.5h6.8M116 576h1.8m0.2 0h4.3m0.2 0h0.8M113.5 576.5h0.8m2.2 0h6.3m0.7 0h0.8m0.7 0h0.8M115.5 577h0.8m1.2 0h5.3m0.2 0h0.8m0.7 0h0.8M116.5 577.5h1.8m0.2 0h4.3m0.2 0h0.8M117 578h5.8m16.7 0h0.8M116 578.5h6.3m0.7 0h0.8M114 579h1.3m0.7 0h8.3M112.5 579.5h0.8m0.2 0h0.8m2.2 0h6.3m1.2 0h0.8m1.7 0h0.8M117.5 580h4.8m0.2 0h0.8m0.2 0h0.8M115 580.5h0.8m0.7 0h5.8m0.2 0h0.8M116.5 581h5.8M115 581.5h0.8m0.7 0h5.3m0.2 0h0.8m1.7 0h0.8M115 582h8.3M115 582.5h3.3m0.2 0h4.3m0.2 0h0.8M112 583h1.8m0.2 0h0.8m0.2 0h4.3m0.2 0h2.8M113 583.5h1.3m0.7 0h7.8M115.5 584h6.8m0.7 0h0.8m0.2 0h1.3M112.5 584.5h0.8m0.7 0h7.8m0.2 0h0.8M114 585h1.8m0.2 0h0.8m0.2 0h4.8m13.2 0h0.8M115 585.5h6.8m0.2 0h0.8M114 586h2.8m0.2 0h3.3m0.2 0h1.8M113 586.5h0.8m0.7 0h0.8m0.7 0h3.8m0.2 0h1.3M114.5 587h0.8m0.2 0h1.8m0.2 0h4.3m0.7 0h1.3m0.2 0h0.8M113.5 587.5h0.8m0.7 0h1.3m0.2 0h5.3m0.2 0h0.8M114 588h6.8m0.2 0h0.8m0.2 0h0.8m0.2 0h0.8M114.5 588.5h7.3M111.5 589h0.8m0.7 0h0.8m0.7 0h5.8m0.2 0h1.8m0.2 0h0.8M113 589.5h9.3m5.2 0h0.8M112.5 590h0.8m0.2 0h7.3m0.2 0h0.8M112.5 590.5h8.3m0.7 0h0.8M111.5 591h1.3m0.7 0h1.3m0.2 0h0.8m0.2 0h1.8m0.2 0h3.8M113.5 591.5h6.8m0.7 0h0.8m1.2 0h0.8M113 592h2.3m0.2 0h2.3m0.2 0h1.3m0.2 0h0.8m0.2 0h0.8m1.2 0h0.8M110 592.5h0.8m0.7 0h2.3m0.2 0h4.8m0.2 0h0.8m0.7 0h0.8m0.2 0h0.8M111.5 593h0.8m0.7 0h7.3m0.2 0h0.8M109.5 593.5h0.8m2.7 0h0.8m0.2 0h6.3m0.2 0h0.8m0.2 0h0.8m0.2 0h0.8M112 594h0.8m0.2 0h4.8m0.2 0h1.3m0.2 0h0.8m0.2 0h0.8M100.5 594.5h0.8m8.7 0h0.8m2.2 0h7.3m0.2 0h0.8m1.2 0h0.8M112 595h0.8m0.2 0h1.3m0.2 0h4.3m0.2 0h0.8m1.2 0h0.8M109.5 595.5h1.8m0.7 0h5.8m0.2 0h1.3m0.2 0h1.3M107 596h0.8m4.2 0h0.8m0.2 0h6.3m2.7 0h0.8M109.5 596.5h0.8m1.7 0h6.3m0.2 0h0.8m0.2 0h0.8m0.7 0h0.8M110 597h8.8m1.2 0h0.8m0.7 0h0.8M108 597.5h0.8m0.2 0h0.8m0.7 0h1.3m0.2 0h7.8M111 598h5.8m0.2 0h1.8m0.2 0h1.3M110 598.5h2.8m0.2 0h6.3m5.7 0h0.8M110.5 599h7.8m0.2 0h0.8M109.5 599.5h0.8m0.2 0h5.3m0.2 0h0.8m0.7 0h0.8M107.5 600h0.8m0.2 0h1.8m0.7 0h6.3m0.2 0h0.8m0.2 0h0.8M109.5 600.5h1.3m0.2 0h6.3m0.2 0h1.3M107.5 601h1.3m2.2 0h4.8m0.2 0h2.8M106 601.5h0.8m0.7 0h0.8m1.7 0h3.8m0.2 0h3.3m1.2 0h0.8m0.2 0h0.8M106.5 602h0.8m3.7 0h6.3m0.2 0h0.8m2.7 0h0.8M107 602.5h0.8m0.2 0h0.8m0.2 0h8.8m0.2 0h1.3M109 603h0.8m0.2 0h0.8m0.2 0h5.3m0.2 0h1.8M107.5 603.5h0.8m1.7 0h6.3m0.2 0h1.3M107.5 604h0.8m0.2 0h8.3m0.2 0h0.8M107 604.5h0.8m0.7 0h2.3m0.2 0h4.8m0.7 0h1.3M106.5 605h0.8m0.2 0h0.8m0.2 0h1.3m0.2 0h4.8m0.2 0h0.8m0.2 0h0.8m0.2 0h0.8M106.5 605.5h0.8m1.2 0h0.8m0.7 0h5.3m0.2 0h0.8m2.7 0h0.8M108 606h0.8m0.2 0h0.8m0.2 0h5.3m0.7 0h1.8M106.5 606.5h0.8m0.2 0h1.3m0.2 0h5.8m0.7 0h0.8M107 607h1.3m0.7 0h0.8m0.2 0h4.8m1.7 0h1.3M108 607.5h1.3m0.2 0h6.3M107 608h1.8m0.7 0h5.3m0.7 0h0.8m0.2 0h0.8m1.7 0h0.8M107.5 608.5h0.8m0.7 0h4.8m0.2 0h2.3M108 609h5.3m0.2 0h0.8m1.2 0h1.3M108 609.5h1.8m0.2 0h3.3m0.2 0h2.3M107.5 610h3.8m0.2 0h2.3m0.7 0h0.8M104.5 610.5h0.8m1.7 0h2.3m0.2 0h3.8m0.2 0h1.8M106.5 611h7.3M105 611.5h0.8m0.2 0h0.8m0.2 0h4.3m0.2 0h1.3m0.2 0h0.8m1.2 0h0.8M106 612h1.3m0.2 0h0.8m0.2 0h2.3m0.2 0h1.3m1.2 0h0.8M98.5 612.5h0.8m4.2 0h1.3m1.2 0h1.3m0.2 0h1.3m0.2 0h2.3m0.2 0h0.8M105 613h0.8m0.2 0h1.8m0.2 0h2.8M103 613.5h0.8m0.2 0h1.8m0.7 0h3.8m0.2 0h1.8M102 614h0.8m0.2 0h0.8m1.2 0h1.8m0.2 0h2.3m0.2 0h1.3m27.7 0h0.8M104 614.5h3.3m0.2 0h1.3m1.7 0h0.8M102 615h0.8m1.2 0h1.3m0.2 0h4.3M102.5 615.5h0.8m1.2 0h2.3m0.2 0h0.8m0.2 0h0.8m0.2 0h0.8M103.5 616h4.3m0.7 0h1.3M103.5 616.5h2.8m0.2 0h1.3m0.7 0h0.8M98 617h0.8m0.7 0h0.8m1.7 0h2.8m0.2 0h0.8m0.2 0h0.8M99.5 617.5h0.8m0.2 0h0.8m0.7 0h1.8m0.2 0h0.8m0.2 0h1.8m0.2 0h0.8m0.2 0h0.8M100.5 618h0.8m1.2 0h1.8m0.2 0h0.8m0.2 0h0.8M101.5 618.5h0.8m0.2 0h2.3m0.2 0h0.8M100.5 619h2.8M100 619.5h0.8m0.7 0h1.8m0.7 0h0.8M103.5 620h0.8" stroke="#000" stroke-width="0.8" fill="none" filter="url(#b2)"/>
<polygon points="132.3,535.4 162.8,535.4 162.8,617.2 113.4,617.2 124.2,601.6" fill="none" stroke="#7680ae" stroke-width="1.05" stroke-linejoin="miter"/>
<text x="146.9" y="558.5" font-size="15" text-anchor="middle" fill="#111" stroke="#111" stroke-width="0.25" textLength="26.3" lengthAdjust="spacingAndGlyphs">0.14</text>
</g>
<g>
<path d="M215.9 626.9V530.9H312.4V626.9" fill="none" stroke="#b9b9b9" stroke-width="1"/>
<path d="M215.4 626.9H312.9" fill="none" stroke="#555" stroke-width="1"/>
<path d="M215.9 626.9v-2M223.2 626.9v-1M227.4 626.9v-1M230.4 626.9v-1M232.8 626.9v-1M234.7 626.9v-1M236.3 626.9v-1M237.7 626.9v-1M238.9 626.9v-1M240 626.9v-2M247.3 626.9v-1M251.5 626.9v-1M254.5 626.9v-1M256.9 626.9v-1M258.8 626.9v-1M260.4 626.9v-1M261.8 626.9v-1M263 626.9v-1M264.1 626.9v-2M271.4 626.9v-1M275.7 626.9v-1M278.7 626.9v-1M281 626.9v-1M282.9 626.9v-1M284.5 626.9v-1M285.9 626.9v-1M287.2 626.9v-1M288.3 626.9v-2M295.5 626.9v-1M299.8 626.9v-1M302.8 626.9v-1M305.1 626.9v-1M307 626.9v-1M308.7 626.9v-1M310.1 626.9v-1M311.3 626.9v-1M312.4 626.9v-2" stroke="#555" stroke-width="0.6" fill="none"/>
<text x="216.2" y="637.6" font-size="5.9" text-anchor="middle" font-weight="bold" fill="#111">10<tspan dy="-3.1" font-size="4.9">0</tspan></text>
<text x="240.3" y="637.6" font-size="5.9" text-anchor="middle" font-weight="bold" fill="#111">10<tspan dy="-3.1" font-size="4.9">1</tspan></text>
<text x="264.4" y="637.6" font-size="5.9" text-anchor="middle" font-weight="bold" fill="#111">10<tspan dy="-3.1" font-size="4.9">2</tspan></text>
<text x="288.6" y="637.6" font-size="5.9" text-anchor="middle" font-weight="bold" fill="#111">10<tspan dy="-3.1" font-size="4.9">3</tspan></text>
<text x="312.7" y="637.6" font-size="5.9" text-anchor="middle" font-weight="bold" fill="#111">10<tspan dy="-3.1" font-size="4.9">4</tspan></text>
<path d="M215.9 608.1h-2M215.9 589.3h-2M215.9 570.4h-2M215.9 551.6h-2M215.9 532.8h-2" stroke="#999" stroke-width="0.6" fill="none"/>
<text x="211.8" y="629.1" font-size="5.9" text-anchor="end" font-weight="bold" fill="#111">0</text>
<text x="211.8" y="610.3" font-size="5.9" text-anchor="end" font-weight="bold" fill="#111">200</text>
<text x="211.8" y="591.5" font-size="5.9" text-anchor="end" font-weight="bold" fill="#111">400</text>
<text x="211.8" y="572.6" font-size="5.9" text-anchor="end" font-weight="bold" fill="#111">600</text>
<text x="211.8" y="553.8" font-size="5.9" text-anchor="end" font-weight="bold" fill="#111">800</text>
<text x="211.8" y="535" font-size="5.9" text-anchor="end" font-weight="bold" fill="#111">1000</text>
<text x="263.6" y="643.4" font-size="5.8" text-anchor="middle" font-weight="bold" fill="#222">Aldefluor</text>
<text transform="translate(196.3 578.9) rotate(-90)" font-size="6.1" text-anchor="middle" font-weight="bold" fill="#222">Side scatter</text>
<path d="M268 531.5h0.8M268 532h0.8m0.2 0h1.3m0.7 0h0.8M267.5 532.5h3.8M267.5 533h1.8m0.7 0h0.8m0.2 0h0.8M265.5 533.5h1.3m0.7 0h1.8m0.2 0h1.3M269 534h2.3M267.5 534.5h0.8m0.2 0h1.3m1.2 0h1.3M266.5 535h1.3m0.2 0h0.8m0.7 0h0.8m0.7 0h0.8M266 535.5h1.3m0.7 0h1.3M265.5 536h1.3m0.2 0h0.8m0.7 0h1.8M266 536.5h0.8m0.2 0h3.8M263 537h0.8m1.7 0h0.8m0.7 0h3.3M266.5 537.5h3.3M265.5 538h1.3m1.2 0h2.3m0.2 0h1.3M266 538.5h0.8m0.2 0h3.3m0.2 0h0.8M266.5 539h0.8m0.2 0h0.8m0.2 0h1.8M266.5 539.5h3.8M264 540h0.8m0.7 0h2.8m0.2 0h2.8M265.5 540.5h2.3m0.2 0h1.3m0.2 0h0.8M266 541h1.8m0.2 0h2.8M266 541.5h2.8M264.5 542h0.8m0.2 0h4.8M266 542.5h0.8m0.7 0h1.8m0.7 0h0.8M265 543h1.8m0.2 0h2.8M266 543.5h3.3m0.7 0h0.8M263.5 544h0.8m0.2 0h4.8M265 544.5h0.8m0.2 0h2.8m0.2 0h0.8M263.5 545h0.8m0.7 0h4.8m3.2 0h0.8M265 545.5h4.3M264 546h0.8m0.7 0h2.8m0.2 0h0.8M264 546.5h0.8m0.7 0h3.8m0.7 0h0.8M262.5 547h0.8m0.7 0h0.8m0.2 0h2.3m0.2 0h1.8M264 547.5h0.8m0.2 0h0.8m0.2 0h2.3M263 548h0.8m0.2 0h0.8m0.2 0h1.3m0.2 0h2.3m0.7 0h0.8M265 548.5h3.8m0.2 0h0.8M263.5 549h0.8m0.7 0h1.3m0.2 0h0.8m0.2 0h1.3M263.5 549.5h5.8M264 550h4.3m0.2 0h0.8M263.5 550.5h2.3m0.2 0h2.3m0.2 0h0.8M263.5 551h4.3m0.7 0h0.8m0.2 0h0.8M263 551.5h2.3m0.2 0h1.8m2.7 0h0.8M262.5 552h0.8m0.2 0h4.3M263.5 552.5h5.8M263 553h0.8m0.7 0h2.8m0.7 0h0.8M263 553.5h5.3M262.5 554h1.8m0.2 0h4.3M261.5 554.5h0.8m1.2 0h3.8m0.2 0h1.3m0.2 0h0.8M262.5 555h4.3m0.7 0h0.8M263 555.5h4.3m0.2 0h0.8M261.5 556h0.8m0.2 0h0.8m0.2 0h1.8m0.2 0h1.8M261.5 556.5h0.8m0.2 0h3.8m0.2 0h0.8M262.5 557h5.8M263 557.5h3.8m0.2 0h0.8M261.5 558h0.8m0.7 0h3.3m0.2 0h0.8M262.5 558.5h2.3m0.2 0h1.8m0.2 0h0.8m0.2 0h1.8M261.5 559h1.3m0.2 0h3.8m0.2 0h0.8m1.7 0h0.8m0.7 0h0.8M262.5 559.5h4.3M254 560h0.8m7.7 0h3.3m0.2 0h1.3m0.7 0h0.8M262.5 560.5h5.8M261.5 561h2.3m0.2 0h2.3m1.2 0h0.8m0.7 0h0.8M261.5 561.5h0.8m0.7 0h3.3m0.2 0h0.8M258 562h0.8m2.2 0h4.8m0.2 0h0.8M261 562.5h4.8m0.2 0h0.8M260 563h1.8m0.2 0h4.8m0.2 0h0.8M260.5 563.5h5.8M261.5 564h0.8m0.2 0h3.3m0.2 0h1.8M260.5 564.5h5.3m0.2 0h0.8M260 565h0.8m0.7 0h5.3M260 565.5h0.8m0.2 0h5.8M259 566h0.8m0.2 0h0.8m0.7 0h4.3m1.7 0h0.8M260.5 566.5h5.3M261 567h5.3M260.5 567.5h5.3m1.2 0h0.8M259 568h0.8m0.7 0h0.8m0.2 0h4.3M259 568.5h0.8m0.7 0h3.8m0.2 0h0.8m0.2 0h0.8m3.2 0h0.8M258 569h0.8m1.2 0h5.8M258.5 569.5h0.8m0.2 0h7.3M259.5 570h1.8m0.2 0h4.3m0.7 0h0.8M259 570.5h0.8m0.2 0h0.8m0.2 0h1.3m0.2 0h3.3M259 571h1.3m0.2 0h5.8M259 571.5h0.8m0.2 0h4.8M259 572h6.8m2.7 0h0.8M260 572.5h5.3m1.7 0h0.8M258.5 573h6.3m0.2 0h0.8M258 573.5h1.8m0.2 0h4.8m0.7 0h0.8M258 574h0.8m0.7 0h4.3m2.2 0h0.8M258.5 574.5h5.8m0.7 0h0.8M257.5 575h0.8m0.7 0h6.3M257.5 575.5h1.3m0.2 0h3.8m2.2 0h0.8M258.5 576h0.8m0.2 0h4.8M256.5 576.5h0.8m0.2 0h1.3m0.2 0h2.3m0.2 0h2.8m0.2 0h0.8M257 577h5.3m0.2 0h1.3M255 577.5h0.8m2.2 0h5.3m0.2 0h0.8M256 578h0.8m0.7 0h5.8M255.5 578.5h1.3m0.2 0h6.8M254.5 579h0.8m2.2 0h4.8m1.2 0h0.8M256 579.5h0.8m0.2 0h1.3m0.2 0h3.8m0.2 0h0.8M255 580h0.8m1.7 0h5.3m0.2 0h0.8M251 580.5h0.8m5.2 0h0.8m0.2 0h3.8m0.2 0h0.8m1.7 0h0.8M253.5 581h0.8m1.2 0h0.8m0.2 0h5.3m0.2 0h1.8M257 581.5h5.8M255.5 582h1.3m0.2 0h4.3m0.2 0h0.8m0.2 0h0.8M253.5 582.5h0.8m2.2 0h6.8m1.2 0h0.8M254 583h0.8m1.7 0h0.8m0.2 0h3.3m0.2 0h1.8M255 583.5h0.8m0.2 0h1.3m0.2 0h4.8m0.7 0h0.8M255 584h7.3M249.5 584.5h0.8m1.2 0h0.8m3.7 0h1.3m0.2 0h3.8m0.2 0h0.8M256 585h6.3M254 585.5h2.3m0.7 0h4.3m3.7 0h0.8M253.5 586h0.8m0.2 0h6.3m0.2 0h0.8m0.7 0h0.8M253 586.5h0.8m0.2 0h0.8m0.7 0h6.3M253.5 587h0.8m0.2 0h7.3M243 587.5h0.8m7.2 0h0.8m2.2 0h0.8m1.2 0h5.3M254 588h0.8m0.2 0h5.3m0.2 0h1.3m0.2 0h0.8m0.2 0h0.8m4.2 0h0.8M247 588.5h0.8m6.2 0h0.8m0.2 0h4.8m0.2 0h1.8M253.5 589h2.8m0.2 0h4.3m0.2 0h0.8M254 589.5h1.3m0.2 0h5.8M253 590h0.8m0.2 0h2.3m1.2 0h2.3m0.2 0h1.3m2.2 0h0.8M254.5 590.5h4.8m0.7 0h0.8m0.7 0h0.8M241.5 591h0.8m11.7 0h0.8m0.2 0h6.8m0.7 0h0.8M247 591.5h0.8m3.7 0h0.8m0.7 0h0.8m0.2 0h6.3m0.7 0h0.8M252.5 592h0.8m0.2 0h6.3m0.2 0h0.8M252 592.5h6.8m0.2 0h2.3m0.2 0h0.8m1.7 0h0.8M252 593h1.3m0.2 0h5.3m0.7 0h0.8m0.2 0h1.3m0.2 0h0.8M251 593.5h0.8m0.2 0h0.8m0.2 0h7.8m0.7 0h0.8M252.5 594h3.3m0.2 0h4.8M251.5 594.5h0.8m0.2 0h0.8m0.2 0h5.8m0.7 0h0.8M253.5 595h5.3m0.7 0h1.3m0.2 0h0.8m0.2 0h0.8M249 595.5h0.8m0.7 0h0.8m1.2 0h0.8m0.2 0h5.8m0.2 0h1.3M246 596h0.8m4.2 0h0.8m0.2 0h0.8m0.2 0h5.8m1.2 0h0.8M240.5 596.5h0.8m11.2 0h5.8m0.7 0h1.3M241.5 597h1.3m6.2 0h0.8m2.2 0h0.8m0.2 0h6.3m0.2 0h0.8m0.2 0h0.8M250.5 597.5h0.8m0.7 0h0.8m0.2 0h4.3m0.2 0h0.8m0.2 0h1.3M250 598h0.8m0.2 0h0.8m0.7 0h6.8M253 598.5h4.8m1.2 0h0.8m0.2 0h0.8m0.2 0h0.8M247 599h0.8m2.7 0h1.3m0.2 0h5.3m0.2 0h1.3M246 599.5h0.8m4.2 0h6.8m0.2 0h2.3M232 600h0.8m16.7 0h1.8m1.2 0h1.3m0.2 0h3.8m1.7 0h0.8m0.2 0h0.8M250.5 600.5h0.8m0.2 0h3.8m0.2 0h3.3m1.2 0h0.8M250.5 601h0.8m1.7 0h4.8m0.2 0h0.8M248.5 601.5h0.8m1.2 0h0.8m0.2 0h7.3M243.5 602h0.8m3.7 0h0.8m1.7 0h6.8m0.2 0h1.8M251 602.5h4.8m0.2 0h0.8m0.2 0h0.8m0.2 0h0.8m0.2 0h1.3M244 603h0.8m3.2 0h0.8m0.7 0h0.8m0.2 0h6.3m0.2 0h0.8m1.2 0h0.8M244.5 603.5h0.8m4.7 0h7.3m0.2 0h0.8m0.2 0h0.8M247 604h0.8m2.2 0h0.8m0.2 0h5.8M248.5 604.5h0.8m0.2 0h8.3M250 605h0.8m0.2 0h4.3m0.2 0h1.3m0.2 0h0.8M248.5 605.5h0.8m0.7 0h3.8m0.2 0h2.3M247 606h0.8m1.7 0h2.3m0.2 0h5.3M247 606.5h0.8m1.2 0h5.3m1.2 0h1.3M247 607h0.8m0.2 0h0.8m0.2 0h6.8m0.7 0h0.8M248 607.5h0.8m0.7 0h5.8m0.2 0h0.8M235.5 608h0.8m3.7 0h0.8m7.7 0h2.8m0.2 0h4.3m1.2 0h0.8M247.5 608.5h7.3m0.2 0h0.8m0.7 0h0.8M246 609h0.8m0.7 0h0.8m0.2 0h5.8M244.5 609.5h0.8m0.7 0h0.8m0.2 0h0.8m0.2 0h0.8m0.2 0h4.8m0.2 0h0.8M246.5 610h0.8m0.2 0h6.3m0.2 0h0.8M246.5 610.5h0.8m0.2 0h0.8m0.2 0h4.8M241 611h0.8m5.2 0h6.3m2.2 0h0.8M245.5 611.5h0.8m0.2 0h1.8m0.2 0h3.8m0.2 0h1.8M246.5 612h0.8m0.2 0h5.3M245.5 612.5h1.3m0.2 0h5.3M247 613h0.8m0.2 0h5.3M246 613.5h2.3m0.2 0h1.3m0.2 0h1.8m1.2 0h0.8M245.5 614h0.8m0.2 0h0.8m0.2 0h0.8m0.2 0h2.3M245 614.5h0.8m1.2 0h3.3m0.2 0h1.3M244.5 615h1.8m0.2 0h3.3m0.2 0h0.8M237 615.5h0.8m3.7 0h0.8m3.2 0h4.3m0.7 0h0.8M242.5 616h0.8m1.2 0h0.8m0.2 0h1.8m0.2 0h0.8m0.2 0h0.8m0.2 0h0.8M245 616.5h2.8m0.2 0h1.3M244.5 617h3.8M243.5 617.5h2.8m0.2 0h0.8M243.5 618h1.3m0.7 0h0.8m0.2 0h0.8M242 618.5h0.8m1.7 0h2.3M242.5 619h0.8m0.2 0h1.3M241.5 620h0.8M243 620.5h0.8M247.5 622h0.8" stroke="#000" stroke-width="0.8" fill="none" filter="url(#b2)"/>
<path d="M281.5 543.5h0.8M278 552.5h0.8M285.5 556.5h0.8M275 559.5h0.8M265 560h0.8M275.5 560.5h0.8M281.5 561h0.8M274.5 561.5h0.8m3.2 0h0.8M280.5 562h0.8M280.5 562.5h0.8M269 563h0.8M274.5 563.5h0.8M288.5 566.5h0.8M279.5 567h0.8m2.7 0h0.8M277.5 567.5h0.8M269 569h0.8M277.5 569.5h0.8m5.7 0h0.8M277 570h0.8M235.5 571.5h0.8m5.7 0h0.8m32.7 0h0.8m4.2 0h0.8m3.2 0h0.8M276 572h0.8m1.2 0h1.3m1.7 0h0.8m4.2 0h0.8M267 572.5h0.8M264 573h0.8m7.2 0h0.8M291 573.5h0.8M278.5 574.5h0.8M278 575h0.8m2.7 0h0.8M239 575.5h0.8m32.7 0h0.8m7.7 0h0.8m5.7 0h0.8M274 576h0.8M279.5 576.5h0.8m3.2 0h1.3M273 577h0.8m0.7 0h0.8m6.7 0h0.8M269 577.5h0.8m2.7 0h0.8m1.2 0h0.8m7.2 0h0.8m5.7 0h0.8M279 578h0.8M281.5 578.5h0.8m1.7 0h0.8m4.2 0h0.8M270.5 579.5h0.8m5.2 0h0.8M281 580.5h0.8m14.2 0h0.8M233.5 581h0.8M284.5 581.5h0.8m1.7 0h0.8M272 582h0.8M283 582.5h0.8m1.2 0h0.8M270.5 583h0.8m7.7 0h0.8M271.5 583.5h0.8m11.2 0h0.8m0.2 0h0.8M283 584h0.8M274 584.5h0.8M276.5 585h0.8m2.2 0h0.8m1.7 0h0.8M282 585.5h0.8m0.2 0h0.8M274 586h0.8M274.5 586.5h0.8M272 587.5h0.8M270 588h0.8m7.7 0h0.8m3.2 0h0.8M267.5 588.5h0.8M268.5 589h0.8m13.7 0h0.8M275.5 590h0.8m1.7 0h0.8M278 590.5h0.8M271 591h0.8m3.7 0h0.8m7.2 0h0.8m0.2 0h0.8M273 591.5h0.8m0.7 0h0.8m8.2 0h0.8m1.2 0h0.8M282 592h0.8M282 592.5h0.8m2.7 0h0.8M279 593h0.8m9.7 0h0.8M242.5 593.5h0.8M285 594h0.8M281.5 594.5h0.8M265.5 595h0.8m6.7 0h0.8M270.5 596.5h0.8m0.7 0h0.8m4.7 0h0.8m1.7 0h0.8m0.7 0h0.8M274 597.5h0.8M272.5 598h0.8m2.2 0h0.8M284.5 599.5h0.8M253.5 601h0.8m24.7 0h0.8M286 601.5h0.8M277 602.5h0.8M277 603.5h0.8M271.5 604h0.8m9.2 0h0.8M273 604.5h0.8M272 605h0.8M272 607h0.8M284 607.5h0.8M279.5 609h0.8" stroke="#000" stroke-width="0.8" stroke-opacity="0.7" fill="none" filter="url(#b2)"/>
<polygon points="229.9,535.4 270.8,535.4 261.8,598.3 249.5,617.4 229.9,617.4" fill="none" stroke="#3347a3" stroke-width="1.4" stroke-linejoin="miter"/>
<polygon points="274,535.4 304.1,535.4 304.1,617.8 254.4,617.8 265.5,601.6" fill="none" stroke="#3347a3" stroke-width="1.4" stroke-linejoin="miter"/>
<text x="245" y="558.4" font-size="15" text-anchor="middle" fill="#111" stroke="#111" stroke-width="0.25" textLength="26.3" lengthAdjust="spacingAndGlyphs">95.6</text>
<text x="287.1" y="558.4" font-size="15" text-anchor="middle" fill="#111" stroke="#111" stroke-width="0.25" textLength="26.3" lengthAdjust="spacingAndGlyphs">2.48</text>
</g>
<path d="M288.8 535V508.5H343" fill="none" stroke="#3347a3" stroke-width="1.4"/>
<path d="M347.3 508.5L341.8 506V511Z" fill="#3347a3"/>
<path d="M240 617V660.6H342" fill="none" stroke="#3347a3" stroke-width="1.4"/>
<path d="M346.3 660.6L340.8 658.1V663.1Z" fill="#3347a3"/>
<g>
<path d="M373.5 563.2V466.7H470.1V563.2" fill="none" stroke="#b9b9b9" stroke-width="1"/>
<path d="M373 563.2H470.6" fill="none" stroke="#555" stroke-width="1"/>
<path d="M373.5 563.2v-2M380.8 563.2v-1M385 563.2v-1M388 563.2v-1M390.4 563.2v-1M392.3 563.2v-1M393.9 563.2v-1M395.3 563.2v-1M396.5 563.2v-1M397.6 563.2v-2M404.9 563.2v-1M409.2 563.2v-1M412.2 563.2v-1M414.5 563.2v-1M416.4 563.2v-1M418.1 563.2v-1M419.5 563.2v-1M420.7 563.2v-1M421.8 563.2v-2M429.1 563.2v-1M433.3 563.2v-1M436.3 563.2v-1M438.7 563.2v-1M440.6 563.2v-1M442.2 563.2v-1M443.6 563.2v-1M444.8 563.2v-1M446 563.2v-2M453.2 563.2v-1M457.5 563.2v-1M460.5 563.2v-1M462.8 563.2v-1M464.7 563.2v-1M466.4 563.2v-1M467.8 563.2v-1M469 563.2v-1M470.1 563.2v-2" stroke="#555" stroke-width="0.6" fill="none"/>
<text x="373.8" y="573.4" font-size="5.9" text-anchor="middle" font-weight="bold" fill="#1a1a1a">10<tspan dy="-2.9" font-size="4.8">0</tspan></text>
<text x="397.9" y="573.4" font-size="5.9" text-anchor="middle" font-weight="bold" fill="#1a1a1a">10<tspan dy="-2.9" font-size="4.8">1</tspan></text>
<text x="422.1" y="573.4" font-size="5.9" text-anchor="middle" font-weight="bold" fill="#1a1a1a">10<tspan dy="-2.9" font-size="4.8">2</tspan></text>
<text x="446.3" y="573.4" font-size="5.9" text-anchor="middle" font-weight="bold" fill="#1a1a1a">10<tspan dy="-2.9" font-size="4.8">3</tspan></text>
<text x="470.4" y="573.4" font-size="5.9" text-anchor="middle" font-weight="bold" fill="#1a1a1a">10<tspan dy="-2.9" font-size="4.8">4</tspan></text>
<text x="369.9" y="565.5" font-size="5.9" text-anchor="end" font-weight="bold" fill="#1a1a1a">10<tspan dy="-2.9" font-size="4.8">0</tspan></text>
<text x="369.9" y="541.4" font-size="5.9" text-anchor="end" font-weight="bold" fill="#1a1a1a">10<tspan dy="-2.9" font-size="4.8">1</tspan></text>
<text x="369.9" y="517.2" font-size="5.9" text-anchor="end" font-weight="bold" fill="#1a1a1a">10<tspan dy="-2.9" font-size="4.8">2</tspan></text>
<text x="369.9" y="493.1" font-size="5.9" text-anchor="end" font-weight="bold" fill="#1a1a1a">10<tspan dy="-2.9" font-size="4.8">3</tspan></text>
<text x="369.9" y="469" font-size="5.9" text-anchor="end" font-weight="bold" fill="#1a1a1a">10<tspan dy="-2.9" font-size="4.8">4</tspan></text>
<text x="421.8" y="579.7" font-size="5.7" text-anchor="middle" font-weight="bold" fill="#222">Sca-1</text>
<text transform="translate(358.9 515) rotate(-90)" font-size="6.1" text-anchor="middle" font-weight="bold" fill="#222">FL4-H</text>
<path d="M415.5 512h0.9M430.5 516h0.9M410 517h0.9M441.5 518.5h0.9m3.1 0h0.9M434.5 519h0.9M419.5 520h0.9m6.1 0h0.9M433 521h0.9M425 521.5h0.9m15.1 0h0.9M424 522.5h0.9m3.1 0h0.9m13.1 0h0.9M424.5 523h0.9m5.6 0h0.9M425.5 523.5h0.9m26.1 0h0.9M419 524h0.9m14.6 0h0.9m0.1 0h0.9M410 524.5h0.9m15.1 0h0.9m2.6 0h0.9m6.1 0h0.9m1.1 0h0.9M411.5 525h0.9m21.1 0h0.9m1.1 0h0.9M410.5 525.5h0.9m14.6 0h0.9m9.1 0h1.4M428.5 526h0.9m15.1 0h0.9M414.5 526.5h0.9m1.1 0h1.4m5.1 0h0.9m5.6 0h0.9m5.1 0h0.9m6.1 0h0.9M413 527h0.9m12.1 0h0.9m1.6 0h0.9m10.1 0h0.9M409 527.5h0.9m2.1 0h0.9m6.6 0h0.9m4.1 0h0.9m2.6 0h0.9m11.6 0h0.9m0.6 0h0.9M411.5 528h0.9m9.6 0h0.9m2.1 0h0.9m4.1 0h1.9m4.1 0h0.9m5.6 0h0.9m0.1 0h0.9m6.1 0h0.9M408.5 528.5h0.9m0.6 0h0.9m1.1 0h0.9m8.1 0h0.9m1.1 0h0.9m6.6 0h0.9m7.1 0h0.9m1.1 0h0.9m3.6 0h0.9M409 529h0.9m12.6 0h0.9m1.6 0h0.9m13.6 0h0.9m9.6 0h0.9M426 529.5h1.4m0.6 0h0.9m1.1 0h0.9m6.6 0h0.9m6.1 0h0.9m0.1 0h0.9M408.5 530h0.9m0.1 0h0.9m0.1 0h0.9m6.1 0h0.9m17.1 0h0.9m0.1 0h0.9m1.1 0h0.9m0.6 0h0.9m1.1 0h0.9m0.1 0h0.9M416 530.5h0.9m10.6 0h0.9m0.6 0h1.9m0.6 0h1.4m2.1 0h0.9m3.1 0h1.4m2.6 0h0.9M412.5 531h0.9m6.6 0h0.9m7.6 0h1.4m17.1 0h0.9M409 531.5h0.9m0.1 0h0.9m0.1 0h0.9m4.6 0h0.9m15.6 0h0.9M422 532h0.9m2.6 0h0.9m2.6 0h0.9m2.1 0h1.4m1.6 0h0.9m2.1 0h1.4m1.6 0h0.9M402.5 532.5h0.9m21.1 0h0.9m4.1 0h0.9m5.1 0h0.9M416.5 533h0.9m16.1 0h0.9m2.1 0h0.9M426 533.5h0.9m4.1 0h0.9m0.6 0h0.9M417.5 534h0.9m3.6 0h0.9m2.1 0h0.9m3.1 0h0.9m0.6 0h0.9m0.6 0h0.9m6.1 0h0.9M420.5 534.5h0.9m10.6 0h0.9M433.5 535h0.9M411 535.5h1.4m3.6 0h0.9m11.6 0h0.9m13.6 0h0.9m1.1 0h0.9M432 536h0.9m15.6 0h0.9M412.5 536.5h0.9m3.6 0h0.9m1.6 0h0.9m3.6 0h0.9m6.6 0h0.9M428 537h0.9m3.6 0h0.9m2.6 0h0.9m2.6 0h0.9M424.5 537.5h0.9m0.1 0h0.9m11.6 0h0.9M426.5 538h0.9m4.1 0h0.9m7.1 0h0.9m0.6 0h0.9m3.6 0h0.9m1.1 0h0.9M419.5 538.5h0.9m18.6 0h0.9m7.6 0h0.9M413.5 539.5h0.9m11.1 0h0.9m4.1 0h0.9M443.5 540h0.9M416 541.5h0.9m8.1 0h0.9M407 542h0.9m13.6 0h0.9M455 544h0.9M431.5 544.5h0.9m12.1 0h0.9" stroke="#000" stroke-width="0.9" stroke-opacity="0.85" fill="none" filter="url(#b2)"/>
<polygon points="418.8,507.9 466,507.9 466,554.8 418.8,554.8" fill="none" stroke="#5e6cae" stroke-width="1.2" stroke-linejoin="miter"/>
<text x="444" y="494.4" font-size="15" text-anchor="middle" fill="#111" stroke="#111" stroke-width="0.25" textLength="26.3" lengthAdjust="spacingAndGlyphs">75.1</text>
<text x="425.3" y="459.7" font-size="14.2" text-anchor="middle" fill="#111" stroke="#111" stroke-width="0.25">ALDH<tspan dy="-5" font-size="9.3">+</tspan><tspan dy="5">Sca-1</tspan><tspan dy="-5" font-size="9.3">+</tspan></text>
</g>
<g>
<path d="M373.5 708.3V612H470.1V708.3" fill="none" stroke="#b9b9b9" stroke-width="1"/>
<path d="M373 708.3H470.6" fill="none" stroke="#555" stroke-width="1"/>
<path d="M373.5 708.3v-2M380.8 708.3v-1M385 708.3v-1M388 708.3v-1M390.4 708.3v-1M392.3 708.3v-1M393.9 708.3v-1M395.3 708.3v-1M396.5 708.3v-1M397.6 708.3v-2M404.9 708.3v-1M409.2 708.3v-1M412.2 708.3v-1M414.5 708.3v-1M416.4 708.3v-1M418.1 708.3v-1M419.5 708.3v-1M420.7 708.3v-1M421.8 708.3v-2M429.1 708.3v-1M433.3 708.3v-1M436.3 708.3v-1M438.7 708.3v-1M440.6 708.3v-1M442.2 708.3v-1M443.6 708.3v-1M444.8 708.3v-1M446 708.3v-2M453.2 708.3v-1M457.5 708.3v-1M460.5 708.3v-1M462.8 708.3v-1M464.7 708.3v-1M466.4 708.3v-1M467.8 708.3v-1M469 708.3v-1M470.1 708.3v-2" stroke="#555" stroke-width="0.6" fill="none"/>
<text x="373.8" y="719" font-size="5.9" text-anchor="middle" font-weight="bold" fill="#111">10<tspan dy="-3.1" font-size="4.9">0</tspan></text>
<text x="397.9" y="719" font-size="5.9" text-anchor="middle" font-weight="bold" fill="#111">10<tspan dy="-3.1" font-size="4.9">1</tspan></text>
<text x="422.1" y="719" font-size="5.9" text-anchor="middle" font-weight="bold" fill="#111">10<tspan dy="-3.1" font-size="4.9">2</tspan></text>
<text x="446.3" y="719" font-size="5.9" text-anchor="middle" font-weight="bold" fill="#111">10<tspan dy="-3.1" font-size="4.9">3</tspan></text>
<text x="470.4" y="719" font-size="5.9" text-anchor="middle" font-weight="bold" fill="#111">10<tspan dy="-3.1" font-size="4.9">4</tspan></text>
<text x="369.9" y="710.6" font-size="5.9" text-anchor="end" font-weight="bold" fill="#111">10<tspan dy="-3.1" font-size="4.9">0</tspan></text>
<text x="369.9" y="686.5" font-size="5.9" text-anchor="end" font-weight="bold" fill="#111">10<tspan dy="-3.1" font-size="4.9">1</tspan></text>
<text x="369.9" y="662.4" font-size="5.9" text-anchor="end" font-weight="bold" fill="#111">10<tspan dy="-3.1" font-size="4.9">2</tspan></text>
<text x="369.9" y="638.4" font-size="5.9" text-anchor="end" font-weight="bold" fill="#111">10<tspan dy="-3.1" font-size="4.9">3</tspan></text>
<text x="369.9" y="614.3" font-size="5.9" text-anchor="end" font-weight="bold" fill="#111">10<tspan dy="-3.1" font-size="4.9">4</tspan></text>
<text x="421.3" y="724.8" font-size="5.8" text-anchor="middle" font-weight="bold" fill="#222">Sca-1-PE</text>
<text transform="translate(358.6 660.1) rotate(-90)" font-size="6.1" text-anchor="middle" font-weight="bold" fill="#222">FL4-H</text>
<path d="M415 654h0.8M436.5 658.5h0.8M402 659.5h0.8M408.5 661h0.8M438 662h0.8M400 663h0.8m2.7 0h0.8m14.2 0h0.8M407.5 664h0.8m0.7 0h0.8m0.2 0h0.8m1.7 0h0.8m3.7 0h0.8m5.2 0h0.8M409 664.5h0.8m0.2 0h0.8m0.2 0h0.8m0.7 0h0.8m15.7 0h0.8M400 665h1.3m5.2 0h1.3m3.7 0h0.8m0.2 0h1.3m0.2 0h0.8M402 665.5h1.3m0.7 0h0.8m0.2 0h0.8m0.7 0h0.8m0.7 0h1.3m0.7 0h0.8m0.2 0h1.8m0.7 0h0.8M400 666h0.8m1.7 0h0.8m0.7 0h0.8m1.7 0h1.8m0.2 0h2.8m0.2 0h0.8m0.7 0h1.3m4.2 0h0.8m18.2 0h1.3m4.2 0h0.8m22.7 0h0.8M403 666.5h0.8m3.7 0h1.8m0.7 0h1.8m0.7 0h1.3m1.2 0h0.8m18.2 0h0.8m2.2 0h0.8m4.7 0h0.8M400.5 667h0.8m0.2 0h1.8m2.2 0h2.3m0.2 0h1.3m0.2 0h2.3m1.7 0h1.8m0.7 0h0.8m23.7 0h0.8M401 667.5h0.8m1.2 0h0.8m0.2 0h3.3m0.2 0h1.3m0.2 0h5.3m0.2 0h0.8m2.2 0h0.8m0.7 0h0.8m2.7 0h0.8m3.2 0h0.8m9.2 0h0.8m10.2 0h0.8M396 668h0.8m2.2 0h0.8m0.2 0h0.8m0.2 0h4.3m0.2 0h3.3m0.7 0h1.8m0.2 0h1.3m0.2 0h1.3m0.2 0h0.8m0.2 0h0.8m0.7 0h0.8m0.7 0h0.8m1.2 0h0.8m10.2 0h1.3M397 668.5h0.8m1.7 0h1.8m0.2 0h1.3m0.2 0h0.8m0.2 0h0.8m0.2 0h6.8m0.2 0h1.8m0.2 0h1.8m0.2 0h1.3m10.7 0h0.8m11.2 0h0.8m4.2 0h0.8m6.2 0h0.8M398.5 669h1.8m0.2 0h1.3m0.2 0h11.3m0.2 0h2.3m0.7 0h1.3m7.2 0h0.8m8.2 0h0.8m7.7 0h0.8M398 669.5h0.8m0.2 0h0.8m0.7 0h0.8m0.2 0h12.3m0.7 0h1.3m1.2 0h1.8m0.2 0h0.8m0.7 0h0.8m0.7 0h0.8m0.2 0h0.8m2.2 0h1.3m7.7 0h0.8m6.7 0h0.8m2.2 0h0.8m8.2 0h0.8M395 670h0.8m2.7 0h1.3m0.7 0h15.3m1.7 0h0.8m0.7 0h1.8m5.2 0h0.8m4.2 0h0.8m0.2 0h0.8m0.2 0h0.8m5.2 0h0.8M398.5 670.5h0.8m0.7 0h2.3m0.2 0h11.3m0.2 0h0.8m0.7 0h1.8m14.2 0h1.8m1.7 0h0.8m3.7 0h0.8m0.2 0h0.8m1.7 0h0.8m6.2 0h0.8M391 671h1.3m2.7 0h0.8m2.2 0h0.8m0.7 0h1.3m0.2 0h15.8m0.2 0h1.3m0.2 0h1.3m4.7 0h0.8m2.2 0h0.8m3.7 0h0.8m1.2 0h0.8m0.7 0h0.8m5.2 0h0.8m7.7 0h0.8M395.5 671.5h0.8m0.7 0h0.8m1.2 0h15.3m0.2 0h1.8m3.2 0h0.8m2.2 0h0.8m1.2 0h1.3m0.2 0h0.8m0.2 0h0.8m0.2 0h0.8m0.2 0h0.8m1.2 0h0.8m1.2 0h0.8m0.7 0h0.8m1.2 0h0.8m6.2 0h0.8M393.5 672h0.8m2.2 0h0.8m2.2 0h15.8m0.2 0h0.8m0.2 0h0.8m7.2 0h0.8m4.2 0h1.3m0.7 0h1.8m0.2 0h0.8m0.2 0h0.8m0.2 0h1.3m12.2 0h0.8m8.7 0h0.8M395.5 672.5h0.8m0.7 0h1.8m1.2 0h16.8m0.7 0h1.3m4.7 0h0.8m0.7 0h0.8m0.2 0h1.3m2.7 0h1.8m1.2 0h1.8m0.2 0h0.8m0.7 0h0.8m1.2 0h1.3m0.2 0h0.8m2.2 0h1.3m0.7 0h1.3m1.2 0h0.8M396 673h0.8m0.2 0h0.8m0.2 0h0.8m0.2 0h1.3m0.2 0h15.3m0.2 0h0.8m0.2 0h0.8m0.2 0h1.3m0.7 0h1.8m2.2 0h1.3m1.7 0h1.3m0.7 0h1.3m1.7 0h0.8m0.2 0h0.8m0.7 0h0.8m1.7 0h0.8m0.2 0h0.8m0.2 0h1.3m0.7 0h1.3M394.5 673.5h0.8m1.2 0h2.3m0.2 0h0.8m0.2 0h13.8m0.2 0h0.8m0.2 0h0.8m0.2 0h0.8m0.2 0h1.3m0.7 0h0.8m1.2 0h0.8m1.2 0h0.8m1.2 0h0.8m2.2 0h0.8m0.7 0h0.8m0.2 0h0.8m0.2 0h0.8m2.7 0h0.8m0.2 0h1.3m3.7 0h0.8m0.7 0h0.8m3.2 0h0.8m0.7 0h1.3M395.5 674h0.8m1.7 0h0.8m0.2 0h16.3m0.2 0h0.8m0.2 0h0.8m0.2 0h2.8m1.2 0h0.8m1.7 0h1.8m0.2 0h0.8m0.7 0h1.8m0.7 0h1.8m0.7 0h0.8m1.7 0h0.8m0.2 0h0.8m0.2 0h1.3m1.2 0h0.8m0.2 0h0.8m0.7 0h0.8m1.7 0h0.8m2.2 0h0.8m8.7 0h0.8M394.5 674.5h0.8m0.2 0h0.8m0.2 0h1.8m0.2 0h2.8m0.2 0h14.3m0.2 0h2.3m0.7 0h0.8m3.2 0h1.8m1.2 0h0.8m0.2 0h0.8m0.7 0h1.3m0.7 0h0.8m0.2 0h2.3m0.7 0h1.8m0.2 0h1.8m0.2 0h0.8m0.7 0h1.3m0.7 0h1.3m2.2 0h2.3m0.2 0h0.8m0.2 0h0.8M395.5 675h1.8m0.2 0h0.8m0.2 0h16.8m0.2 0h0.8m0.2 0h1.3m0.2 0h0.8m3.7 0h1.3m1.2 0h1.3m0.2 0h2.3m1.7 0h2.3m0.2 0h3.3m0.7 0h0.8m0.7 0h0.8m0.7 0h2.3m1.7 0h0.8m0.7 0h0.8m4.2 0h0.8m0.7 0h0.8m3.2 0h0.8M396 675.5h0.8m0.2 0h0.8m0.2 0h1.3m0.2 0h1.3m0.2 0h9.8m0.2 0h3.8m0.2 0h2.3m1.2 0h1.3m0.2 0h0.8m0.2 0h0.8m0.7 0h0.8m0.2 0h0.8m0.2 0h2.8m0.7 0h0.8m1.2 0h0.8m0.7 0h1.8m0.7 0h0.8m0.2 0h1.3m0.7 0h3.3m0.7 0h0.8m0.7 0h0.8m0.2 0h0.8m5.7 0h0.8m3.2 0h0.8M394.5 676h0.8m0.2 0h0.8m0.2 0h0.8m0.7 0h15.8m0.2 0h2.3m0.2 0h0.8m0.7 0h0.8m0.7 0h0.8m0.7 0h0.8m1.7 0h0.8m1.2 0h0.8m0.2 0h1.3m2.2 0h0.8m1.2 0h0.8m1.2 0h0.8m0.2 0h1.8m0.2 0h1.8m0.7 0h0.8m0.2 0h1.3m0.2 0h1.3m0.7 0h0.8m1.2 0h0.8m1.2 0h1.8m0.7 0h0.8m5.2 0h0.8M395.5 676.5h0.8m0.7 0h0.8m0.2 0h0.8m0.2 0h1.8m0.2 0h9.3m0.2 0h5.3m0.2 0h0.8m1.2 0h0.8m0.2 0h1.8m0.2 0h0.8m1.2 0h0.8m0.2 0h0.8m0.2 0h1.8m1.2 0h0.8m2.2 0h2.8m0.2 0h1.3m0.2 0h0.8m0.2 0h0.8m0.7 0h0.8m3.2 0h1.3m0.7 0h0.8m1.2 0h1.3m0.7 0h0.8m3.2 0h0.8M394 677h0.8m2.2 0h16.3m0.2 0h1.8m3.7 0h2.8m1.7 0h0.8m2.7 0h0.8m0.7 0h1.3m0.7 0h1.3m0.2 0h1.3m0.2 0h1.3m0.2 0h0.8m2.2 0h0.8m0.2 0h1.3m1.2 0h0.8m0.2 0h0.8m0.2 0h0.8m1.2 0h0.8m0.2 0h0.8m5.7 0h1.8m1.7 0h0.8M389 677.5h0.8m4.7 0h1.3m0.7 0h1.8m0.2 0h16.3m0.2 0h1.3m0.2 0h0.8m0.2 0h0.8m0.2 0h0.8m1.2 0h0.8m0.7 0h0.8m0.7 0h0.8m0.2 0h0.8m0.7 0h0.8m1.2 0h0.8m0.7 0h1.3m0.2 0h1.8m0.2 0h0.8m0.2 0h0.8m0.7 0h1.3m1.2 0h0.8m0.2 0h0.8m1.7 0h1.8m0.2 0h1.3m1.2 0h1.3m0.2 0h0.8m0.7 0h0.8m0.7 0h0.8M394.5 678h0.8m1.7 0h0.8m0.2 0h0.8m0.2 0h16.8m3.2 0h1.3m0.2 0h1.3m1.2 0h0.8m0.2 0h0.8m0.2 0h0.8m1.7 0h2.3m0.2 0h1.3m1.2 0h1.3m0.2 0h1.8m0.7 0h0.8m1.2 0h1.8m1.2 0h1.8m0.7 0h0.8m0.2 0h1.3m0.7 0h0.8M393 678.5h0.8m1.7 0h0.8m1.7 0h14.8m1.2 0h0.8m0.2 0h1.3m1.2 0h1.8m2.7 0h1.3m0.7 0h0.8m0.7 0h0.8m0.2 0h1.3m0.2 0h0.8m0.7 0h1.8m1.2 0h1.3m0.7 0h0.8m1.2 0h1.3m0.2 0h0.8m0.2 0h1.8m0.2 0h1.8m0.7 0h0.8m1.2 0h0.8m2.7 0h1.8m0.2 0h0.8M396.5 679h4.3m0.2 0h0.8m0.2 0h11.8m0.7 0h0.8m3.2 0h0.8m1.2 0h0.8m0.2 0h0.8m1.2 0h0.8m0.7 0h1.8m0.2 0h0.8m2.2 0h0.8m1.7 0h0.8m0.2 0h0.8m0.2 0h0.8m0.2 0h1.8m1.2 0h0.8m0.2 0h2.3m0.7 0h0.8m0.2 0h0.8m5.2 0h0.8m0.7 0h1.3m8.7 0h0.8M395.5 679.5h1.3m0.2 0h1.3m0.2 0h0.8m0.2 0h11.3m0.2 0h1.3m0.2 0h3.3m0.2 0h0.8m1.2 0h2.3m0.2 0h1.3m0.2 0h2.3m0.7 0h0.8m0.7 0h0.8m0.7 0h1.3m0.2 0h1.3m0.2 0h2.8m1.7 0h0.8m1.2 0h1.3m0.2 0h2.8m0.2 0h0.8m1.2 0h0.8m1.7 0h0.8m2.2 0h0.8m0.7 0h0.8m0.2 0h0.8m1.2 0h0.8m0.2 0h0.8m0.7 0h0.8M392 680h0.8m1.7 0h1.3m1.2 0h1.8m1.2 0h13.3m0.2 0h1.3m0.2 0h1.3m0.2 0h0.8m4.7 0h0.8m1.7 0h0.8m1.2 0h0.8m0.7 0h0.8m0.2 0h0.8m0.7 0h0.8m0.7 0h1.3m1.2 0h1.3m1.2 0h0.8m0.7 0h0.8m0.2 0h1.3m0.2 0h0.8m1.2 0h0.8m2.7 0h0.8m8.2 0h0.8m2.2 0h0.8M393 680.5h0.8m2.7 0h0.8m0.7 0h4.8m0.2 0h8.3m0.7 0h1.8m0.2 0h0.8m0.7 0h2.8m0.2 0h0.8m0.7 0h0.8m3.2 0h1.3m2.2 0h0.8m0.2 0h0.8m0.7 0h1.3m0.2 0h0.8m0.2 0h0.8m0.2 0h0.8m0.7 0h0.8m0.2 0h2.8m0.2 0h1.3m1.2 0h0.8m1.2 0h1.3m0.7 0h1.3m0.2 0h1.3M395.5 681h0.8m2.7 0h0.8m0.2 0h1.3m0.2 0h11.3m0.2 0h0.8m1.7 0h0.8m0.2 0h0.8m4.7 0h0.8m0.2 0h0.8m0.2 0h0.8m1.7 0h0.8m0.2 0h0.8m0.2 0h1.3m0.2 0h0.8m1.2 0h0.8m0.7 0h1.3m0.7 0h0.8m0.2 0h1.3m1.2 0h0.8m6.2 0h0.8m2.2 0h0.8m2.2 0h0.8m0.2 0h0.8M396.5 681.5h0.8m0.7 0h1.3m1.2 0h3.3m0.2 0h2.3m0.2 0h1.8m0.2 0h1.3m0.7 0h1.3m0.2 0h1.8m0.7 0h0.8m0.2 0h0.8m1.7 0h1.3m2.2 0h0.8m1.2 0h0.8m0.7 0h0.8m0.2 0h2.8m1.2 0h0.8m0.2 0h2.3m2.2 0h0.8m0.7 0h0.8m4.2 0h1.3m4.7 0h0.8m2.2 0h0.8M392 682h0.8m4.2 0h0.8m2.2 0h0.8m1.7 0h4.8m0.2 0h2.3m1.2 0h1.3m0.2 0h0.8m0.2 0h0.8m2.7 0h1.3m0.2 0h1.3m0.7 0h0.8m0.2 0h0.8m0.2 0h0.8m1.7 0h0.8m0.7 0h0.8m0.7 0h0.8m2.2 0h0.8m2.7 0h0.8m1.7 0h3.3m3.7 0h0.8m1.7 0h0.8m0.2 0h1.8m4.7 0h0.8M396 682.5h0.8m1.7 0h0.8m0.2 0h0.8m0.7 0h1.3m0.7 0h0.8m0.2 0h1.8m0.2 0h1.3m0.2 0h1.3m0.2 0h1.3m0.2 0h1.8m0.2 0h1.8m2.7 0h2.3m7.7 0h1.3m0.7 0h1.8m0.2 0h0.8m0.7 0h0.8m1.7 0h0.8m0.7 0h0.8m2.7 0h1.3m5.7 0h0.8m1.7 0h0.8m0.2 0h0.8m2.2 0h0.8M397.5 683h1.8m0.7 0h0.8m0.2 0h0.8m0.7 0h0.8m0.2 0h2.3m0.2 0h1.3m0.2 0h1.3m0.2 0h0.8m3.2 0h0.8m1.7 0h0.8m0.7 0h0.8m0.2 0h0.8m2.2 0h1.3m2.2 0h0.8m1.2 0h0.8m0.7 0h0.8m0.7 0h1.8m1.7 0h0.8m4.7 0h0.8m5.7 0h0.8m0.2 0h0.8m0.2 0h1.3m4.7 0h0.8m3.2 0h0.8M395.5 683.5h0.8m0.7 0h0.8m2.2 0h2.3m0.2 0h1.3m0.2 0h1.3m0.7 0h0.8m0.2 0h0.8m0.2 0h0.8m0.2 0h1.3m0.2 0h1.3m2.2 0h0.8m1.2 0h0.8m4.2 0h0.8m0.7 0h0.8m0.2 0h0.8m0.7 0h0.8m3.2 0h0.8m0.7 0h0.8m6.2 0h1.3m0.7 0h0.8m3.7 0h1.8m2.2 0h0.8M384.5 684h0.8m7.7 0h0.8m3.7 0h0.8m1.2 0h0.8m1.2 0h0.8m0.7 0h1.8m0.2 0h1.8m0.2 0h0.8m0.7 0h1.3m0.7 0h1.3m0.7 0h0.8m8.2 0h0.8m2.2 0h0.8m1.7 0h0.8m1.2 0h0.8m3.7 0h0.8m0.7 0h0.8m1.7 0h0.8m4.2 0h0.8m0.7 0h0.8m1.7 0h0.8m0.7 0h0.8m3.2 0h0.8m5.7 0h0.8M383.5 684.5h0.8m8.7 0h0.8m3.2 0h0.8m1.2 0h0.8m0.7 0h1.3m0.2 0h1.3m0.2 0h0.8m4.2 0h0.8m0.7 0h0.8m0.7 0h1.3m8.7 0h0.8m2.2 0h0.8m0.7 0h0.8m0.2 0h0.8m3.7 0h0.8m0.2 0h0.8m1.7 0h1.3m6.7 0h0.8m1.7 0h0.8m1.2 0h0.8m4.2 0h0.8M395 685h0.8m4.7 0h0.8m3.2 0h0.8m0.2 0h0.8m0.7 0h0.8m0.2 0h0.8m10.2 0h0.8m2.2 0h0.8m1.7 0h0.8m0.2 0h0.8m3.2 0h1.3m0.2 0h0.8m0.7 0h0.8m1.2 0h1.3m2.7 0h0.8m2.7 0h0.8m0.2 0h0.8m3.7 0h0.8m2.2 0h0.8m2.7 0h0.8M394 685.5h0.8m1.7 0h0.8m3.2 0h0.8m1.7 0h0.8m1.2 0h2.3m1.7 0h0.8m2.7 0h0.8m8.2 0h0.8m4.2 0h1.3m1.7 0h0.8m0.7 0h0.8m1.2 0h0.8m3.7 0h0.8m0.2 0h0.8m0.7 0h0.8m5.7 0h0.8M399 686h0.8m0.7 0h0.8m1.2 0h0.8m2.2 0h0.8m0.7 0h1.8m0.7 0h0.8m3.2 0h0.8m0.2 0h0.8m1.2 0h1.3m5.2 0h1.3m9.2 0h0.8m4.7 0h0.8M401 686.5h0.8m1.7 0h0.8m1.7 0h0.8m2.7 0h0.8m1.2 0h0.8m1.2 0h0.8m1.7 0h0.8m3.2 0h1.3m0.7 0h0.8m4.2 0h0.8m0.2 0h0.8m2.7 0h0.8m4.2 0h0.8m1.2 0h0.8m7.2 0h0.8M395 687h0.8m6.7 0h1.3m1.7 0h0.8m1.2 0h0.8m1.2 0h0.8m5.2 0h0.8m1.2 0h0.8m0.7 0h0.8m13.7 0h0.8m8.2 0h0.8M394 687.5h0.8m4.2 0h1.3m6.2 0h0.8m16.2 0h0.8m5.7 0h0.8m9.2 0h0.8m5.7 0h0.8m9.2 0h0.8m3.2 0h0.8M390.5 688h0.8m15.7 0h0.8m0.2 0h0.8m3.7 0h0.8m4.7 0h0.8m2.7 0h0.8m0.2 0h0.8m9.7 0h0.8m0.7 0h0.8m4.2 0h1.3M402.5 688.5h0.8m2.2 0h0.8m0.7 0h0.8m2.2 0h1.3m4.7 0h0.8m4.2 0h0.8m7.7 0h0.8m1.7 0h0.8m1.2 0h0.8m7.7 0h0.8M388.5 689h0.8m10.2 0h0.8m3.2 0h0.8m2.7 0h0.8m1.7 0h0.8m3.2 0h0.8m5.2 0h0.8m3.2 0h0.8m12.2 0h0.8m14.7 0h0.8m3.2 0h0.8M397 689.5h0.8m1.7 0h0.8m1.2 0h0.8m5.2 0h0.8m1.7 0h0.8m1.2 0h0.8m4.7 0h0.8m2.2 0h0.8m2.2 0h0.8m8.2 0h0.8m2.7 0h1.3m3.7 0h0.8m10.7 0h0.8M392.5 690h0.8m2.2 0h0.8m5.7 0h1.8m21.2 0h0.8m12.2 0h0.8m8.7 0h0.8M387 690.5h0.8m1.2 0h0.8m2.7 0h0.8m2.2 0h0.8m5.7 0h0.8m48.2 0h0.8M397 691h0.8m1.7 0h0.8m3.7 0h0.8m1.7 0h0.8m1.7 0h0.8m1.7 0h0.8m0.2 0h0.8m2.2 0h0.8m2.2 0h0.8m4.7 0h0.8m7.7 0h0.8m8.2 0h0.8M402 691.5h0.8m1.2 0h0.8m7.7 0h0.8m2.7 0h0.8m13.7 0h0.8M390 692h0.8m2.7 0h0.8m9.7 0h0.8m0.2 0h0.8m11.7 0h0.8m0.2 0h0.8m0.2 0h0.8m3.2 0h0.8M406.5 692.5h0.8m6.2 0h0.8M387.5 693h0.8m7.7 0h0.8m5.7 0h0.8M396 694h1.3m7.2 0h0.8m0.2 0h0.8m0.2 0h0.8m14.2 0h0.8m25.7 0h0.8M402.5 694.5h1.3m35.7 0h0.8M401.5 695h0.8m10.2 0h0.8M388.5 695.5h0.8m9.7 0h0.8m14.2 0h0.8M394 696h0.8m10.2 0h0.8m2.2 0h0.8m5.7 0h0.8m2.7 0h0.8m12.2 0h0.8M403 696.5h0.8m15.7 0h0.8M391 697h0.8m3.7 0h0.8m21.2 0h0.8M417 698.5h0.8M391.5 699h0.8m33.2 0h0.8M407.5 699.5h0.8M415.5 700h0.8m17.2 0h0.8M409 700.5h0.8M425 701h0.8m23.7 0h0.8M434 702h0.8m0.7 0h0.8M431 704h0.8" stroke="#000" stroke-width="0.8" fill="none" filter="url(#b2)"/>
<polygon points="418.8,653 466,653 466,699.9 418.8,699.9" fill="none" stroke="#5e6cae" stroke-width="1.2" stroke-linejoin="miter"/>
<text x="444.6" y="636.8" font-size="15" text-anchor="middle" fill="#111" stroke="#111" stroke-width="0.25" textLength="26.3" lengthAdjust="spacingAndGlyphs">26.4</text>
<text x="425.3" y="603.8" font-size="14.2" text-anchor="middle" fill="#111" stroke="#111" stroke-width="0.25">ALDH<tspan dy="-5" font-size="9.3">-</tspan><tspan dy="5">Sca-1</tspan><tspan dy="-5" font-size="9.3">+</tspan></text>
</g>
<g>
<rect x="343.7" y="212.5" width="162.3" height="121" fill="#060608"/>
<g clip-path="url(#cimg)">
<g filter="url(#b3)" opacity="0.45">
<circle cx="377.3" cy="245.2" r="6.4" fill="#1a997d"/>
<circle cx="386" cy="241.3" r="6.3" fill="#2db97d"/>
<circle cx="387" cy="235.6" r="5.1" fill="#1e2d7e"/>
<circle cx="397.5" cy="240.4" r="6.7" fill="#146a6c"/>
<circle cx="377.3" cy="254.8" r="6.4" fill="#188884"/>
<circle cx="387" cy="249" r="5.9" fill="#1e3384"/>
<circle cx="388" cy="261.5" r="6.4" fill="#213f93"/>
<circle cx="396.5" cy="252" r="6.2" fill="#1a7f6f"/>
<circle cx="406" cy="249" r="5.8" fill="#1f2f80"/>
<circle cx="399.4" cy="261.5" r="6.2" fill="#1e408d"/>
<circle cx="409" cy="257.7" r="5.8" fill="#1e3484"/>
<circle cx="415.8" cy="265.4" r="6.5" fill="#1f3f91"/>
<circle cx="466.2" cy="305.6" r="6.2" fill="#1a9c71"/>
<circle cx="471.5" cy="315.8" r="6.2" fill="#1a9a76"/>
<circle cx="453.7" cy="310.4" r="5.5" fill="#1f2777"/>
<circle cx="459.4" cy="320.4" r="5.7" fill="#1f2c7e"/>
<circle cx="350" cy="331" r="6.3" fill="#137f76"/>
</g><g filter="url(#b1)">
<circle cx="377.3" cy="245.2" r="4.9" fill="#1a997d"/>
<circle cx="386" cy="241.3" r="4.8" fill="#2db97d"/>
<circle cx="387" cy="235.6" r="3.6" fill="#1e2d7e"/>
<circle cx="397.5" cy="240.4" r="5.2" fill="#146a6c"/>
<circle cx="377.3" cy="254.8" r="4.9" fill="#188884"/>
<circle cx="387" cy="249" r="4.4" fill="#1e3384"/>
<circle cx="388" cy="261.5" r="4.9" fill="#213f93"/>
<circle cx="396.5" cy="252" r="4.7" fill="#1a7f6f"/>
<circle cx="406" cy="249" r="4.3" fill="#1f2f80"/>
<circle cx="399.4" cy="261.5" r="4.7" fill="#1e408d"/>
<circle cx="409" cy="257.7" r="4.3" fill="#1e3484"/>
<circle cx="415.8" cy="265.4" r="5" fill="#1f3f91"/>
<circle cx="466.2" cy="305.6" r="4.7" fill="#1a9c71"/>
<circle cx="471.5" cy="315.8" r="4.7" fill="#1a9a76"/>
<circle cx="453.7" cy="310.4" r="4" fill="#1f2777"/>
<circle cx="459.4" cy="320.4" r="4.2" fill="#1f2c7e"/>
<circle cx="350" cy="331" r="4.8" fill="#137f76"/>
</g></g>
<path d="M370.6 240.4L360 236.5L364.8 231.7Z M383 232.7L376.3 224.6L383.5 222.5Z M473.3 298.5L476.7 288.3L483.8 293.5Z M480 311.3L487.3 302.3L492.7 309Z" fill="#fff"/>
<text x="465" y="231.7" font-size="18" text-anchor="middle" font-weight="normal" fill="#fff">H358</text>
<text x="347" y="351.7" font-size="12.7" text-anchor="start" font-weight="normal" fill="#5cb860">BAA</text>
<text x="506" y="351.7" font-size="12.7" text-anchor="end" font-weight="normal" fill="#4d5a9c">DAPI</text>
</g>
</svg></body></html>
